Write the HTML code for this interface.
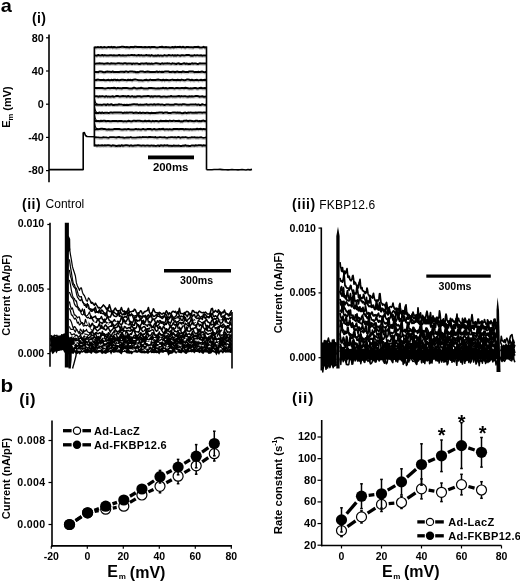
<!DOCTYPE html>
<html><head><meta charset="utf-8"><title>Figure</title><style>
html,body{margin:0;padding:0;background:#fff;overflow:hidden;}
svg{display:block;will-change:transform;}
text{font-family:"Liberation Sans",sans-serif;fill:#000;}
</style></head><body>
<svg width="520" height="582" viewBox="0 0 520 582">
<rect width="520" height="582" fill="#fff"/>
<text transform="translate(0.8,12.2) scale(1.12,1)" font-size="17.8" font-weight="bold">a</text>
<text x="32.00" y="23.00" font-size="14" font-weight="bold" text-anchor="start" letter-spacing="0.4">(i)</text>
<line x1="49.00" y1="34.50" x2="49.00" y2="182.30" stroke="#000" stroke-width="1.6" />
<line x1="46.00" y1="37.80" x2="49.00" y2="37.80" stroke="#000" stroke-width="1.2" />
<text x="43.80" y="41.60" font-size="10.8" font-weight="bold" text-anchor="end" >80</text>
<line x1="46.00" y1="71.00" x2="49.00" y2="71.00" stroke="#000" stroke-width="1.2" />
<text x="43.80" y="74.80" font-size="10.8" font-weight="bold" text-anchor="end" >40</text>
<line x1="46.00" y1="104.20" x2="49.00" y2="104.20" stroke="#000" stroke-width="1.2" />
<text x="43.80" y="108.00" font-size="10.8" font-weight="bold" text-anchor="end" >0</text>
<line x1="46.00" y1="137.40" x2="49.00" y2="137.40" stroke="#000" stroke-width="1.2" />
<text x="43.80" y="141.20" font-size="10.8" font-weight="bold" text-anchor="end" >-40</text>
<line x1="46.00" y1="170.60" x2="49.00" y2="170.60" stroke="#000" stroke-width="1.2" />
<text x="43.80" y="174.40" font-size="10.8" font-weight="bold" text-anchor="end" >-80</text>
<text transform="translate(10,107) rotate(-90)" font-size="11" font-weight="bold" text-anchor="middle">E<tspan font-size="7.5" dy="2.5">m</tspan><tspan dy="-2"> (mV)</tspan></text>
<path d="M49.0,169.6 L83.2,169.6 L83.2,133.0 L84.3,132.5 L85.5,135.5 L87.0,136.5 L94.3,136.7" fill="none" stroke="#000" stroke-width="1.6" stroke-linejoin="round" />
<line x1="94.40" y1="46.70" x2="94.40" y2="146.50" stroke="#000" stroke-width="1.7" />
<path d="M94.4,145.5 L95.7,145.3 L97.0,145.7 L98.3,145.3 L99.6,145.6 L100.9,145.5 L102.2,145.2 L103.5,145.6 L104.8,145.2 L106.1,145.5 L107.4,145.3 L108.7,145.3 L110.0,145.5 L111.3,145.9 L112.6,145.3 L113.9,145.4 L115.2,145.7 L116.5,146.0 L117.8,145.7 L119.1,145.5 L120.4,146.0 L121.7,145.2 L123.0,145.9 L124.3,145.4 L125.6,145.3 L126.9,145.3 L128.2,145.4 L129.5,145.9 L130.8,145.3 L132.1,145.7 L133.4,145.7 L134.7,145.5 L136.0,145.6 L137.3,145.3 L138.6,145.2 L139.9,145.4 L141.2,145.7 L142.5,145.5 L143.8,145.5 L145.1,145.7 L146.4,145.6 L147.7,145.4 L149.0,145.8 L150.3,145.8 L151.6,145.4 L152.9,145.7 L154.2,145.6 L155.5,145.9 L156.8,145.8 L158.1,145.4 L159.4,146.0 L160.7,145.3 L162.0,145.5 L163.3,145.8 L164.6,145.3 L165.9,145.6 L167.2,145.2 L168.5,145.7 L169.8,145.8 L171.1,145.7 L172.4,145.9 L173.7,145.5 L175.0,145.8 L176.3,145.7 L177.6,145.7 L178.9,145.6 L180.2,145.9 L181.5,146.0 L182.8,145.6 L184.1,145.7 L185.4,145.2 L186.7,145.8 L188.0,145.7 L189.3,146.0 L190.6,145.9 L191.9,145.4 L193.2,145.5 L194.5,145.7 L195.8,145.2 L197.1,145.6 L198.4,145.3 L199.7,145.3 L201.0,145.2 L202.3,145.8 L203.6,145.3 L204.9,145.4 L206.5,145.6" fill="none" stroke="#000" stroke-width="2.0" stroke-linejoin="round" />
<path d="M95.7,147.0 L97.0,147.4 L98.3,147.0 L99.6,147.3 L100.9,147.2 L102.2,146.9 L103.5,147.3 L104.8,146.9 L106.1,147.2 L107.4,147.0 L108.7,147.0 L110.0,147.2 L111.3,147.6 L112.6,147.0 L113.9,147.1 L115.2,147.4 L116.5,147.7 L117.8,147.4 L119.1,147.2 L120.4,147.7 L121.7,146.9 L123.0,147.6 L124.3,147.1 L125.6,147.0 L126.9,147.0 L128.2,147.1 L129.5,147.6 L130.8,147.0 L132.1,147.4 L133.4,147.4 L134.7,147.2 L136.0,147.3 L137.3,147.0 L138.6,146.9 L139.9,147.1 L141.2,147.4 L142.5,147.2 L143.8,147.2 L145.1,147.4 L146.4,147.3 L147.7,147.1 L149.0,147.5 L150.3,147.5 L151.6,147.1 L152.9,147.4 L154.2,147.3 L155.5,147.6 L156.8,147.5 L158.1,147.1 L159.4,147.7 L160.7,147.0 L162.0,147.2 L163.3,147.5 L164.6,147.0 L165.9,147.3 L167.2,146.9 L168.5,147.4 L169.8,147.5 L171.1,147.4 L172.4,147.6 L173.7,147.2 L175.0,147.5 L176.3,147.4 L177.6,147.4 L178.9,147.3 L180.2,147.6 L181.5,147.7 L182.8,147.3 L184.1,147.4 L185.4,146.9 L186.7,147.5 L188.0,147.4 L189.3,147.7 L190.6,147.6 L191.9,147.1 L193.2,147.2 L194.5,147.4 L195.8,146.9 L197.1,147.3 L198.4,147.0 L199.7,147.0 L201.0,146.9 L202.3,147.5 L203.6,147.0 L204.9,147.1 L206.5,147.3" fill="none" stroke="#000" stroke-width="0.9" stroke-linejoin="round" stroke-opacity="0.3"/>
<path d="M94.4,137.7 L95.7,137.1 L97.0,137.4 L98.3,137.4 L99.6,137.7 L100.9,137.7 L102.2,137.7 L103.5,137.2 L104.8,137.3 L106.1,137.3 L107.4,137.7 L108.7,137.8 L110.0,137.1 L111.3,137.1 L112.6,137.2 L113.9,137.2 L115.2,137.4 L116.5,137.5 L117.8,137.2 L119.1,137.0 L120.4,137.3 L121.7,137.3 L123.0,137.5 L124.3,137.8 L125.6,137.6 L126.9,137.4 L128.2,137.5 L129.5,137.5 L130.8,137.0 L132.1,137.7 L133.4,137.6 L134.7,137.7 L136.0,137.6 L137.3,137.3 L138.6,137.3 L139.9,137.1 L141.2,137.5 L142.5,137.0 L143.8,137.1 L145.1,137.2 L146.4,137.1 L147.7,137.3 L149.0,137.0 L150.3,137.0 L151.6,137.1 L152.9,137.1 L154.2,137.3 L155.5,137.0 L156.8,137.7 L158.1,137.5 L159.4,137.1 L160.7,137.2 L162.0,137.3 L163.3,137.3 L164.6,137.1 L165.9,137.7 L167.2,137.8 L168.5,137.4 L169.8,137.4 L171.1,137.1 L172.4,137.1 L173.7,137.3 L175.0,137.2 L176.3,137.7 L177.6,137.1 L178.9,137.0 L180.2,137.8 L181.5,137.4 L182.8,137.1 L184.1,137.4 L185.4,137.0 L186.7,137.4 L188.0,137.8 L189.3,137.7 L190.6,137.6 L191.9,137.2 L193.2,137.3 L194.5,137.1 L195.8,137.6 L197.1,137.4 L198.4,137.6 L199.7,137.3 L201.0,137.2 L202.3,137.6 L203.6,137.8 L204.9,137.7 L206.5,137.4" fill="none" stroke="#000" stroke-width="1.8" stroke-linejoin="round" />
<path d="M95.7,138.8 L97.0,139.1 L98.3,139.1 L99.6,139.4 L100.9,139.4 L102.2,139.4 L103.5,138.9 L104.8,139.0 L106.1,139.0 L107.4,139.4 L108.7,139.5 L110.0,138.8 L111.3,138.8 L112.6,138.9 L113.9,138.9 L115.2,139.1 L116.5,139.2 L117.8,138.9 L119.1,138.7 L120.4,139.0 L121.7,139.0 L123.0,139.2 L124.3,139.5 L125.6,139.3 L126.9,139.1 L128.2,139.2 L129.5,139.2 L130.8,138.7 L132.1,139.4 L133.4,139.3 L134.7,139.4 L136.0,139.3 L137.3,139.0 L138.6,139.0 L139.9,138.8 L141.2,139.2 L142.5,138.7 L143.8,138.8 L145.1,138.9 L146.4,138.8 L147.7,139.0 L149.0,138.7 L150.3,138.7 L151.6,138.8 L152.9,138.8 L154.2,139.0 L155.5,138.7 L156.8,139.4 L158.1,139.2 L159.4,138.8 L160.7,138.9 L162.0,139.0 L163.3,139.0 L164.6,138.8 L165.9,139.4 L167.2,139.5 L168.5,139.1 L169.8,139.1 L171.1,138.8 L172.4,138.8 L173.7,139.0 L175.0,138.9 L176.3,139.4 L177.6,138.8 L178.9,138.7 L180.2,139.5 L181.5,139.1 L182.8,138.8 L184.1,139.1 L185.4,138.7 L186.7,139.1 L188.0,139.5 L189.3,139.4 L190.6,139.3 L191.9,138.9 L193.2,139.0 L194.5,138.8 L195.8,139.3 L197.1,139.1 L198.4,139.3 L199.7,139.0 L201.0,138.9 L202.3,139.3 L203.6,139.5 L204.9,139.4 L206.5,139.1" fill="none" stroke="#000" stroke-width="0.9" stroke-linejoin="round" stroke-opacity="0.3"/>
<path d="M94.4,129.5 L95.7,129.4 L97.0,129.0 L98.3,129.2 L99.6,129.1 L100.9,128.8 L102.2,128.8 L103.5,129.0 L104.8,129.0 L106.1,129.4 L107.4,129.6 L108.7,129.2 L110.0,129.5 L111.3,129.6 L112.6,129.6 L113.9,129.1 L115.2,129.0 L116.5,129.0 L117.8,129.0 L119.1,129.0 L120.4,129.3 L121.7,129.5 L123.0,129.5 L124.3,129.2 L125.6,129.3 L126.9,129.4 L128.2,128.9 L129.5,129.3 L130.8,129.5 L132.1,129.4 L133.4,129.4 L134.7,129.2 L136.0,128.9 L137.3,129.4 L138.6,129.1 L139.9,129.4 L141.2,129.6 L142.5,129.1 L143.8,129.1 L145.1,129.6 L146.4,129.4 L147.7,128.9 L149.0,128.9 L150.3,128.9 L151.6,129.5 L152.9,129.4 L154.2,128.9 L155.5,129.5 L156.8,129.6 L158.1,129.3 L159.4,129.1 L160.7,129.2 L162.0,128.9 L163.3,128.8 L164.6,129.6 L165.9,129.3 L167.2,129.2 L168.5,129.5 L169.8,129.1 L171.1,129.5 L172.4,129.5 L173.7,129.0 L175.0,129.0 L176.3,129.0 L177.6,129.0 L178.9,129.3 L180.2,129.0 L181.5,129.1 L182.8,128.9 L184.1,129.5 L185.4,129.1 L186.7,129.2 L188.0,129.3 L189.3,129.5 L190.6,129.1 L191.9,129.5 L193.2,129.2 L194.5,129.2 L195.8,129.2 L197.1,128.8 L198.4,129.2 L199.7,128.9 L201.0,128.8 L202.3,129.4 L203.6,128.9 L204.9,129.2 L206.5,129.2" fill="none" stroke="#000" stroke-width="2.0" stroke-linejoin="round" />
<path d="M95.7,131.1 L97.0,130.7 L98.3,130.9 L99.6,130.8 L100.9,130.5 L102.2,130.5 L103.5,130.7 L104.8,130.7 L106.1,131.1 L107.4,131.3 L108.7,130.9 L110.0,131.2 L111.3,131.3 L112.6,131.3 L113.9,130.8 L115.2,130.7 L116.5,130.7 L117.8,130.7 L119.1,130.7 L120.4,131.0 L121.7,131.2 L123.0,131.2 L124.3,130.9 L125.6,131.0 L126.9,131.1 L128.2,130.6 L129.5,131.0 L130.8,131.2 L132.1,131.1 L133.4,131.1 L134.7,130.9 L136.0,130.6 L137.3,131.1 L138.6,130.8 L139.9,131.1 L141.2,131.3 L142.5,130.8 L143.8,130.8 L145.1,131.3 L146.4,131.1 L147.7,130.6 L149.0,130.6 L150.3,130.6 L151.6,131.2 L152.9,131.1 L154.2,130.6 L155.5,131.2 L156.8,131.3 L158.1,131.0 L159.4,130.8 L160.7,130.9 L162.0,130.6 L163.3,130.5 L164.6,131.3 L165.9,131.0 L167.2,130.9 L168.5,131.2 L169.8,130.8 L171.1,131.2 L172.4,131.2 L173.7,130.7 L175.0,130.7 L176.3,130.7 L177.6,130.7 L178.9,131.0 L180.2,130.7 L181.5,130.8 L182.8,130.6 L184.1,131.2 L185.4,130.8 L186.7,130.9 L188.0,131.0 L189.3,131.2 L190.6,130.8 L191.9,131.2 L193.2,130.9 L194.5,130.9 L195.8,130.9 L197.1,130.5 L198.4,130.9 L199.7,130.6 L201.0,130.5 L202.3,131.1 L203.6,130.6 L204.9,130.9 L206.5,130.9" fill="none" stroke="#000" stroke-width="0.9" stroke-linejoin="round" stroke-opacity="0.3"/>
<path d="M94.6,123.7 Q95.4,128.6 97.5,129.2" fill="none" stroke="#000" stroke-width="1.1" stroke-linejoin="round" />
<path d="M94.4,121.0 L95.7,120.9 L97.0,121.0 L98.3,121.0 L99.6,121.2 L100.9,120.7 L102.2,121.0 L103.5,120.8 L104.8,120.8 L106.1,121.2 L107.4,121.0 L108.7,121.0 L110.0,121.2 L111.3,121.3 L112.6,121.0 L113.9,121.1 L115.2,121.0 L116.5,121.0 L117.8,121.2 L119.1,121.0 L120.4,121.0 L121.7,121.0 L123.0,121.4 L124.3,121.2 L125.6,121.3 L126.9,121.4 L128.2,120.8 L129.5,121.0 L130.8,121.4 L132.1,121.3 L133.4,120.7 L134.7,120.7 L136.0,121.0 L137.3,120.7 L138.6,120.8 L139.9,120.7 L141.2,121.1 L142.5,121.2 L143.8,121.3 L145.1,120.7 L146.4,121.2 L147.7,121.1 L149.0,120.7 L150.3,121.3 L151.6,121.4 L152.9,120.8 L154.2,121.4 L155.5,120.9 L156.8,121.0 L158.1,121.4 L159.4,121.3 L160.7,120.7 L162.0,120.9 L163.3,121.0 L164.6,120.9 L165.9,120.8 L167.2,120.9 L168.5,121.2 L169.8,120.6 L171.1,121.0 L172.4,121.0 L173.7,120.6 L175.0,120.9 L176.3,121.1 L177.6,121.0 L178.9,120.7 L180.2,121.4 L181.5,121.2 L182.8,121.4 L184.1,120.7 L185.4,120.8 L186.7,120.6 L188.0,121.2 L189.3,120.8 L190.6,120.7 L191.9,120.9 L193.2,121.3 L194.5,121.3 L195.8,120.8 L197.1,120.7 L198.4,121.3 L199.7,121.1 L201.0,121.2 L202.3,120.7 L203.6,120.6 L204.9,121.2 L206.5,121.0" fill="none" stroke="#000" stroke-width="2.0" stroke-linejoin="round" />
<path d="M95.7,122.6 L97.0,122.7 L98.3,122.7 L99.6,122.9 L100.9,122.4 L102.2,122.7 L103.5,122.5 L104.8,122.5 L106.1,122.9 L107.4,122.7 L108.7,122.7 L110.0,122.9 L111.3,123.0 L112.6,122.7 L113.9,122.8 L115.2,122.7 L116.5,122.7 L117.8,122.9 L119.1,122.7 L120.4,122.7 L121.7,122.7 L123.0,123.1 L124.3,122.9 L125.6,123.0 L126.9,123.1 L128.2,122.5 L129.5,122.7 L130.8,123.1 L132.1,123.0 L133.4,122.4 L134.7,122.4 L136.0,122.7 L137.3,122.4 L138.6,122.5 L139.9,122.4 L141.2,122.8 L142.5,122.9 L143.8,123.0 L145.1,122.4 L146.4,122.9 L147.7,122.8 L149.0,122.4 L150.3,123.0 L151.6,123.1 L152.9,122.5 L154.2,123.1 L155.5,122.6 L156.8,122.7 L158.1,123.1 L159.4,123.0 L160.7,122.4 L162.0,122.6 L163.3,122.7 L164.6,122.6 L165.9,122.5 L167.2,122.6 L168.5,122.9 L169.8,122.3 L171.1,122.7 L172.4,122.7 L173.7,122.3 L175.0,122.6 L176.3,122.8 L177.6,122.7 L178.9,122.4 L180.2,123.1 L181.5,122.9 L182.8,123.1 L184.1,122.4 L185.4,122.5 L186.7,122.3 L188.0,122.9 L189.3,122.5 L190.6,122.4 L191.9,122.6 L193.2,123.0 L194.5,123.0 L195.8,122.5 L197.1,122.4 L198.4,123.0 L199.7,122.8 L201.0,122.9 L202.3,122.4 L203.6,122.3 L204.9,122.9 L206.5,122.7" fill="none" stroke="#000" stroke-width="0.9" stroke-linejoin="round" stroke-opacity="0.3"/>
<path d="M94.6,115.5 Q95.4,120.4 97.5,121.0" fill="none" stroke="#000" stroke-width="1.1" stroke-linejoin="round" />
<path d="M94.4,112.5 L95.7,113.2 L97.0,112.9 L98.3,113.0 L99.6,112.5 L100.9,113.1 L102.2,112.5 L103.5,113.1 L104.8,112.8 L106.1,112.7 L107.4,112.8 L108.7,113.1 L110.0,112.6 L111.3,112.5 L112.6,112.8 L113.9,112.6 L115.2,112.5 L116.5,112.5 L117.8,112.4 L119.1,112.6 L120.4,112.6 L121.7,112.6 L123.0,113.0 L124.3,112.6 L125.6,112.8 L126.9,112.5 L128.2,112.7 L129.5,112.4 L130.8,112.6 L132.1,112.4 L133.4,113.0 L134.7,112.8 L136.0,112.6 L137.3,112.8 L138.6,113.1 L139.9,112.5 L141.2,113.1 L142.5,112.7 L143.8,112.8 L145.1,113.1 L146.4,112.7 L147.7,112.8 L149.0,113.0 L150.3,113.2 L151.6,112.7 L152.9,113.1 L154.2,113.0 L155.5,112.9 L156.8,112.7 L158.1,112.7 L159.4,112.4 L160.7,112.5 L162.0,112.5 L163.3,113.0 L164.6,112.6 L165.9,112.5 L167.2,112.5 L168.5,113.1 L169.8,113.1 L171.1,112.9 L172.4,112.6 L173.7,112.6 L175.0,112.6 L176.3,112.8 L177.6,112.5 L178.9,112.8 L180.2,112.6 L181.5,113.2 L182.8,113.2 L184.1,112.8 L185.4,112.6 L186.7,113.2 L188.0,112.6 L189.3,112.7 L190.6,112.4 L191.9,112.7 L193.2,112.8 L194.5,112.8 L195.8,112.6 L197.1,112.8 L198.4,112.4 L199.7,112.6 L201.0,112.5 L202.3,112.7 L203.6,112.4 L204.9,112.4 L206.5,112.8" fill="none" stroke="#000" stroke-width="2.0" stroke-linejoin="round" />
<path d="M95.7,114.9 L97.0,114.6 L98.3,114.7 L99.6,114.2 L100.9,114.8 L102.2,114.2 L103.5,114.8 L104.8,114.5 L106.1,114.4 L107.4,114.5 L108.7,114.8 L110.0,114.3 L111.3,114.2 L112.6,114.5 L113.9,114.3 L115.2,114.2 L116.5,114.2 L117.8,114.1 L119.1,114.3 L120.4,114.3 L121.7,114.3 L123.0,114.7 L124.3,114.3 L125.6,114.5 L126.9,114.2 L128.2,114.4 L129.5,114.1 L130.8,114.3 L132.1,114.1 L133.4,114.7 L134.7,114.5 L136.0,114.3 L137.3,114.5 L138.6,114.8 L139.9,114.2 L141.2,114.8 L142.5,114.4 L143.8,114.5 L145.1,114.8 L146.4,114.4 L147.7,114.5 L149.0,114.7 L150.3,114.9 L151.6,114.4 L152.9,114.8 L154.2,114.7 L155.5,114.6 L156.8,114.4 L158.1,114.4 L159.4,114.1 L160.7,114.2 L162.0,114.2 L163.3,114.7 L164.6,114.3 L165.9,114.2 L167.2,114.2 L168.5,114.8 L169.8,114.8 L171.1,114.6 L172.4,114.3 L173.7,114.3 L175.0,114.3 L176.3,114.5 L177.6,114.2 L178.9,114.5 L180.2,114.3 L181.5,114.9 L182.8,114.9 L184.1,114.5 L185.4,114.3 L186.7,114.9 L188.0,114.3 L189.3,114.4 L190.6,114.1 L191.9,114.4 L193.2,114.5 L194.5,114.5 L195.8,114.3 L197.1,114.5 L198.4,114.1 L199.7,114.3 L201.0,114.2 L202.3,114.4 L203.6,114.1 L204.9,114.1 L206.5,114.5" fill="none" stroke="#000" stroke-width="0.9" stroke-linejoin="round" stroke-opacity="0.3"/>
<path d="M94.6,107.3 Q95.4,112.2 97.5,112.8" fill="none" stroke="#000" stroke-width="1.1" stroke-linejoin="round" />
<path d="M94.4,104.4 L95.7,104.7 L97.0,104.6 L98.3,104.8 L99.6,104.7 L100.9,104.8 L102.2,104.9 L103.5,104.5 L104.8,104.5 L106.1,105.0 L107.4,104.3 L108.7,104.8 L110.0,104.7 L111.3,104.2 L112.6,104.9 L113.9,104.9 L115.2,104.7 L116.5,104.8 L117.8,104.8 L119.1,104.3 L120.4,104.6 L121.7,104.6 L123.0,104.9 L124.3,104.8 L125.6,104.9 L126.9,104.7 L128.2,104.9 L129.5,104.7 L130.8,104.8 L132.1,104.4 L133.4,104.2 L134.7,104.3 L136.0,104.5 L137.3,104.3 L138.6,104.9 L139.9,104.6 L141.2,104.7 L142.5,104.7 L143.8,104.7 L145.1,104.6 L146.4,104.2 L147.7,104.8 L149.0,104.8 L150.3,104.6 L151.6,104.6 L152.9,104.7 L154.2,104.3 L155.5,104.8 L156.8,104.4 L158.1,104.3 L159.4,104.4 L160.7,104.8 L162.0,104.4 L163.3,104.8 L164.6,105.0 L165.9,104.6 L167.2,104.5 L168.5,104.6 L169.8,104.7 L171.1,104.8 L172.4,104.7 L173.7,104.7 L175.0,104.3 L176.3,104.3 L177.6,104.4 L178.9,104.8 L180.2,104.4 L181.5,104.7 L182.8,104.2 L184.1,104.2 L185.4,104.4 L186.7,104.7 L188.0,104.8 L189.3,104.7 L190.6,104.4 L191.9,104.6 L193.2,104.6 L194.5,104.6 L195.8,104.3 L197.1,104.9 L198.4,104.4 L199.7,105.0 L201.0,104.9 L202.3,104.2 L203.6,104.6 L204.9,104.9 L206.5,104.6" fill="none" stroke="#000" stroke-width="2.0" stroke-linejoin="round" />
<path d="M95.7,106.4 L97.0,106.3 L98.3,106.5 L99.6,106.4 L100.9,106.5 L102.2,106.6 L103.5,106.2 L104.8,106.2 L106.1,106.7 L107.4,106.0 L108.7,106.5 L110.0,106.4 L111.3,105.9 L112.6,106.6 L113.9,106.6 L115.2,106.4 L116.5,106.5 L117.8,106.5 L119.1,106.0 L120.4,106.3 L121.7,106.3 L123.0,106.6 L124.3,106.5 L125.6,106.6 L126.9,106.4 L128.2,106.6 L129.5,106.4 L130.8,106.5 L132.1,106.1 L133.4,105.9 L134.7,106.0 L136.0,106.2 L137.3,106.0 L138.6,106.6 L139.9,106.3 L141.2,106.4 L142.5,106.4 L143.8,106.4 L145.1,106.3 L146.4,105.9 L147.7,106.5 L149.0,106.5 L150.3,106.3 L151.6,106.3 L152.9,106.4 L154.2,106.0 L155.5,106.5 L156.8,106.1 L158.1,106.0 L159.4,106.1 L160.7,106.5 L162.0,106.1 L163.3,106.5 L164.6,106.7 L165.9,106.3 L167.2,106.2 L168.5,106.3 L169.8,106.4 L171.1,106.5 L172.4,106.4 L173.7,106.4 L175.0,106.0 L176.3,106.0 L177.6,106.1 L178.9,106.5 L180.2,106.1 L181.5,106.4 L182.8,105.9 L184.1,105.9 L185.4,106.1 L186.7,106.4 L188.0,106.5 L189.3,106.4 L190.6,106.1 L191.9,106.3 L193.2,106.3 L194.5,106.3 L195.8,106.0 L197.1,106.6 L198.4,106.1 L199.7,106.7 L201.0,106.6 L202.3,105.9 L203.6,106.3 L204.9,106.6 L206.5,106.3" fill="none" stroke="#000" stroke-width="0.9" stroke-linejoin="round" stroke-opacity="0.3"/>
<path d="M94.6,99.1 Q95.4,104.0 97.5,104.6" fill="none" stroke="#000" stroke-width="1.1" stroke-linejoin="round" />
<path d="M94.4,96.4 L95.7,96.2 L97.0,96.2 L98.3,96.8 L99.6,96.2 L100.9,96.5 L102.2,96.1 L103.5,96.4 L104.8,96.8 L106.1,96.1 L107.4,96.7 L108.7,96.4 L110.0,96.7 L111.3,96.6 L112.6,96.2 L113.9,96.7 L115.2,96.4 L116.5,96.0 L117.8,96.0 L119.1,96.4 L120.4,96.4 L121.7,96.2 L123.0,96.1 L124.3,96.3 L125.6,96.3 L126.9,96.7 L128.2,96.0 L129.5,96.6 L130.8,96.7 L132.1,96.1 L133.4,96.7 L134.7,96.6 L136.0,96.7 L137.3,96.2 L138.6,96.3 L139.9,96.3 L141.2,96.8 L142.5,96.5 L143.8,96.3 L145.1,96.3 L146.4,96.2 L147.7,96.0 L149.0,96.1 L150.3,96.7 L151.6,96.2 L152.9,96.7 L154.2,96.2 L155.5,96.2 L156.8,96.4 L158.1,96.2 L159.4,96.3 L160.7,96.8 L162.0,96.7 L163.3,96.6 L164.6,96.5 L165.9,96.7 L167.2,96.8 L168.5,96.4 L169.8,96.6 L171.1,96.0 L172.4,96.6 L173.7,96.4 L175.0,96.6 L176.3,96.5 L177.6,96.2 L178.9,96.0 L180.2,96.7 L181.5,96.1 L182.8,96.4 L184.1,96.3 L185.4,96.2 L186.7,96.6 L188.0,96.8 L189.3,96.2 L190.6,96.5 L191.9,96.2 L193.2,96.4 L194.5,96.3 L195.8,96.1 L197.1,96.1 L198.4,96.2 L199.7,96.7 L201.0,96.4 L202.3,96.2 L203.6,96.7 L204.9,96.8 L206.5,96.4" fill="none" stroke="#000" stroke-width="2.0" stroke-linejoin="round" />
<path d="M95.7,97.9 L97.0,97.9 L98.3,98.5 L99.6,97.9 L100.9,98.2 L102.2,97.8 L103.5,98.1 L104.8,98.5 L106.1,97.8 L107.4,98.4 L108.7,98.1 L110.0,98.4 L111.3,98.3 L112.6,97.9 L113.9,98.4 L115.2,98.1 L116.5,97.7 L117.8,97.7 L119.1,98.1 L120.4,98.1 L121.7,97.9 L123.0,97.8 L124.3,98.0 L125.6,98.0 L126.9,98.4 L128.2,97.7 L129.5,98.3 L130.8,98.4 L132.1,97.8 L133.4,98.4 L134.7,98.3 L136.0,98.4 L137.3,97.9 L138.6,98.0 L139.9,98.0 L141.2,98.5 L142.5,98.2 L143.8,98.0 L145.1,98.0 L146.4,97.9 L147.7,97.7 L149.0,97.8 L150.3,98.4 L151.6,97.9 L152.9,98.4 L154.2,97.9 L155.5,97.9 L156.8,98.1 L158.1,97.9 L159.4,98.0 L160.7,98.5 L162.0,98.4 L163.3,98.3 L164.6,98.2 L165.9,98.4 L167.2,98.5 L168.5,98.1 L169.8,98.3 L171.1,97.7 L172.4,98.3 L173.7,98.1 L175.0,98.3 L176.3,98.2 L177.6,97.9 L178.9,97.7 L180.2,98.4 L181.5,97.8 L182.8,98.1 L184.1,98.0 L185.4,97.9 L186.7,98.3 L188.0,98.5 L189.3,97.9 L190.6,98.2 L191.9,97.9 L193.2,98.1 L194.5,98.0 L195.8,97.8 L197.1,97.8 L198.4,97.9 L199.7,98.4 L201.0,98.1 L202.3,97.9 L203.6,98.4 L204.9,98.5 L206.5,98.1" fill="none" stroke="#000" stroke-width="0.9" stroke-linejoin="round" stroke-opacity="0.3"/>
<path d="M94.4,87.9 L95.7,88.0 L97.0,87.9 L98.3,88.1 L99.6,87.9 L100.9,88.0 L102.2,88.0 L103.5,88.3 L104.8,88.5 L106.1,88.4 L107.4,88.1 L108.7,88.1 L110.0,88.2 L111.3,88.1 L112.6,88.1 L113.9,87.8 L115.2,88.0 L116.5,88.6 L117.8,87.9 L119.1,88.2 L120.4,88.3 L121.7,88.5 L123.0,88.0 L124.3,88.0 L125.6,88.0 L126.9,88.1 L128.2,88.2 L129.5,88.6 L130.8,88.5 L132.1,88.5 L133.4,87.8 L134.7,87.8 L136.0,88.4 L137.3,88.5 L138.6,88.2 L139.9,88.3 L141.2,87.8 L142.5,88.1 L143.8,88.5 L145.1,88.5 L146.4,88.5 L147.7,88.6 L149.0,88.0 L150.3,87.9 L151.6,87.9 L152.9,88.2 L154.2,88.3 L155.5,88.6 L156.8,88.4 L158.1,88.3 L159.4,88.4 L160.7,88.2 L162.0,88.2 L163.3,87.8 L164.6,88.4 L165.9,88.0 L167.2,88.5 L168.5,88.3 L169.8,88.0 L171.1,87.9 L172.4,88.0 L173.7,88.3 L175.0,88.4 L176.3,87.9 L177.6,87.9 L178.9,88.2 L180.2,88.3 L181.5,88.1 L182.8,88.0 L184.1,88.3 L185.4,87.8 L186.7,88.0 L188.0,88.2 L189.3,88.6 L190.6,88.3 L191.9,88.5 L193.2,88.2 L194.5,88.0 L195.8,88.0 L197.1,88.6 L198.4,88.4 L199.7,88.0 L201.0,87.8 L202.3,88.2 L203.6,88.3 L204.9,88.1 L206.5,88.2" fill="none" stroke="#000" stroke-width="2.0" stroke-linejoin="round" />
<path d="M95.7,89.7 L97.0,89.6 L98.3,89.8 L99.6,89.6 L100.9,89.7 L102.2,89.7 L103.5,90.0 L104.8,90.2 L106.1,90.1 L107.4,89.8 L108.7,89.8 L110.0,89.9 L111.3,89.8 L112.6,89.8 L113.9,89.5 L115.2,89.7 L116.5,90.3 L117.8,89.6 L119.1,89.9 L120.4,90.0 L121.7,90.2 L123.0,89.7 L124.3,89.7 L125.6,89.7 L126.9,89.8 L128.2,89.9 L129.5,90.3 L130.8,90.2 L132.1,90.2 L133.4,89.5 L134.7,89.5 L136.0,90.1 L137.3,90.2 L138.6,89.9 L139.9,90.0 L141.2,89.5 L142.5,89.8 L143.8,90.2 L145.1,90.2 L146.4,90.2 L147.7,90.3 L149.0,89.7 L150.3,89.6 L151.6,89.6 L152.9,89.9 L154.2,90.0 L155.5,90.3 L156.8,90.1 L158.1,90.0 L159.4,90.1 L160.7,89.9 L162.0,89.9 L163.3,89.5 L164.6,90.1 L165.9,89.7 L167.2,90.2 L168.5,90.0 L169.8,89.7 L171.1,89.6 L172.4,89.7 L173.7,90.0 L175.0,90.1 L176.3,89.6 L177.6,89.6 L178.9,89.9 L180.2,90.0 L181.5,89.8 L182.8,89.7 L184.1,90.0 L185.4,89.5 L186.7,89.7 L188.0,89.9 L189.3,90.3 L190.6,90.0 L191.9,90.2 L193.2,89.9 L194.5,89.7 L195.8,89.7 L197.1,90.3 L198.4,90.1 L199.7,89.7 L201.0,89.5 L202.3,89.9 L203.6,90.0 L204.9,89.8 L206.5,89.9" fill="none" stroke="#000" stroke-width="0.9" stroke-linejoin="round" stroke-opacity="0.3"/>
<path d="M94.4,80.1 L95.7,80.3 L97.0,79.8 L98.3,79.6 L99.6,79.9 L100.9,79.9 L102.2,80.1 L103.5,79.8 L104.8,80.2 L106.1,80.2 L107.4,80.0 L108.7,79.8 L110.0,80.4 L111.3,79.8 L112.6,80.3 L113.9,79.8 L115.2,79.8 L116.5,80.2 L117.8,79.8 L119.1,80.4 L120.4,80.0 L121.7,79.7 L123.0,79.8 L124.3,79.9 L125.6,80.1 L126.9,80.4 L128.2,79.7 L129.5,79.9 L130.8,79.8 L132.1,80.4 L133.4,79.7 L134.7,79.6 L136.0,79.6 L137.3,79.9 L138.6,80.3 L139.9,80.3 L141.2,80.2 L142.5,80.4 L143.8,80.3 L145.1,79.9 L146.4,79.7 L147.7,80.3 L149.0,80.2 L150.3,79.6 L151.6,80.1 L152.9,79.9 L154.2,79.9 L155.5,79.9 L156.8,79.7 L158.1,79.6 L159.4,79.8 L160.7,79.9 L162.0,80.4 L163.3,79.7 L164.6,80.4 L165.9,79.8 L167.2,79.9 L168.5,80.3 L169.8,80.3 L171.1,79.9 L172.4,79.6 L173.7,80.0 L175.0,79.9 L176.3,80.3 L177.6,79.8 L178.9,79.9 L180.2,80.3 L181.5,79.6 L182.8,79.9 L184.1,80.2 L185.4,80.2 L186.7,79.6 L188.0,79.6 L189.3,79.7 L190.6,80.3 L191.9,79.8 L193.2,80.2 L194.5,80.3 L195.8,79.9 L197.1,79.8 L198.4,80.4 L199.7,80.1 L201.0,79.8 L202.3,80.2 L203.6,79.9 L204.9,79.8 L206.5,80.0" fill="none" stroke="#000" stroke-width="2.0" stroke-linejoin="round" />
<path d="M95.7,82.0 L97.0,81.5 L98.3,81.3 L99.6,81.6 L100.9,81.6 L102.2,81.8 L103.5,81.5 L104.8,81.9 L106.1,81.9 L107.4,81.7 L108.7,81.5 L110.0,82.1 L111.3,81.5 L112.6,82.0 L113.9,81.5 L115.2,81.5 L116.5,81.9 L117.8,81.5 L119.1,82.1 L120.4,81.7 L121.7,81.4 L123.0,81.5 L124.3,81.6 L125.6,81.8 L126.9,82.1 L128.2,81.4 L129.5,81.6 L130.8,81.5 L132.1,82.1 L133.4,81.4 L134.7,81.3 L136.0,81.3 L137.3,81.6 L138.6,82.0 L139.9,82.0 L141.2,81.9 L142.5,82.1 L143.8,82.0 L145.1,81.6 L146.4,81.4 L147.7,82.0 L149.0,81.9 L150.3,81.3 L151.6,81.8 L152.9,81.6 L154.2,81.6 L155.5,81.6 L156.8,81.4 L158.1,81.3 L159.4,81.5 L160.7,81.6 L162.0,82.1 L163.3,81.4 L164.6,82.1 L165.9,81.5 L167.2,81.6 L168.5,82.0 L169.8,82.0 L171.1,81.6 L172.4,81.3 L173.7,81.7 L175.0,81.6 L176.3,82.0 L177.6,81.5 L178.9,81.6 L180.2,82.0 L181.5,81.3 L182.8,81.6 L184.1,81.9 L185.4,81.9 L186.7,81.3 L188.0,81.3 L189.3,81.4 L190.6,82.0 L191.9,81.5 L193.2,81.9 L194.5,82.0 L195.8,81.6 L197.1,81.5 L198.4,82.1 L199.7,81.8 L201.0,81.5 L202.3,81.9 L203.6,81.6 L204.9,81.5 L206.5,81.7" fill="none" stroke="#000" stroke-width="0.9" stroke-linejoin="round" stroke-opacity="0.3"/>
<path d="M94.4,72.0 L95.7,72.1 L97.0,71.9 L98.3,72.2 L99.6,71.4 L100.9,71.6 L102.2,71.8 L103.5,72.2 L104.8,72.2 L106.1,71.7 L107.4,71.6 L108.7,71.7 L110.0,71.8 L111.3,72.1 L112.6,71.5 L113.9,72.0 L115.2,72.0 L116.5,72.1 L117.8,72.0 L119.1,71.9 L120.4,71.7 L121.7,71.7 L123.0,71.7 L124.3,72.0 L125.6,71.5 L126.9,71.6 L128.2,72.0 L129.5,71.6 L130.8,71.5 L132.1,71.4 L133.4,71.8 L134.7,71.7 L136.0,72.2 L137.3,72.1 L138.6,72.2 L139.9,71.6 L141.2,71.5 L142.5,71.5 L143.8,71.8 L145.1,72.0 L146.4,71.8 L147.7,71.6 L149.0,71.7 L150.3,71.9 L151.6,71.9 L152.9,72.0 L154.2,72.1 L155.5,71.9 L156.8,71.5 L158.1,72.1 L159.4,71.6 L160.7,71.9 L162.0,71.7 L163.3,72.0 L164.6,71.6 L165.9,71.6 L167.2,71.6 L168.5,71.5 L169.8,72.1 L171.1,71.9 L172.4,71.7 L173.7,71.7 L175.0,72.2 L176.3,71.8 L177.6,71.6 L178.9,72.0 L180.2,71.9 L181.5,72.2 L182.8,71.5 L184.1,71.8 L185.4,72.1 L186.7,72.1 L188.0,72.1 L189.3,71.4 L190.6,71.6 L191.9,71.5 L193.2,71.6 L194.5,72.2 L195.8,71.9 L197.1,72.1 L198.4,71.7 L199.7,72.1 L201.0,71.8 L202.3,71.6 L203.6,72.0 L204.9,72.2 L206.5,71.8" fill="none" stroke="#000" stroke-width="2.0" stroke-linejoin="round" />
<path d="M95.7,73.8 L97.0,73.6 L98.3,73.9 L99.6,73.1 L100.9,73.3 L102.2,73.5 L103.5,73.9 L104.8,73.9 L106.1,73.4 L107.4,73.3 L108.7,73.4 L110.0,73.5 L111.3,73.8 L112.6,73.2 L113.9,73.7 L115.2,73.7 L116.5,73.8 L117.8,73.7 L119.1,73.6 L120.4,73.4 L121.7,73.4 L123.0,73.4 L124.3,73.7 L125.6,73.2 L126.9,73.3 L128.2,73.7 L129.5,73.3 L130.8,73.2 L132.1,73.1 L133.4,73.5 L134.7,73.4 L136.0,73.9 L137.3,73.8 L138.6,73.9 L139.9,73.3 L141.2,73.2 L142.5,73.2 L143.8,73.5 L145.1,73.7 L146.4,73.5 L147.7,73.3 L149.0,73.4 L150.3,73.6 L151.6,73.6 L152.9,73.7 L154.2,73.8 L155.5,73.6 L156.8,73.2 L158.1,73.8 L159.4,73.3 L160.7,73.6 L162.0,73.4 L163.3,73.7 L164.6,73.3 L165.9,73.3 L167.2,73.3 L168.5,73.2 L169.8,73.8 L171.1,73.6 L172.4,73.4 L173.7,73.4 L175.0,73.9 L176.3,73.5 L177.6,73.3 L178.9,73.7 L180.2,73.6 L181.5,73.9 L182.8,73.2 L184.1,73.5 L185.4,73.8 L186.7,73.8 L188.0,73.8 L189.3,73.1 L190.6,73.3 L191.9,73.2 L193.2,73.3 L194.5,73.9 L195.8,73.6 L197.1,73.8 L198.4,73.4 L199.7,73.8 L201.0,73.5 L202.3,73.3 L203.6,73.7 L204.9,73.9 L206.5,73.5" fill="none" stroke="#000" stroke-width="0.9" stroke-linejoin="round" stroke-opacity="0.3"/>
<path d="M94.4,63.7 L95.7,63.7 L97.0,63.4 L98.3,63.5 L99.6,63.3 L100.9,63.4 L102.2,63.4 L103.5,63.7 L104.8,63.7 L106.1,63.4 L107.4,63.2 L108.7,63.5 L110.0,63.7 L111.3,63.3 L112.6,63.4 L113.9,63.4 L115.2,63.8 L116.5,63.6 L117.8,63.3 L119.1,63.3 L120.4,63.5 L121.7,63.6 L123.0,63.7 L124.3,63.3 L125.6,63.3 L126.9,63.8 L128.2,63.5 L129.5,63.4 L130.8,63.4 L132.1,64.0 L133.4,63.4 L134.7,63.7 L136.0,63.5 L137.3,63.5 L138.6,63.9 L139.9,64.0 L141.2,63.5 L142.5,63.4 L143.8,63.8 L145.1,63.4 L146.4,63.2 L147.7,63.9 L149.0,63.5 L150.3,63.9 L151.6,63.5 L152.9,63.9 L154.2,63.6 L155.5,63.3 L156.8,63.2 L158.1,63.6 L159.4,63.7 L160.7,63.9 L162.0,63.3 L163.3,63.7 L164.6,63.5 L165.9,63.6 L167.2,63.3 L168.5,63.4 L169.8,63.6 L171.1,63.9 L172.4,63.3 L173.7,63.6 L175.0,63.8 L176.3,64.0 L177.6,63.4 L178.9,63.3 L180.2,64.0 L181.5,64.0 L182.8,63.6 L184.1,63.2 L185.4,63.9 L186.7,63.5 L188.0,63.9 L189.3,63.7 L190.6,63.9 L191.9,63.3 L193.2,63.8 L194.5,63.4 L195.8,63.5 L197.1,63.9 L198.4,63.9 L199.7,63.3 L201.0,63.4 L202.3,63.5 L203.6,63.6 L204.9,63.5 L206.5,63.6" fill="none" stroke="#000" stroke-width="2.0" stroke-linejoin="round" />
<path d="M95.7,65.4 L97.0,65.1 L98.3,65.2 L99.6,65.0 L100.9,65.1 L102.2,65.1 L103.5,65.4 L104.8,65.4 L106.1,65.1 L107.4,64.9 L108.7,65.2 L110.0,65.4 L111.3,65.0 L112.6,65.1 L113.9,65.1 L115.2,65.5 L116.5,65.3 L117.8,65.0 L119.1,65.0 L120.4,65.2 L121.7,65.3 L123.0,65.4 L124.3,65.0 L125.6,65.0 L126.9,65.5 L128.2,65.2 L129.5,65.1 L130.8,65.1 L132.1,65.7 L133.4,65.1 L134.7,65.4 L136.0,65.2 L137.3,65.2 L138.6,65.6 L139.9,65.7 L141.2,65.2 L142.5,65.1 L143.8,65.5 L145.1,65.1 L146.4,64.9 L147.7,65.6 L149.0,65.2 L150.3,65.6 L151.6,65.2 L152.9,65.6 L154.2,65.3 L155.5,65.0 L156.8,64.9 L158.1,65.3 L159.4,65.4 L160.7,65.6 L162.0,65.0 L163.3,65.4 L164.6,65.2 L165.9,65.3 L167.2,65.0 L168.5,65.1 L169.8,65.3 L171.1,65.6 L172.4,65.0 L173.7,65.3 L175.0,65.5 L176.3,65.7 L177.6,65.1 L178.9,65.0 L180.2,65.7 L181.5,65.7 L182.8,65.3 L184.1,64.9 L185.4,65.6 L186.7,65.2 L188.0,65.6 L189.3,65.4 L190.6,65.6 L191.9,65.0 L193.2,65.5 L194.5,65.1 L195.8,65.2 L197.1,65.6 L198.4,65.6 L199.7,65.0 L201.0,65.1 L202.3,65.2 L203.6,65.3 L204.9,65.2 L206.5,65.3" fill="none" stroke="#000" stroke-width="0.9" stroke-linejoin="round" stroke-opacity="0.3"/>
<path d="M94.4,55.2 L95.7,55.6 L97.0,55.7 L98.3,55.0 L99.6,55.4 L100.9,55.6 L102.2,55.0 L103.5,55.7 L104.8,55.1 L106.1,55.5 L107.4,55.4 L108.7,55.5 L110.0,55.2 L111.3,55.3 L112.6,55.5 L113.9,55.3 L115.2,55.5 L116.5,55.4 L117.8,55.4 L119.1,55.0 L120.4,55.5 L121.7,55.4 L123.0,55.2 L124.3,55.6 L125.6,55.6 L126.9,55.4 L128.2,55.1 L129.5,55.4 L130.8,55.1 L132.1,55.1 L133.4,55.3 L134.7,55.1 L136.0,55.4 L137.3,55.4 L138.6,55.0 L139.9,55.5 L141.2,55.1 L142.5,55.6 L143.8,55.6 L145.1,55.4 L146.4,55.0 L147.7,55.4 L149.0,55.3 L150.3,55.8 L151.6,55.1 L152.9,55.7 L154.2,55.8 L155.5,55.6 L156.8,55.7 L158.1,55.2 L159.4,55.8 L160.7,55.4 L162.0,55.8 L163.3,55.7 L164.6,55.1 L165.9,55.6 L167.2,55.7 L168.5,55.1 L169.8,55.3 L171.1,55.6 L172.4,55.1 L173.7,55.7 L175.0,55.2 L176.3,55.7 L177.6,55.1 L178.9,55.4 L180.2,55.7 L181.5,55.2 L182.8,55.2 L184.1,55.4 L185.4,55.3 L186.7,55.0 L188.0,55.1 L189.3,55.1 L190.6,55.7 L191.9,55.5 L193.2,55.7 L194.5,55.1 L195.8,55.6 L197.1,55.1 L198.4,55.4 L199.7,55.5 L201.0,55.3 L202.3,55.7 L203.6,55.4 L204.9,55.5 L206.5,55.4" fill="none" stroke="#000" stroke-width="2.0" stroke-linejoin="round" />
<path d="M95.7,57.3 L97.0,57.4 L98.3,56.7 L99.6,57.1 L100.9,57.3 L102.2,56.7 L103.5,57.4 L104.8,56.8 L106.1,57.2 L107.4,57.1 L108.7,57.2 L110.0,56.9 L111.3,57.0 L112.6,57.2 L113.9,57.0 L115.2,57.2 L116.5,57.1 L117.8,57.1 L119.1,56.7 L120.4,57.2 L121.7,57.1 L123.0,56.9 L124.3,57.3 L125.6,57.3 L126.9,57.1 L128.2,56.8 L129.5,57.1 L130.8,56.8 L132.1,56.8 L133.4,57.0 L134.7,56.8 L136.0,57.1 L137.3,57.1 L138.6,56.7 L139.9,57.2 L141.2,56.8 L142.5,57.3 L143.8,57.3 L145.1,57.1 L146.4,56.7 L147.7,57.1 L149.0,57.0 L150.3,57.5 L151.6,56.8 L152.9,57.4 L154.2,57.5 L155.5,57.3 L156.8,57.4 L158.1,56.9 L159.4,57.5 L160.7,57.1 L162.0,57.5 L163.3,57.4 L164.6,56.8 L165.9,57.3 L167.2,57.4 L168.5,56.8 L169.8,57.0 L171.1,57.3 L172.4,56.8 L173.7,57.4 L175.0,56.9 L176.3,57.4 L177.6,56.8 L178.9,57.1 L180.2,57.4 L181.5,56.9 L182.8,56.9 L184.1,57.1 L185.4,57.0 L186.7,56.7 L188.0,56.8 L189.3,56.8 L190.6,57.4 L191.9,57.2 L193.2,57.4 L194.5,56.8 L195.8,57.3 L197.1,56.8 L198.4,57.1 L199.7,57.2 L201.0,57.0 L202.3,57.4 L203.6,57.1 L204.9,57.2 L206.5,57.1" fill="none" stroke="#000" stroke-width="0.9" stroke-linejoin="round" stroke-opacity="0.3"/>
<path d="M94.4,46.9 L95.7,47.6 L97.0,47.3 L98.3,47.1 L99.6,47.4 L100.9,47.0 L102.2,47.6 L103.5,47.3 L104.8,47.1 L106.1,47.4 L107.4,47.2 L108.7,46.9 L110.0,47.4 L111.3,46.8 L112.6,47.5 L113.9,47.0 L115.2,47.3 L116.5,47.6 L117.8,47.3 L119.1,47.3 L120.4,47.1 L121.7,46.8 L123.0,46.8 L124.3,46.9 L125.6,47.3 L126.9,47.1 L128.2,47.2 L129.5,47.5 L130.8,46.9 L132.1,47.0 L133.4,47.3 L134.7,46.8 L136.0,46.8 L137.3,47.1 L138.6,46.9 L139.9,47.1 L141.2,47.0 L142.5,47.3 L143.8,47.3 L145.1,47.0 L146.4,47.3 L147.7,47.2 L149.0,46.9 L150.3,47.5 L151.6,47.0 L152.9,46.9 L154.2,46.9 L155.5,47.3 L156.8,47.5 L158.1,47.4 L159.4,47.1 L160.7,47.0 L162.0,46.8 L163.3,47.3 L164.6,47.2 L165.9,47.1 L167.2,47.3 L168.5,47.2 L169.8,47.5 L171.1,47.4 L172.4,47.0 L173.7,47.5 L175.0,46.8 L176.3,47.2 L177.6,47.1 L178.9,47.0 L180.2,46.8 L181.5,47.4 L182.8,46.8 L184.1,47.2 L185.4,47.6 L186.7,46.9 L188.0,47.0 L189.3,47.3 L190.6,47.2 L191.9,47.3 L193.2,47.5 L194.5,46.9 L195.8,47.0 L197.1,47.0 L198.4,46.8 L199.7,47.5 L201.0,47.4 L202.3,47.4 L203.6,46.8 L204.9,47.5 L206.5,47.2" fill="none" stroke="#000" stroke-width="2.0" stroke-linejoin="round" />
<path d="M95.7,49.3 L97.0,49.0 L98.3,48.8 L99.6,49.1 L100.9,48.7 L102.2,49.3 L103.5,49.0 L104.8,48.8 L106.1,49.1 L107.4,48.9 L108.7,48.6 L110.0,49.1 L111.3,48.5 L112.6,49.2 L113.9,48.7 L115.2,49.0 L116.5,49.3 L117.8,49.0 L119.1,49.0 L120.4,48.8 L121.7,48.5 L123.0,48.5 L124.3,48.6 L125.6,49.0 L126.9,48.8 L128.2,48.9 L129.5,49.2 L130.8,48.6 L132.1,48.7 L133.4,49.0 L134.7,48.5 L136.0,48.5 L137.3,48.8 L138.6,48.6 L139.9,48.8 L141.2,48.7 L142.5,49.0 L143.8,49.0 L145.1,48.7 L146.4,49.0 L147.7,48.9 L149.0,48.6 L150.3,49.2 L151.6,48.7 L152.9,48.6 L154.2,48.6 L155.5,49.0 L156.8,49.2 L158.1,49.1 L159.4,48.8 L160.7,48.7 L162.0,48.5 L163.3,49.0 L164.6,48.9 L165.9,48.8 L167.2,49.0 L168.5,48.9 L169.8,49.2 L171.1,49.1 L172.4,48.7 L173.7,49.2 L175.0,48.5 L176.3,48.9 L177.6,48.8 L178.9,48.7 L180.2,48.5 L181.5,49.1 L182.8,48.5 L184.1,48.9 L185.4,49.3 L186.7,48.6 L188.0,48.7 L189.3,49.0 L190.6,48.9 L191.9,49.0 L193.2,49.2 L194.5,48.6 L195.8,48.7 L197.1,48.7 L198.4,48.5 L199.7,49.2 L201.0,49.1 L202.3,49.1 L203.6,48.5 L204.9,49.2 L206.5,48.9" fill="none" stroke="#000" stroke-width="0.9" stroke-linejoin="round" stroke-opacity="0.3"/>
<line x1="206.50" y1="46.40" x2="206.50" y2="169.70" stroke="#000" stroke-width="1.6" />
<path d="M206.5,169.7 L208.0,169.7 L210.0,169.8 L212.0,169.7 L214.0,169.5 L216.0,169.5 L218.0,169.5 L220.0,169.4 L222.0,169.6 L224.0,169.8 L226.0,169.8 L228.0,169.9 L230.0,169.8 L232.0,169.6 L234.0,169.7 L236.0,169.7 L238.0,169.9 L240.0,169.7 L242.0,169.6 L244.0,169.8 L246.0,170.0 L248.0,169.5 L250.0,169.9 L252.0,169.4" fill="none" stroke="#000" stroke-width="1.6" stroke-linejoin="round" />
<rect x="148" y="155.5" width="46" height="3.8" fill="#000"/>
<text x="170.70" y="171.20" font-size="11.4" font-weight="bold" text-anchor="middle" >200ms</text>
<text x="22.00" y="209.30" font-size="14" font-weight="bold" text-anchor="start" letter-spacing="0.5">(ii)</text>
<text x="45.60" y="208.30" font-size="12" font-weight="normal" text-anchor="start" >Control</text>
<line x1="50.00" y1="222.80" x2="50.00" y2="366.70" stroke="#000" stroke-width="1.6" />
<line x1="47.30" y1="224.50" x2="50.00" y2="224.50" stroke="#000" stroke-width="1.2" />
<text x="44.20" y="227.40" font-size="10.6" font-weight="bold" text-anchor="end" >0.010</text>
<line x1="47.30" y1="289.10" x2="50.00" y2="289.10" stroke="#000" stroke-width="1.2" />
<text x="44.20" y="292.00" font-size="10.6" font-weight="bold" text-anchor="end" >0.005</text>
<line x1="47.30" y1="353.60" x2="50.00" y2="353.60" stroke="#000" stroke-width="1.2" />
<text x="44.20" y="356.50" font-size="10.6" font-weight="bold" text-anchor="end" >0.000</text>
<text transform="translate(10,295) rotate(-90)" font-size="11" font-weight="bold" text-anchor="middle">Current (nA/pF)</text>
<rect x="164" y="269" width="67" height="3.5" fill="#000"/>
<text x="196.60" y="283.90" font-size="10.6" font-weight="bold" text-anchor="middle" >300ms</text>
<text x="292.00" y="209.30" font-size="14" font-weight="bold" text-anchor="start" letter-spacing="0.55">(iii)</text>
<text x="319.20" y="208.60" font-size="12" font-weight="normal" text-anchor="start" letter-spacing="0.2">FKBP12.6</text>
<line x1="321.30" y1="227.50" x2="321.30" y2="370.40" stroke="#000" stroke-width="1.6" />
<line x1="318.50" y1="228.10" x2="321.30" y2="228.10" stroke="#000" stroke-width="1.2" />
<text x="316.00" y="231.50" font-size="10.6" font-weight="bold" text-anchor="end" >0.010</text>
<line x1="318.50" y1="292.90" x2="321.30" y2="292.90" stroke="#000" stroke-width="1.2" />
<text x="316.00" y="296.30" font-size="10.6" font-weight="bold" text-anchor="end" >0.005</text>
<line x1="318.50" y1="357.70" x2="321.30" y2="357.70" stroke="#000" stroke-width="1.2" />
<text x="316.00" y="361.10" font-size="10.6" font-weight="bold" text-anchor="end" >0.000</text>
<text transform="translate(281.5,292.7) rotate(-90)" font-size="11" font-weight="bold" text-anchor="middle">Current (nA/pF)</text>
<rect x="426.3" y="274.5" width="64.5" height="3.2" fill="#000"/>
<text x="455.00" y="290.10" font-size="10.6" font-weight="bold" text-anchor="middle" >300ms</text>
<text transform="translate(0.4,392) scale(1.1,1)" font-size="18.8" font-weight="bold">b</text>
<text x="19.20" y="404.90" font-size="16.5" font-weight="bold" text-anchor="start" letter-spacing="0.4">(i)</text>
<line x1="52.00" y1="420.40" x2="52.00" y2="546.70" stroke="#000" stroke-width="1.6" />
<line x1="51.20" y1="545.90" x2="232.00" y2="545.90" stroke="#000" stroke-width="1.6" />
<line x1="48.50" y1="440.50" x2="52.00" y2="440.50" stroke="#000" stroke-width="1.2" />
<text x="45.50" y="443.70" font-size="10.6" font-weight="bold" text-anchor="end" letter-spacing="0.35">0.008</text>
<line x1="48.50" y1="482.50" x2="52.00" y2="482.50" stroke="#000" stroke-width="1.2" />
<text x="45.50" y="485.70" font-size="10.6" font-weight="bold" text-anchor="end" letter-spacing="0.35">0.004</text>
<line x1="48.50" y1="524.50" x2="52.00" y2="524.50" stroke="#000" stroke-width="1.2" />
<text x="45.50" y="527.70" font-size="10.6" font-weight="bold" text-anchor="end" letter-spacing="0.35">0.000</text>
<line x1="51.30" y1="545.90" x2="51.30" y2="548.80" stroke="#000" stroke-width="1.2" />
<text x="51.30" y="559.70" font-size="10.5" font-weight="bold" text-anchor="middle" >-20</text>
<line x1="87.30" y1="545.90" x2="87.30" y2="548.80" stroke="#000" stroke-width="1.2" />
<text x="87.30" y="559.70" font-size="10.5" font-weight="bold" text-anchor="middle" >0</text>
<line x1="123.30" y1="545.90" x2="123.30" y2="548.80" stroke="#000" stroke-width="1.2" />
<text x="123.30" y="559.70" font-size="10.5" font-weight="bold" text-anchor="middle" >20</text>
<line x1="159.30" y1="545.90" x2="159.30" y2="548.80" stroke="#000" stroke-width="1.2" />
<text x="159.30" y="559.70" font-size="10.5" font-weight="bold" text-anchor="middle" >40</text>
<line x1="195.30" y1="545.90" x2="195.30" y2="548.80" stroke="#000" stroke-width="1.2" />
<text x="195.30" y="559.70" font-size="10.5" font-weight="bold" text-anchor="middle" >60</text>
<line x1="231.30" y1="545.90" x2="231.30" y2="548.80" stroke="#000" stroke-width="1.2" />
<text x="231.30" y="559.70" font-size="10.5" font-weight="bold" text-anchor="middle" >80</text>
<text x="107.2" y="577.4" font-size="16" font-weight="bold">E<tspan font-size="8" dy="1.6" dx="0.8">m</tspan><tspan dy="-1.5" dx="-0.4"> (mV)</tspan></text>
<text transform="translate(9.6,478.5) rotate(-90)" font-size="11" font-weight="bold" text-anchor="middle">Current (nA/pF)</text>
<text x="292.00" y="403.40" font-size="15.5" font-weight="bold" text-anchor="start" letter-spacing="0.8">(ii)</text>
<line x1="321.70" y1="420.00" x2="321.70" y2="546.30" stroke="#000" stroke-width="1.6" />
<line x1="320.90" y1="545.50" x2="501.50" y2="545.50" stroke="#000" stroke-width="1.6" />
<line x1="317.50" y1="545.20" x2="321.70" y2="545.20" stroke="#000" stroke-width="1.2" />
<text x="316.30" y="548.60" font-size="11" font-weight="bold" text-anchor="end" >20</text>
<line x1="317.50" y1="523.56" x2="321.70" y2="523.56" stroke="#000" stroke-width="1.2" />
<text x="316.30" y="526.96" font-size="11" font-weight="bold" text-anchor="end" >40</text>
<line x1="317.50" y1="501.92" x2="321.70" y2="501.92" stroke="#000" stroke-width="1.2" />
<text x="316.30" y="505.32" font-size="11" font-weight="bold" text-anchor="end" >60</text>
<line x1="317.50" y1="480.28" x2="321.70" y2="480.28" stroke="#000" stroke-width="1.2" />
<text x="316.30" y="483.68" font-size="11" font-weight="bold" text-anchor="end" >80</text>
<line x1="317.50" y1="458.64" x2="321.70" y2="458.64" stroke="#000" stroke-width="1.2" />
<text x="316.30" y="462.04" font-size="11" font-weight="bold" text-anchor="end" >100</text>
<line x1="317.50" y1="437.00" x2="321.70" y2="437.00" stroke="#000" stroke-width="1.2" />
<text x="316.30" y="440.40" font-size="11" font-weight="bold" text-anchor="end" >120</text>
<line x1="341.50" y1="545.50" x2="341.50" y2="548.50" stroke="#000" stroke-width="1.2" />
<text x="341.50" y="559.70" font-size="10.5" font-weight="bold" text-anchor="middle" >0</text>
<line x1="381.50" y1="545.50" x2="381.50" y2="548.50" stroke="#000" stroke-width="1.2" />
<text x="381.50" y="559.70" font-size="10.5" font-weight="bold" text-anchor="middle" >20</text>
<line x1="421.50" y1="545.50" x2="421.50" y2="548.50" stroke="#000" stroke-width="1.2" />
<text x="421.50" y="559.70" font-size="10.5" font-weight="bold" text-anchor="middle" >40</text>
<line x1="461.50" y1="545.50" x2="461.50" y2="548.50" stroke="#000" stroke-width="1.2" />
<text x="461.50" y="559.70" font-size="10.5" font-weight="bold" text-anchor="middle" >60</text>
<line x1="501.50" y1="545.50" x2="501.50" y2="548.50" stroke="#000" stroke-width="1.2" />
<text x="501.50" y="559.70" font-size="10.5" font-weight="bold" text-anchor="middle" >80</text>
<text x="381.9" y="577" font-size="16" font-weight="bold">E<tspan font-size="8" dy="1.6" dx="0.8">m</tspan><tspan dy="-1.5" dx="-1.0"> (mV)</tspan></text>
<text transform="translate(281.8,485.2) rotate(-90)" font-size="11.4" font-weight="bold" text-anchor="middle">Rate constant (s<tspan font-size="6.5" dy="-4.5">-1</tspan><tspan dy="4.5">)</tspan></text>
<path d="M75.55,520.59 L81.55,516.71 M94.66,511.40 L98.64,510.60 M112.80,508.02 L116.70,507.38 M129.92,502.41 L135.78,498.79 M148.39,491.88 L153.51,489.42 M166.29,482.79 L171.81,479.71 M184.34,472.61 L189.96,469.39 M202.19,461.80 L208.31,457.70" fill="none" stroke="#000" stroke-width="3.3"/>
<line x1="87.60" y1="511.30" x2="87.60" y2="514.30" stroke="#000" stroke-width="1.5" />
<line x1="86.30" y1="511.30" x2="88.90" y2="511.30" stroke="#000" stroke-width="1.5" />
<line x1="86.30" y1="514.30" x2="88.90" y2="514.30" stroke="#000" stroke-width="1.5" />
<line x1="105.70" y1="507.20" x2="105.70" y2="511.20" stroke="#000" stroke-width="1.5" />
<line x1="104.40" y1="507.20" x2="107.00" y2="507.20" stroke="#000" stroke-width="1.5" />
<line x1="104.40" y1="511.20" x2="107.00" y2="511.20" stroke="#000" stroke-width="1.5" />
<line x1="123.80" y1="503.70" x2="123.80" y2="508.70" stroke="#000" stroke-width="1.5" />
<line x1="122.50" y1="503.70" x2="125.10" y2="503.70" stroke="#000" stroke-width="1.5" />
<line x1="122.50" y1="508.70" x2="125.10" y2="508.70" stroke="#000" stroke-width="1.5" />
<line x1="141.90" y1="492.00" x2="141.90" y2="498.00" stroke="#000" stroke-width="1.5" />
<line x1="140.60" y1="492.00" x2="143.20" y2="492.00" stroke="#000" stroke-width="1.5" />
<line x1="140.60" y1="498.00" x2="143.20" y2="498.00" stroke="#000" stroke-width="1.5" />
<line x1="160.00" y1="479.80" x2="160.00" y2="492.80" stroke="#000" stroke-width="1.5" />
<line x1="158.70" y1="479.80" x2="161.30" y2="479.80" stroke="#000" stroke-width="1.5" />
<line x1="158.70" y1="492.80" x2="161.30" y2="492.80" stroke="#000" stroke-width="1.5" />
<line x1="178.10" y1="468.70" x2="178.10" y2="483.70" stroke="#000" stroke-width="1.5" />
<line x1="176.80" y1="468.70" x2="179.40" y2="468.70" stroke="#000" stroke-width="1.5" />
<line x1="176.80" y1="483.70" x2="179.40" y2="483.70" stroke="#000" stroke-width="1.5" />
<line x1="196.20" y1="457.40" x2="196.20" y2="474.20" stroke="#000" stroke-width="1.5" />
<line x1="194.90" y1="457.40" x2="197.50" y2="457.40" stroke="#000" stroke-width="1.5" />
<line x1="194.90" y1="474.20" x2="197.50" y2="474.20" stroke="#000" stroke-width="1.5" />
<line x1="214.30" y1="446.40" x2="214.30" y2="461.00" stroke="#000" stroke-width="1.5" />
<line x1="213.00" y1="446.40" x2="215.60" y2="446.40" stroke="#000" stroke-width="1.5" />
<line x1="213.00" y1="461.00" x2="215.60" y2="461.00" stroke="#000" stroke-width="1.5" />
<circle cx="69.5" cy="524.5" r="5.0" fill="#fff" stroke="#000" stroke-width="1.2"/>
<circle cx="87.6" cy="512.8" r="5.0" fill="#fff" stroke="#000" stroke-width="1.2"/>
<circle cx="105.69999999999999" cy="509.2" r="5.0" fill="#fff" stroke="#000" stroke-width="1.2"/>
<circle cx="123.8" cy="506.2" r="5.0" fill="#fff" stroke="#000" stroke-width="1.2"/>
<circle cx="141.9" cy="495" r="5.0" fill="#fff" stroke="#000" stroke-width="1.2"/>
<circle cx="160.0" cy="486.3" r="5.0" fill="#fff" stroke="#000" stroke-width="1.2"/>
<circle cx="178.1" cy="476.2" r="5.0" fill="#fff" stroke="#000" stroke-width="1.2"/>
<circle cx="196.2" cy="465.8" r="5.0" fill="#fff" stroke="#000" stroke-width="1.2"/>
<circle cx="214.3" cy="453.7" r="5.0" fill="#fff" stroke="#000" stroke-width="1.2"/>
<path d="M75.55,520.59 L81.55,516.71 M94.36,510.33 L98.94,508.67 M112.51,503.87 L116.99,502.33 M129.95,496.26 L135.75,492.74 M147.86,484.95 L154.04,480.75 M166.36,473.33 L171.74,470.47 M184.27,463.39 L190.03,459.91 M202.09,452.06 L208.41,447.64" fill="none" stroke="#000" stroke-width="3.3"/>
<line x1="87.60" y1="511.30" x2="87.60" y2="514.30" stroke="#000" stroke-width="1.5" />
<line x1="86.30" y1="511.30" x2="88.90" y2="511.30" stroke="#000" stroke-width="1.5" />
<line x1="86.30" y1="514.30" x2="88.90" y2="514.30" stroke="#000" stroke-width="1.5" />
<line x1="105.70" y1="504.20" x2="105.70" y2="508.20" stroke="#000" stroke-width="1.5" />
<line x1="104.40" y1="504.20" x2="107.00" y2="504.20" stroke="#000" stroke-width="1.5" />
<line x1="104.40" y1="508.20" x2="107.00" y2="508.20" stroke="#000" stroke-width="1.5" />
<line x1="123.80" y1="497.50" x2="123.80" y2="502.50" stroke="#000" stroke-width="1.5" />
<line x1="122.50" y1="497.50" x2="125.10" y2="497.50" stroke="#000" stroke-width="1.5" />
<line x1="122.50" y1="502.50" x2="125.10" y2="502.50" stroke="#000" stroke-width="1.5" />
<line x1="141.90" y1="486.00" x2="141.90" y2="492.00" stroke="#000" stroke-width="1.5" />
<line x1="140.60" y1="486.00" x2="143.20" y2="486.00" stroke="#000" stroke-width="1.5" />
<line x1="140.60" y1="492.00" x2="143.20" y2="492.00" stroke="#000" stroke-width="1.5" />
<line x1="160.00" y1="470.40" x2="160.00" y2="483.00" stroke="#000" stroke-width="1.5" />
<line x1="158.70" y1="470.40" x2="161.30" y2="470.40" stroke="#000" stroke-width="1.5" />
<line x1="158.70" y1="483.00" x2="161.30" y2="483.00" stroke="#000" stroke-width="1.5" />
<line x1="178.10" y1="459.40" x2="178.10" y2="474.80" stroke="#000" stroke-width="1.5" />
<line x1="176.80" y1="459.40" x2="179.40" y2="459.40" stroke="#000" stroke-width="1.5" />
<line x1="176.80" y1="474.80" x2="179.40" y2="474.80" stroke="#000" stroke-width="1.5" />
<line x1="196.20" y1="444.60" x2="196.20" y2="467.80" stroke="#000" stroke-width="1.5" />
<line x1="194.90" y1="444.60" x2="197.50" y2="444.60" stroke="#000" stroke-width="1.5" />
<line x1="194.90" y1="467.80" x2="197.50" y2="467.80" stroke="#000" stroke-width="1.5" />
<line x1="214.30" y1="431.20" x2="214.30" y2="455.80" stroke="#000" stroke-width="1.5" />
<line x1="213.00" y1="431.20" x2="215.60" y2="431.20" stroke="#000" stroke-width="1.5" />
<line x1="213.00" y1="455.80" x2="215.60" y2="455.80" stroke="#000" stroke-width="1.5" />
<circle cx="69.5" cy="524.5" r="5.6" fill="#000"/>
<circle cx="87.6" cy="512.8" r="5.6" fill="#000"/>
<circle cx="105.69999999999999" cy="506.2" r="5.6" fill="#000"/>
<circle cx="123.8" cy="500" r="5.6" fill="#000"/>
<circle cx="141.9" cy="489" r="5.6" fill="#000"/>
<circle cx="160.0" cy="476.7" r="5.6" fill="#000"/>
<circle cx="178.1" cy="467.1" r="5.6" fill="#000"/>
<circle cx="196.2" cy="456.2" r="5.6" fill="#000"/>
<circle cx="214.3" cy="443.5" r="5.6" fill="#000"/>
<line x1="63.00" y1="430.70" x2="71.60" y2="430.70" stroke="#000" stroke-width="3.3" />
<line x1="82.40" y1="430.70" x2="91.00" y2="430.70" stroke="#000" stroke-width="3.3" />
<circle cx="77" cy="430.7" r="3.6" fill="#fff" stroke="#000" stroke-width="1.2"/>
<text x="94.00" y="434.60" font-size="11" font-weight="bold" text-anchor="start" letter-spacing="0.3">Ad-LacZ</text>
<line x1="63.00" y1="444.80" x2="71.60" y2="444.80" stroke="#000" stroke-width="3.3" />
<line x1="82.40" y1="444.80" x2="91.00" y2="444.80" stroke="#000" stroke-width="3.3" />
<circle cx="77" cy="444.8" r="4.2" fill="#000"/>
<text x="94.00" y="448.70" font-size="11" font-weight="bold" text-anchor="start" letter-spacing="0.3">Ad-FKBP12.6</text>
<path d="M347.44,526.53 L355.56,520.97 M367.61,513.08 L375.39,508.22 M388.67,503.72 L394.33,503.18 M407.45,498.45 L415.55,492.95 M428.60,490.11 L434.40,491.09 M448.22,489.71 L454.78,487.19 M468.45,486.48 L474.55,488.12" fill="none" stroke="#000" stroke-width="3.3"/>
<line x1="341.50" y1="524.60" x2="341.50" y2="536.60" stroke="#000" stroke-width="1.5" />
<line x1="340.20" y1="524.60" x2="342.80" y2="524.60" stroke="#000" stroke-width="1.5" />
<line x1="340.20" y1="536.60" x2="342.80" y2="536.60" stroke="#000" stroke-width="1.5" />
<line x1="361.50" y1="510.80" x2="361.50" y2="523.00" stroke="#000" stroke-width="1.5" />
<line x1="360.20" y1="510.80" x2="362.80" y2="510.80" stroke="#000" stroke-width="1.5" />
<line x1="360.20" y1="523.00" x2="362.80" y2="523.00" stroke="#000" stroke-width="1.5" />
<line x1="381.50" y1="497.30" x2="381.50" y2="511.50" stroke="#000" stroke-width="1.5" />
<line x1="380.20" y1="497.30" x2="382.80" y2="497.30" stroke="#000" stroke-width="1.5" />
<line x1="380.20" y1="511.50" x2="382.80" y2="511.50" stroke="#000" stroke-width="1.5" />
<line x1="401.50" y1="496.50" x2="401.50" y2="508.50" stroke="#000" stroke-width="1.5" />
<line x1="400.20" y1="496.50" x2="402.80" y2="496.50" stroke="#000" stroke-width="1.5" />
<line x1="400.20" y1="508.50" x2="402.80" y2="508.50" stroke="#000" stroke-width="1.5" />
<line x1="421.50" y1="478.90" x2="421.50" y2="498.90" stroke="#000" stroke-width="1.5" />
<line x1="420.20" y1="478.90" x2="422.80" y2="478.90" stroke="#000" stroke-width="1.5" />
<line x1="420.20" y1="498.90" x2="422.80" y2="498.90" stroke="#000" stroke-width="1.5" />
<line x1="441.50" y1="483.00" x2="441.50" y2="501.60" stroke="#000" stroke-width="1.5" />
<line x1="440.20" y1="483.00" x2="442.80" y2="483.00" stroke="#000" stroke-width="1.5" />
<line x1="440.20" y1="501.60" x2="442.80" y2="501.60" stroke="#000" stroke-width="1.5" />
<line x1="461.50" y1="474.30" x2="461.50" y2="494.90" stroke="#000" stroke-width="1.5" />
<line x1="460.20" y1="474.30" x2="462.80" y2="474.30" stroke="#000" stroke-width="1.5" />
<line x1="460.20" y1="494.90" x2="462.80" y2="494.90" stroke="#000" stroke-width="1.5" />
<line x1="481.50" y1="481.70" x2="481.50" y2="498.30" stroke="#000" stroke-width="1.5" />
<line x1="480.20" y1="481.70" x2="482.80" y2="481.70" stroke="#000" stroke-width="1.5" />
<line x1="480.20" y1="498.30" x2="482.80" y2="498.30" stroke="#000" stroke-width="1.5" />
<circle cx="341.5" cy="530.6" r="5.0" fill="#fff" stroke="#000" stroke-width="1.2"/>
<circle cx="361.5" cy="516.9" r="5.0" fill="#fff" stroke="#000" stroke-width="1.2"/>
<circle cx="381.5" cy="504.4" r="5.0" fill="#fff" stroke="#000" stroke-width="1.2"/>
<circle cx="401.5" cy="502.5" r="5.0" fill="#fff" stroke="#000" stroke-width="1.2"/>
<circle cx="421.5" cy="488.9" r="5.0" fill="#fff" stroke="#000" stroke-width="1.2"/>
<circle cx="441.5" cy="492.3" r="5.0" fill="#fff" stroke="#000" stroke-width="1.2"/>
<circle cx="461.5" cy="484.6" r="5.0" fill="#fff" stroke="#000" stroke-width="1.2"/>
<circle cx="481.5" cy="490" r="5.0" fill="#fff" stroke="#000" stroke-width="1.2"/>
<path d="M346.66,513.78 L356.34,502.32 M368.65,495.34 L374.35,494.66 M387.69,490.12 L395.31,485.58 M406.93,477.17 L416.07,469.23 M428.10,461.63 L434.90,458.67 M447.91,452.53 L455.09,448.87 M468.33,447.89 L474.67,450.01" fill="none" stroke="#000" stroke-width="3.3"/>
<line x1="341.50" y1="507.80" x2="341.50" y2="532.00" stroke="#000" stroke-width="1.5" />
<line x1="340.20" y1="507.80" x2="342.80" y2="507.80" stroke="#000" stroke-width="1.5" />
<line x1="340.20" y1="532.00" x2="342.80" y2="532.00" stroke="#000" stroke-width="1.5" />
<line x1="361.50" y1="483.80" x2="361.50" y2="508.60" stroke="#000" stroke-width="1.5" />
<line x1="360.20" y1="483.80" x2="362.80" y2="483.80" stroke="#000" stroke-width="1.5" />
<line x1="360.20" y1="508.60" x2="362.80" y2="508.60" stroke="#000" stroke-width="1.5" />
<line x1="381.50" y1="479.40" x2="381.50" y2="508.20" stroke="#000" stroke-width="1.5" />
<line x1="380.20" y1="479.40" x2="382.80" y2="479.40" stroke="#000" stroke-width="1.5" />
<line x1="380.20" y1="508.20" x2="382.80" y2="508.20" stroke="#000" stroke-width="1.5" />
<line x1="401.50" y1="468.80" x2="401.50" y2="495.00" stroke="#000" stroke-width="1.5" />
<line x1="400.20" y1="468.80" x2="402.80" y2="468.80" stroke="#000" stroke-width="1.5" />
<line x1="400.20" y1="495.00" x2="402.80" y2="495.00" stroke="#000" stroke-width="1.5" />
<line x1="421.50" y1="443.80" x2="421.50" y2="485.20" stroke="#000" stroke-width="1.5" />
<line x1="420.20" y1="443.80" x2="422.80" y2="443.80" stroke="#000" stroke-width="1.5" />
<line x1="420.20" y1="485.20" x2="422.80" y2="485.20" stroke="#000" stroke-width="1.5" />
<line x1="441.50" y1="440.00" x2="441.50" y2="471.60" stroke="#000" stroke-width="1.5" />
<line x1="440.20" y1="440.00" x2="442.80" y2="440.00" stroke="#000" stroke-width="1.5" />
<line x1="440.20" y1="471.60" x2="442.80" y2="471.60" stroke="#000" stroke-width="1.5" />
<line x1="461.50" y1="422.70" x2="461.50" y2="468.50" stroke="#000" stroke-width="1.5" />
<line x1="460.20" y1="422.70" x2="462.80" y2="422.70" stroke="#000" stroke-width="1.5" />
<line x1="460.20" y1="468.50" x2="462.80" y2="468.50" stroke="#000" stroke-width="1.5" />
<line x1="481.50" y1="437.50" x2="481.50" y2="467.10" stroke="#000" stroke-width="1.5" />
<line x1="480.20" y1="437.50" x2="482.80" y2="437.50" stroke="#000" stroke-width="1.5" />
<line x1="480.20" y1="467.10" x2="482.80" y2="467.10" stroke="#000" stroke-width="1.5" />
<circle cx="341.5" cy="519.9" r="5.6" fill="#000"/>
<circle cx="361.5" cy="496.2" r="5.6" fill="#000"/>
<circle cx="381.5" cy="493.8" r="5.6" fill="#000"/>
<circle cx="401.5" cy="481.9" r="5.6" fill="#000"/>
<circle cx="421.5" cy="464.5" r="5.6" fill="#000"/>
<circle cx="441.5" cy="455.8" r="5.6" fill="#000"/>
<circle cx="461.5" cy="445.6" r="5.6" fill="#000"/>
<circle cx="481.5" cy="452.3" r="5.6" fill="#000"/>
<text x="441.70" y="442.20" font-size="20" font-weight="bold" text-anchor="middle" >*</text>
<text x="461.70" y="428.50" font-size="20" font-weight="bold" text-anchor="middle" >*</text>
<text x="482.70" y="440.30" font-size="20" font-weight="bold" text-anchor="middle" >*</text>
<line x1="417.30" y1="521.90" x2="424.80" y2="521.90" stroke="#000" stroke-width="3.3" />
<line x1="435.20" y1="521.90" x2="443.80" y2="521.90" stroke="#000" stroke-width="3.3" />
<circle cx="430" cy="521.9" r="3.6" fill="#fff" stroke="#000" stroke-width="1.2"/>
<text x="448.30" y="525.80" font-size="11" font-weight="bold" text-anchor="start" letter-spacing="0.3">Ad-LacZ</text>
<line x1="417.30" y1="535.80" x2="424.80" y2="535.80" stroke="#000" stroke-width="3.3" />
<line x1="435.20" y1="535.80" x2="443.80" y2="535.80" stroke="#000" stroke-width="3.3" />
<circle cx="430" cy="535.8" r="4.2" fill="#000"/>
<text x="448.30" y="539.70" font-size="11" font-weight="bold" text-anchor="start" letter-spacing="0.3">Ad-FKBP12.6</text>
<path d="M50.5,335.5 L52.1,335.7 L53.7,335.4 L55.3,337.1 L56.9,336.3 L58.5,335.6 L60.1,335.4 L61.7,334.7 L63.3,333.8 L64.9,333.2 L66.5,335.3 L68.1,335.1 L69.7,337.5 L71.3,336.6 L72.9,336.6 L74.5,335.9 L76.1,337.1 L77.7,336.3 L79.3,337.8 L80.9,336.1 L82.5,337.6 L84.1,335.0 L85.7,336.8 L87.3,336.9 L88.9,336.9 L90.5,335.3 L92.1,337.2 L93.7,338.0 L95.3,337.2 L96.9,336.6 L98.5,336.1 L100.1,337.1 L101.7,336.3 L103.3,337.9 L104.9,336.0 L106.5,336.5 L108.1,337.2 L109.7,337.9 L111.3,336.5 L112.9,337.0 L114.5,337.3 L116.1,337.5 L117.7,337.1 L119.3,337.1 L120.9,335.2 L122.5,335.6 L124.1,336.1 L125.7,335.0 L127.3,336.6 L128.9,335.4 L130.5,336.6 L132.1,337.3 L133.7,337.4 L135.3,335.7 L136.9,335.2 L138.5,337.9 L140.1,335.8 L141.7,336.9 L143.3,335.1 L144.9,337.8 L146.5,336.1 L148.1,337.2 L149.7,336.8 L151.3,337.3 L152.9,337.9 L154.5,336.8 L156.1,336.7 L157.7,336.6 L159.3,336.1 L160.9,337.2 L162.5,336.7 L164.1,335.7 L165.7,336.3 L167.3,337.3 L168.9,337.7 L170.5,336.5 L172.1,337.6 L173.7,336.6 L175.3,336.4 L176.9,335.1 L178.5,335.3 L180.1,336.8 L181.7,336.3 L183.3,335.4 L184.9,335.1 L186.5,336.0 L188.1,336.2 L189.7,335.9 L191.3,338.0 L192.9,335.9 L194.5,337.9 L196.1,337.3 L197.7,336.5 L199.3,336.8 L200.9,336.3 L202.5,336.3 L204.1,336.7 L205.7,337.3 L207.3,337.5 L208.9,335.6 L210.5,335.8 L212.1,336.1 L213.7,337.6 L215.3,335.1 L216.9,338.0 L218.5,337.8 L220.1,337.5 L221.7,337.3 L223.3,337.5 L224.9,337.0 L226.5,335.1 L228.1,336.5 L229.7,337.7 L231.3,335.5 L232.0,352.8 L230.7,353.1 L229.4,352.4 L228.1,352.6 L226.8,352.4 L225.5,352.8 L224.2,352.0 L222.9,353.8 L221.6,352.3 L220.3,352.3 L219.0,355.0 L217.7,353.1 L216.4,355.5 L215.1,353.1 L213.8,352.4 L212.5,352.1 L211.2,353.6 L209.9,353.8 L208.6,353.9 L207.3,352.5 L206.0,352.5 L204.7,352.2 L203.4,353.9 L202.1,353.5 L200.8,352.3 L199.5,353.3 L198.2,352.3 L196.9,352.1 L195.6,352.0 L194.3,353.4 L193.0,352.1 L191.7,352.6 L190.4,352.1 L189.1,352.2 L187.8,352.5 L186.5,354.1 L185.2,353.8 L183.9,352.4 L182.6,352.2 L181.3,353.4 L180.0,353.1 L178.7,352.7 L177.4,352.3 L176.1,354.1 L174.8,352.4 L173.5,352.4 L172.2,353.8 L170.9,353.7 L169.6,354.2 L168.3,355.7 L167.0,352.3 L165.7,352.1 L164.4,352.1 L163.1,352.9 L161.8,352.6 L160.5,352.5 L159.2,354.5 L157.9,353.1 L156.6,353.2 L155.3,353.1 L154.0,353.2 L152.7,353.0 L151.4,353.3 L150.1,352.1 L148.8,353.6 L147.5,353.7 L146.2,352.9 L144.9,353.4 L143.6,353.2 L142.3,353.2 L141.0,353.3 L139.7,352.4 L138.4,352.2 L137.1,352.9 L135.8,352.4 L134.5,352.2 L133.2,352.4 L131.9,354.5 L130.6,353.6 L129.3,353.8 L128.0,353.5 L126.7,353.4 L125.4,352.3 L124.1,352.1 L122.8,352.3 L121.5,354.5 L120.2,353.5 L118.9,352.5 L117.6,352.5 L116.3,352.2 L115.0,352.4 L113.7,353.0 L112.4,352.0 L111.1,354.7 L109.8,352.0 L108.5,352.4 L107.2,353.0 L105.9,353.9 L104.6,353.4 L103.3,353.3 L102.0,354.2 L100.7,352.5 L99.4,352.2 L98.1,352.9 L96.8,353.4 L95.5,353.4 L94.2,352.8 L92.9,352.1 L91.6,353.9 L90.3,353.2 L89.0,352.4 L87.7,353.2 L86.4,353.3 L85.1,353.3 L83.8,352.0 L82.5,352.7 L81.2,352.6 L79.9,354.8 L78.6,353.2 L77.3,353.9 L76.0,354.2 L74.7,352.3 L73.4,354.1 L72.1,353.6 L70.8,352.7 L69.5,353.1 L68.2,354.8 L66.9,352.0 L65.6,352.9 L64.3,352.4 L63.0,349.9 L61.7,350.4 L60.4,350.5 L59.1,350.9 L57.8,350.9 L56.5,353.5 L55.2,351.3 L53.9,353.0 L52.6,354.3 L51.3,351.8 Z" fill="#000"/>
<path d="M50.5,335.4 L51.3,335.7 L52.1,337.9 L52.9,336.5 L53.7,337.2 L54.5,335.1 L55.3,335.7 L56.1,336.1 L56.9,335.2 L57.7,337.1 L58.5,337.2 L59.3,337.4 L60.1,339.0 L60.9,338.2 L61.7,334.7 L62.5,336.5 L63.3,336.8 L64.1,334.2" fill="none" stroke="#000" stroke-width="1.4" stroke-linejoin="round" />
<path d="M50.5,338.1 L51.3,341.9 L52.1,338.6 L52.9,340.4 L53.7,340.5 L54.5,342.5 L55.3,340.2 L56.1,344.3 L56.9,340.5 L57.7,344.1 L58.5,341.6 L59.3,341.2 L60.1,336.8 L60.9,339.1 L61.7,341.0 L62.5,339.2 L63.3,338.3 L64.1,338.1" fill="none" stroke="#000" stroke-width="1.4" stroke-linejoin="round" />
<path d="M50.5,345.9 L51.3,343.7 L52.1,342.5 L52.9,343.5 L53.7,344.3 L54.5,344.5 L55.3,342.7 L56.1,345.2 L56.9,344.3 L57.7,342.8 L58.5,344.8 L59.3,344.0 L60.1,343.9 L60.9,343.8 L61.7,344.2 L62.5,344.9 L63.3,346.3 L64.1,343.8" fill="none" stroke="#000" stroke-width="1.4" stroke-linejoin="round" />
<path d="M50.5,351.8 L51.3,348.7 L52.1,349.5 L52.9,352.4 L53.7,349.0 L54.5,347.5 L55.3,346.4 L56.1,347.7 L56.9,345.7 L57.7,349.3 L58.5,348.4 L59.3,346.9 L60.1,345.7 L60.9,347.3 L61.7,347.3 L62.5,347.5 L63.3,346.5 L64.1,349.0" fill="none" stroke="#000" stroke-width="1.4" stroke-linejoin="round" />
<path d="M72.5,337.5 L73.5,336.1 L74.5,337.8 L75.5,339.3 L76.5,338.7 L77.5,339.3 L78.5,338.0 L79.5,337.0 L80.5,336.6 L81.5,338.0 L82.5,338.6 L83.5,338.4 L84.5,338.2 L85.5,337.7 L86.5,336.3 L87.5,337.2 L88.5,339.0 L89.5,338.9 L90.5,338.3 L91.5,338.2 L92.5,336.6 L93.5,337.6 L94.5,338.8 L95.5,338.8 L96.5,340.0 L97.5,339.1 L98.5,337.3 L99.5,337.5 L100.5,339.1 L101.5,338.5 L102.5,338.6 L103.5,337.8 L104.5,336.9 L105.5,337.6 L106.5,339.1 L107.5,338.6 L108.5,338.7 L109.5,338.9 L110.5,337.5 L111.5,336.5 L112.5,339.0 L113.5,339.0 L114.5,338.1 L115.5,338.8 L116.5,339.7 L117.5,338.0 L118.5,337.4 L119.5,338.8 L120.5,337.8 L121.5,339.7 L122.5,338.4 L123.5,338.9 L124.5,336.8 L125.5,337.9 L126.5,339.1 L127.5,339.4 L128.5,339.5 L129.5,339.4 L130.5,337.3 L131.5,337.8 L132.5,338.4 L133.5,338.1 L134.5,338.8 L135.5,339.0 L136.5,338.5 L137.5,337.8 L138.5,338.4 L139.5,338.9 L140.5,338.5 L141.5,339.4 L142.5,337.8 L143.5,336.0 L144.5,337.5 L145.5,338.8 L146.5,339.0 L147.5,339.0 L148.5,338.0 L149.5,339.0 L150.5,337.3 L151.5,337.4 L152.5,338.9 L153.5,339.3 L154.5,340.0 L155.5,339.8 L156.5,338.5 L157.5,337.5 L158.5,338.1 L159.5,339.2 L160.5,338.8 L161.5,339.4 L162.5,339.0 L163.5,336.3 L164.5,338.3 L165.5,339.0 L166.5,338.9 L167.5,339.3 L168.5,339.1 L169.5,337.3 L170.5,337.7 L171.5,338.6 L172.5,338.6 L173.5,337.7 L174.5,339.1 L175.5,337.7 L176.5,337.4 L177.5,336.5 L178.5,338.9 L179.5,338.9 L180.5,338.9 L181.5,339.6 L182.5,339.2 L183.5,336.6 L184.5,338.5 L185.5,338.2 L186.5,338.8 L187.5,339.3 L188.5,338.5 L189.5,337.4 L190.5,338.0 L191.5,337.9 L192.5,338.9 L193.5,338.1 L194.5,339.8 L195.5,339.2 L196.5,336.7 L197.5,336.7 L198.5,338.7 L199.5,339.1 L200.5,338.4 L201.5,339.0 L202.5,338.0 L203.5,336.7 L204.5,338.3 L205.5,339.7 L206.5,338.0 L207.5,339.2 L208.5,338.4 L209.5,336.2 L210.5,338.2 L211.5,339.3 L212.5,338.7 L213.5,339.5 L214.5,338.8 L215.5,338.4 L216.5,337.1 L217.5,337.2 L218.5,338.7 L219.5,339.2 L220.5,339.2 L221.5,339.5 L222.5,337.5 L223.5,336.5 L224.5,337.7 L225.5,338.0 L226.5,339.9 L227.5,338.9 L228.5,338.9 L229.5,335.8 L230.5,338.0" fill="none" stroke="#fff" stroke-width="0.9" stroke-dasharray="4.0 3.6"/>
<path d="M74.2,340.6 L75.2,342.3 L76.2,341.9 L77.2,341.5 L78.2,342.8 L79.2,340.9 L80.2,339.1 L81.2,340.6 L82.2,341.8 L83.2,342.0 L84.2,341.5 L85.2,340.9 L86.2,340.5 L87.2,340.0 L88.2,342.7 L89.2,342.6 L90.2,342.0 L91.2,341.4 L92.2,342.5 L93.2,339.6 L94.2,341.0 L95.2,342.0 L96.2,341.7 L97.2,342.7 L98.2,341.9 L99.2,340.1 L100.2,341.2 L101.2,341.9 L102.2,342.4 L103.2,342.2 L104.2,340.6 L105.2,339.8 L106.2,341.5 L107.2,341.2 L108.2,342.4 L109.2,341.2 L110.2,342.5 L111.2,340.9 L112.2,340.6 L113.2,340.9 L114.2,341.3 L115.2,342.0 L116.2,341.9 L117.2,341.2 L118.2,340.8 L119.2,340.1 L120.2,342.3 L121.2,341.8 L122.2,342.2 L123.2,341.5 L124.2,340.5 L125.2,338.7 L126.2,341.0 L127.2,341.6 L128.2,341.5 L129.2,342.4 L130.2,340.7 L131.2,339.6 L132.2,340.2 L133.2,341.2 L134.2,342.6 L135.2,341.7 L136.2,341.2 L137.2,340.2 L138.2,340.1 L139.2,341.9 L140.2,341.0 L141.2,341.2 L142.2,341.4 L143.2,341.3 L144.2,340.3 L145.2,340.3 L146.2,340.9 L147.2,342.3 L148.2,341.3 L149.2,343.9 L150.2,341.9 L151.2,340.8 L152.2,339.5 L153.2,342.0 L154.2,341.4 L155.2,342.4 L156.2,340.6 L157.2,340.1 L158.2,339.4 L159.2,342.2 L160.2,341.9 L161.2,341.2 L162.2,341.0 L163.2,341.5 L164.2,341.0 L165.2,339.6 L166.2,339.8 L167.2,341.8 L168.2,341.8 L169.2,341.0 L170.2,341.3 L171.2,340.6 L172.2,340.6 L173.2,341.9 L174.2,341.5 L175.2,341.7 L176.2,341.2 L177.2,340.0 L178.2,340.0 L179.2,341.7 L180.2,341.5 L181.2,341.1 L182.2,342.5 L183.2,340.9 L184.2,341.2 L185.2,340.5 L186.2,341.7 L187.2,341.2 L188.2,341.7 L189.2,342.9 L190.2,341.1 L191.2,339.9 L192.2,341.6 L193.2,341.2 L194.2,341.0 L195.2,341.8 L196.2,342.0 L197.2,341.3 L198.2,339.4 L199.2,341.1 L200.2,341.1 L201.2,341.6 L202.2,341.1 L203.2,342.0 L204.2,339.2 L205.2,339.6 L206.2,341.5 L207.2,342.8 L208.2,341.8 L209.2,340.7 L210.2,339.0 L211.2,340.0 L212.2,340.9 L213.2,341.0 L214.2,341.4 L215.2,341.6 L216.2,340.9 L217.2,339.6 L218.2,342.6 L219.2,342.1 L220.2,341.5 L221.2,341.7 L222.2,341.3 L223.2,340.3 L224.2,341.0 L225.2,341.8 L226.2,340.8 L227.2,341.8 L228.2,340.4 L229.2,339.4 L230.2,341.4" fill="none" stroke="#fff" stroke-width="0.9" stroke-dasharray="6.1 2.2"/>
<path d="M74.3,344.7 L75.3,343.4 L76.3,344.0 L77.3,342.1 L78.3,344.4 L79.3,344.2 L80.3,344.8 L81.3,344.6 L82.3,344.7 L83.3,343.6 L84.3,342.8 L85.3,344.3 L86.3,343.6 L87.3,344.4 L88.3,343.4 L89.3,343.5 L90.3,342.5 L91.3,342.8 L92.3,344.6 L93.3,343.2 L94.3,345.1 L95.3,344.0 L96.3,342.6 L97.3,342.1 L98.3,344.4 L99.3,344.2 L100.3,343.8 L101.3,344.7 L102.3,344.2 L103.3,343.3 L104.3,343.0 L105.3,344.0 L106.3,344.7 L107.3,344.6 L108.3,344.4 L109.3,343.3 L110.3,341.5 L111.3,343.3 L112.3,344.6 L113.3,344.0 L114.3,344.3 L115.3,344.3 L116.3,342.7 L117.3,341.6 L118.3,344.2 L119.3,344.3 L120.3,343.3 L121.3,345.1 L122.3,343.4 L123.3,343.3 L124.3,343.4 L125.3,344.1 L126.3,344.4 L127.3,343.0 L128.3,343.2 L129.3,341.7 L130.3,343.6 L131.3,344.7 L132.3,344.7 L133.3,344.2 L134.3,343.7 L135.3,342.2 L136.3,342.3 L137.3,344.3 L138.3,343.4 L139.3,343.3 L140.3,344.2 L141.3,343.6 L142.3,342.2 L143.3,341.3 L144.3,343.8 L145.3,344.4 L146.3,343.7 L147.3,345.1 L148.3,344.0 L149.3,341.0 L150.3,343.1 L151.3,343.7 L152.3,344.1 L153.3,343.9 L154.3,343.9 L155.3,343.9 L156.3,341.8 L157.3,343.2 L158.3,344.1 L159.3,345.4 L160.3,344.2 L161.3,343.2 L162.3,341.9 L163.3,343.4 L164.3,344.4 L165.3,344.7 L166.3,344.4 L167.3,344.5 L168.3,343.6 L169.3,343.1 L170.3,343.4 L171.3,344.6 L172.3,344.3 L173.3,343.2 L174.3,344.5 L175.3,342.6 L176.3,340.9 L177.3,343.7 L178.3,344.1 L179.3,344.4 L180.3,343.6 L181.3,343.8 L182.3,341.9 L183.3,343.4 L184.3,343.7 L185.3,344.6 L186.3,343.6 L187.3,343.9 L188.3,341.8 L189.3,343.4 L190.3,344.0 L191.3,343.9 L192.3,343.8 L193.3,343.7 L194.3,342.3 L195.3,342.7 L196.3,344.2 L197.3,344.5 L198.3,345.1 L199.3,344.0 L200.3,344.2 L201.3,341.3 L202.3,344.3 L203.3,344.8 L204.3,344.1 L205.3,344.8 L206.3,344.5 L207.3,342.5 L208.3,342.5 L209.3,343.6 L210.3,343.9 L211.3,343.9 L212.3,343.7 L213.3,344.0 L214.3,342.3 L215.3,344.4 L216.3,345.5 L217.3,344.6 L218.3,344.2 L219.3,344.1 L220.3,342.3 L221.3,342.5 L222.3,344.3 L223.3,343.8 L224.3,343.3 L225.3,345.0 L226.3,343.7 L227.3,342.4 L228.3,342.9 L229.3,344.8 L230.3,344.1" fill="none" stroke="#fff" stroke-width="0.9" stroke-dasharray="5.6 3.3"/>
<path d="M72.2,346.5 L73.2,344.9 L74.2,347.0 L75.2,347.7 L76.2,347.1 L77.2,347.4 L78.2,347.5 L79.2,345.9 L80.2,344.9 L81.2,346.1 L82.2,346.9 L83.2,347.0 L84.2,346.6 L85.2,347.6 L86.2,345.3 L87.2,344.7 L88.2,346.4 L89.2,347.3 L90.2,347.0 L91.2,346.7 L92.2,346.7 L93.2,344.5 L94.2,347.2 L95.2,346.6 L96.2,347.0 L97.2,346.9 L98.2,346.2 L99.2,344.7 L100.2,345.1 L101.2,347.2 L102.2,347.0 L103.2,346.7 L104.2,346.9 L105.2,345.5 L106.2,345.3 L107.2,346.6 L108.2,347.4 L109.2,346.7 L110.2,347.7 L111.2,345.4 L112.2,344.4 L113.2,346.0 L114.2,346.9 L115.2,346.9 L116.2,347.7 L117.2,347.0 L118.2,346.4 L119.2,344.3 L120.2,346.2 L121.2,346.7 L122.2,347.3 L123.2,346.4 L124.2,346.7 L125.2,344.6 L126.2,346.7 L127.2,346.5 L128.2,347.4 L129.2,347.3 L130.2,346.8 L131.2,346.2 L132.2,344.2 L133.2,346.4 L134.2,347.9 L135.2,346.3 L136.2,346.9 L137.2,346.7 L138.2,345.7 L139.2,345.8 L140.2,347.9 L141.2,347.3 L142.2,346.6 L143.2,347.3 L144.2,345.1 L145.2,345.3 L146.2,347.0 L147.2,346.5 L148.2,347.0 L149.2,346.9 L150.2,346.6 L151.2,345.2 L152.2,345.8 L153.2,347.3 L154.2,346.5 L155.2,346.6 L156.2,346.2 L157.2,344.9 L158.2,346.0 L159.2,346.4 L160.2,347.0 L161.2,346.8 L162.2,347.1 L163.2,346.2 L164.2,345.3 L165.2,345.8 L166.2,346.8 L167.2,346.9 L168.2,347.6 L169.2,347.4 L170.2,347.1 L171.2,346.4 L172.2,345.2 L173.2,346.9 L174.2,347.0 L175.2,346.5 L176.2,346.9 L177.2,346.4 L178.2,346.0 L179.2,346.4 L180.2,346.3 L181.2,347.2 L182.2,347.0 L183.2,347.5 L184.2,346.3 L185.2,344.9 L186.2,347.0 L187.2,347.1 L188.2,347.0 L189.2,348.0 L190.2,347.0 L191.2,346.6 L192.2,344.4 L193.2,346.3 L194.2,346.6 L195.2,348.2 L196.2,347.1 L197.2,347.1 L198.2,345.7 L199.2,344.4 L200.2,346.7 L201.2,346.5 L202.2,348.1 L203.2,346.7 L204.2,345.7 L205.2,345.8 L206.2,346.2 L207.2,347.0 L208.2,347.4 L209.2,347.9 L210.2,345.2 L211.2,344.4 L212.2,345.6 L213.2,346.8 L214.2,347.4 L215.2,347.0 L216.2,346.5 L217.2,346.1 L218.2,346.5 L219.2,347.8 L220.2,346.9 L221.2,346.1 L222.2,347.6 L223.2,346.5 L224.2,344.2 L225.2,346.1 L226.2,346.5 L227.2,347.0 L228.2,347.5 L229.2,345.6 L230.2,345.3" fill="none" stroke="#fff" stroke-width="0.9" stroke-dasharray="4.4 3.1"/>
<path d="M74.5,347.3 L75.5,349.9 L76.5,349.9 L77.5,349.8 L78.5,350.1 L79.5,349.3 L80.5,347.0 L81.5,348.6 L82.5,350.4 L83.5,349.6 L84.5,349.4 L85.5,350.2 L86.5,348.6 L87.5,346.5 L88.5,348.6 L89.5,349.6 L90.5,349.5 L91.5,349.4 L92.5,349.7 L93.5,348.5 L94.5,348.4 L95.5,349.8 L96.5,349.4 L97.5,349.9 L98.5,349.6 L99.5,349.7 L100.5,347.8 L101.5,348.6 L102.5,349.3 L103.5,350.0 L104.5,349.7 L105.5,348.6 L106.5,348.1 L107.5,348.4 L108.5,349.2 L109.5,349.8 L110.5,349.5 L111.5,349.6 L112.5,348.1 L113.5,347.4 L114.5,349.8 L115.5,349.4 L116.5,350.1 L117.5,349.6 L118.5,349.0 L119.5,349.1 L120.5,348.9 L121.5,350.3 L122.5,349.3 L123.5,350.6 L124.5,349.4 L125.5,350.1 L126.5,347.6 L127.5,348.6 L128.5,349.1 L129.5,349.6 L130.5,350.1 L131.5,349.9 L132.5,348.7 L133.5,347.3 L134.5,349.1 L135.5,349.4 L136.5,349.3 L137.5,350.1 L138.5,347.7 L139.5,348.5 L140.5,348.2 L141.5,350.0 L142.5,350.5 L143.5,350.0 L144.5,349.1 L145.5,347.7 L146.5,349.6 L147.5,349.5 L148.5,349.2 L149.5,350.5 L150.5,349.6 L151.5,349.7 L152.5,348.3 L153.5,348.7 L154.5,349.5 L155.5,348.9 L156.5,349.6 L157.5,349.8 L158.5,349.6 L159.5,348.1 L160.5,348.6 L161.5,350.4 L162.5,350.7 L163.5,349.3 L164.5,349.6 L165.5,348.4 L166.5,347.1 L167.5,349.8 L168.5,350.5 L169.5,349.3 L170.5,349.1 L171.5,348.8 L172.5,347.2 L173.5,348.0 L174.5,349.8 L175.5,349.9 L176.5,348.8 L177.5,348.8 L178.5,348.9 L179.5,348.0 L180.5,349.1 L181.5,350.2 L182.5,349.0 L183.5,349.2 L184.5,350.1 L185.5,347.4 L186.5,349.4 L187.5,349.1 L188.5,349.1 L189.5,349.7 L190.5,349.4 L191.5,348.3 L192.5,348.1 L193.5,350.0 L194.5,349.5 L195.5,349.7 L196.5,349.9 L197.5,348.2 L198.5,347.2 L199.5,349.0 L200.5,349.5 L201.5,349.6 L202.5,350.3 L203.5,349.3 L204.5,348.8 L205.5,348.3 L206.5,348.8 L207.5,348.9 L208.5,349.9 L209.5,350.1 L210.5,347.9 L211.5,347.9 L212.5,349.1 L213.5,349.6 L214.5,350.5 L215.5,349.5 L216.5,348.9 L217.5,347.9 L218.5,348.3 L219.5,350.0 L220.5,349.6 L221.5,349.4 L222.5,350.3 L223.5,349.3 L224.5,347.1 L225.5,348.5 L226.5,349.1 L227.5,349.1 L228.5,349.4 L229.5,349.1 L230.5,347.9" fill="none" stroke="#fff" stroke-width="0.9" stroke-dasharray="6.7 2.9"/>
<path d="M69.4,247.5 L70.4,254.3 L71.4,259.9 L72.4,266.4 L73.4,269.8 L74.4,272.8 L75.4,276.0 L76.4,282.9 L77.4,286.0 L78.4,287.9 L79.4,290.4 L80.4,288.1 L81.4,287.9 L82.4,292.2 L83.4,294.5 L84.4,295.5 L85.4,297.9 L86.4,300.8 L87.4,301.3 L88.4,297.8 L89.4,298.9 L90.4,301.0 L91.4,303.3" fill="none" stroke="#000" stroke-width="1.2" stroke-linejoin="round" />
<path d="M90.4,301.0 L91.4,303.3 L92.4,302.5 L93.4,304.2 L94.4,305.2 L95.4,303.2 L96.4,304.9 L97.4,306.4 L98.4,308.0 L99.4,307.5 L100.4,308.6 L101.4,307.4 L102.4,306.2 L103.4,304.9 L104.4,306.0 L105.4,307.2 L106.4,309.2 L107.4,308.1 L108.4,308.2 L109.4,304.8 L110.4,307.9 L111.4,311.4 L112.4,311.0 L113.4,311.4 L114.4,309.2 L115.4,308.0 L116.4,310.1 L117.4,310.8 L118.4,311.2 L119.4,310.5 L120.4,310.3 L121.4,307.5 L122.4,310.5 L123.4,311.8 L124.4,310.9 L125.4,314.3 L126.4,312.8 L127.4,311.3 L128.4,308.3 L129.4,312.2 L130.4,311.7 L131.4,311.8 L132.4,311.1 L133.4,311.3 L134.4,309.2 L135.4,309.9 L136.4,312.6 L137.4,313.5 L138.4,313.2 L139.4,313.0 L140.4,310.8 L141.4,311.3 L142.4,314.0 L143.4,313.4 L144.4,311.6 L145.4,311.6 L146.4,310.9 L147.4,310.5 L148.4,307.5 L149.4,312.0 L150.4,314.3 L151.4,313.3 L152.4,311.9 L153.4,308.7 L154.4,310.8 L155.4,312.6 L156.4,312.7 L157.4,312.8 L158.4,313.5 L159.4,312.3 L160.4,312.9 L161.4,314.0 L162.4,314.1 L163.4,313.0 L164.4,313.7 L165.4,312.8 L166.4,310.8 L167.4,312.4 L168.4,314.9 L169.4,312.8 L170.4,314.0 L171.4,313.1 L172.4,311.5 L173.4,311.2 L174.4,312.2 L175.4,311.2 L176.4,313.4 L177.4,313.5 L178.4,312.7 L179.4,308.3 L180.4,313.5 L181.4,313.5 L182.4,313.7 L183.4,313.5 L184.4,314.3 L185.4,313.2 L186.4,311.4 L187.4,311.5 L188.4,312.2 L189.4,313.4 L190.4,313.6 L191.4,314.0 L192.4,310.5 L193.4,310.7 L194.4,312.2 L195.4,312.6 L196.4,312.4 L197.4,314.0 L198.4,312.3 L199.4,311.0 L200.4,311.8 L201.4,312.5 L202.4,312.7 L203.4,312.4 L204.4,313.1 L205.4,312.0 L206.4,313.0 L207.4,314.0 L208.4,314.1 L209.4,314.0 L210.4,312.3 L211.4,308.8 L212.4,308.4 L213.4,312.6 L214.4,311.8 L215.4,310.4 L216.4,311.5 L217.4,312.2 L218.4,309.7 L219.4,311.5 L220.4,312.2 L221.4,314.1 L222.4,312.0 L223.4,312.8 L224.4,310.0 L225.4,312.9 L226.4,313.2 L227.4,314.2 L228.4,314.3 L229.4,314.3 L230.4,312.3 L231.4,310.7 L232.0,310.7" fill="none" stroke="#000" stroke-width="1.55" stroke-linejoin="round" />
<path d="M69.4,259.3 L70.4,266.7 L71.4,272.4 L72.4,279.2 L73.4,283.9 L74.4,284.6 L75.4,288.0 L76.4,288.2 L77.4,291.6 L78.4,295.2 L79.4,296.7 L80.4,296.9 L81.4,296.5 L82.4,301.6 L83.4,303.1 L84.4,305.5 L85.4,305.4 L86.4,307.5 L87.4,305.0 L88.4,304.7 L89.4,308.3 L90.4,308.8 L91.4,309.5" fill="none" stroke="#000" stroke-width="1.2" stroke-linejoin="round" />
<path d="M90.4,308.8 L91.4,309.5 L92.4,309.6 L93.4,309.4 L94.4,309.3 L95.4,307.2 L96.4,311.2 L97.4,312.3 L98.4,311.7 L99.4,310.8 L100.4,313.2 L101.4,310.0 L102.4,310.4 L103.4,312.2 L104.4,312.8 L105.4,314.0 L106.4,314.5 L107.4,309.5 L108.4,310.2 L109.4,311.5 L110.4,311.4 L111.4,312.0 L112.4,312.9 L113.4,311.8 L114.4,312.5 L115.4,313.5 L116.4,313.9 L117.4,315.0 L118.4,313.7 L119.4,314.4 L120.4,311.6 L121.4,313.6 L122.4,314.9 L123.4,313.9 L124.4,314.8 L125.4,311.7 L126.4,311.4 L127.4,314.5 L128.4,312.5 L129.4,314.3 L130.4,315.4 L131.4,313.9 L132.4,314.8 L133.4,315.8 L134.4,316.1 L135.4,315.7 L136.4,316.2 L137.4,315.0 L138.4,312.8 L139.4,316.4 L140.4,315.9 L141.4,316.9 L142.4,316.1 L143.4,316.3 L144.4,315.9 L145.4,315.4 L146.4,317.7 L147.4,316.0 L148.4,314.8 L149.4,316.9 L150.4,315.3 L151.4,312.8 L152.4,314.6 L153.4,316.4 L154.4,316.3 L155.4,315.7 L156.4,314.6 L157.4,315.8 L158.4,313.4 L159.4,314.2 L160.4,317.1 L161.4,317.2 L162.4,316.4 L163.4,316.9 L164.4,315.7 L165.4,313.5 L166.4,315.1 L167.4,317.4 L168.4,317.0 L169.4,317.6 L170.4,316.4 L171.4,314.4 L172.4,316.4 L173.4,317.4 L174.4,317.2 L175.4,316.6 L176.4,315.4 L177.4,311.7 L178.4,312.9 L179.4,315.7 L180.4,316.9 L181.4,316.1 L182.4,316.7 L183.4,316.5 L184.4,312.5 L185.4,314.2 L186.4,315.4 L187.4,316.7 L188.4,314.1 L189.4,314.0 L190.4,316.0 L191.4,313.7 L192.4,316.6 L193.4,315.2 L194.4,314.5 L195.4,317.2 L196.4,317.2 L197.4,315.2 L198.4,314.8 L199.4,316.4 L200.4,317.8 L201.4,316.4 L202.4,316.3 L203.4,316.3 L204.4,314.6 L205.4,314.4 L206.4,316.0 L207.4,316.6 L208.4,316.8 L209.4,316.8 L210.4,316.3 L211.4,314.3 L212.4,313.0 L213.4,316.5 L214.4,316.6 L215.4,315.7 L216.4,316.5 L217.4,316.7 L218.4,314.6 L219.4,312.1 L220.4,314.1 L221.4,317.1 L222.4,316.5 L223.4,316.0 L224.4,316.4 L225.4,314.4 L226.4,313.7 L227.4,314.0 L228.4,315.9 L229.4,315.7 L230.4,315.1 L231.4,313.5 L232.0,313.5" fill="none" stroke="#000" stroke-width="1.55" stroke-linejoin="round" />
<path d="M69.4,269.9 L70.4,275.9 L71.4,279.1 L72.4,283.9 L73.4,286.0 L74.4,287.8 L75.4,288.4 L76.4,293.4 L77.4,297.2 L78.4,298.4 L79.4,300.0 L80.4,300.7 L81.4,299.0 L82.4,300.7 L83.4,303.1 L84.4,303.8 L85.4,304.3 L86.4,305.3 L87.4,303.4 L88.4,308.4 L89.4,309.2 L90.4,310.3 L91.4,311.2" fill="none" stroke="#000" stroke-width="1.2" stroke-linejoin="round" />
<path d="M90.4,310.3 L91.4,311.2 L92.4,311.1 L93.4,309.2 L94.4,310.0 L95.4,312.6 L96.4,312.0 L97.4,312.0 L98.4,312.7 L99.4,309.8 L100.4,312.3 L101.4,313.1 L102.4,313.5 L103.4,313.7 L104.4,314.5 L105.4,315.7 L106.4,312.6 L107.4,316.2 L108.4,317.0 L109.4,317.0 L110.4,317.1 L111.4,314.4 L112.4,312.1 L113.4,315.2 L114.4,316.1 L115.4,316.4 L116.4,316.5 L117.4,315.5 L118.4,310.9 L119.4,316.3 L120.4,315.9 L121.4,316.3 L122.4,317.0 L123.4,317.6 L124.4,317.0 L125.4,316.4 L126.4,317.5 L127.4,315.2 L128.4,315.1 L129.4,315.7 L130.4,315.5 L131.4,314.4 L132.4,315.4 L133.4,318.2 L134.4,318.7 L135.4,317.4 L136.4,317.2 L137.4,313.5 L138.4,316.0 L139.4,317.6 L140.4,318.1 L141.4,318.6 L142.4,317.6 L143.4,316.0 L144.4,316.8 L145.4,317.2 L146.4,319.3 L147.4,319.2 L148.4,318.2 L149.4,316.8 L150.4,316.8 L151.4,315.2 L152.4,319.7 L153.4,319.3 L154.4,319.0 L155.4,318.6 L156.4,317.4 L157.4,315.9 L158.4,316.3 L159.4,316.4 L160.4,317.3 L161.4,317.8 L162.4,318.5 L163.4,317.2 L164.4,315.8 L165.4,317.2 L166.4,319.8 L167.4,318.5 L168.4,319.3 L169.4,318.5 L170.4,317.0 L171.4,315.5 L172.4,319.0 L173.4,319.8 L174.4,318.6 L175.4,318.2 L176.4,319.0 L177.4,316.9 L178.4,316.4 L179.4,319.0 L180.4,318.4 L181.4,320.1 L182.4,320.7 L183.4,318.1 L184.4,316.4 L185.4,319.9 L186.4,321.1 L187.4,320.4 L188.4,319.0 L189.4,318.6 L190.4,316.5 L191.4,317.1 L192.4,321.4 L193.4,319.3 L194.4,319.7 L195.4,319.7 L196.4,319.0 L197.4,318.2 L198.4,317.9 L199.4,319.2 L200.4,318.4 L201.4,318.2 L202.4,319.4 L203.4,314.3 L204.4,317.5 L205.4,318.3 L206.4,316.8 L207.4,316.9 L208.4,317.6 L209.4,317.6 L210.4,313.2 L211.4,316.6 L212.4,319.5 L213.4,319.8 L214.4,318.5 L215.4,319.2 L216.4,318.7 L217.4,317.2 L218.4,318.8 L219.4,320.6 L220.4,319.7 L221.4,320.0 L222.4,319.9 L223.4,316.4 L224.4,317.5 L225.4,322.0 L226.4,319.2 L227.4,318.5 L228.4,319.3 L229.4,318.3 L230.4,318.0 L231.4,318.7 L232.0,318.7" fill="none" stroke="#000" stroke-width="1.55" stroke-linejoin="round" />
<path d="M69.4,279.9 L70.4,284.4 L71.4,290.4 L72.4,295.4 L73.4,297.9 L74.4,298.6 L75.4,301.0 L76.4,300.8 L77.4,305.9 L78.4,307.7 L79.4,308.9 L80.4,310.7 L81.4,311.7 L82.4,308.9 L83.4,311.6 L84.4,314.7 L85.4,315.4 L86.4,316.0 L87.4,315.4 L88.4,314.0 L89.4,311.9 L90.4,315.4 L91.4,317.9" fill="none" stroke="#000" stroke-width="1.2" stroke-linejoin="round" />
<path d="M90.4,315.4 L91.4,317.9 L92.4,317.9 L93.4,317.2 L94.4,316.8 L95.4,316.0 L96.4,318.6 L97.4,318.8 L98.4,319.9 L99.4,318.8 L100.4,318.5 L101.4,316.5 L102.4,319.3 L103.4,320.0 L104.4,322.2 L105.4,319.8 L106.4,318.9 L107.4,315.7 L108.4,318.5 L109.4,320.6 L110.4,321.2 L111.4,321.9 L112.4,322.2 L113.4,320.9 L114.4,319.6 L115.4,321.5 L116.4,323.6 L117.4,323.6 L118.4,323.3 L119.4,321.9 L120.4,320.9 L121.4,316.7 L122.4,319.0 L123.4,321.6 L124.4,320.6 L125.4,321.8 L126.4,321.1 L127.4,319.2 L128.4,316.7 L129.4,321.4 L130.4,321.4 L131.4,322.2 L132.4,323.1 L133.4,320.8 L134.4,317.3 L135.4,321.8 L136.4,319.3 L137.4,321.2 L138.4,320.5 L139.4,320.8 L140.4,318.2 L141.4,320.6 L142.4,323.2 L143.4,320.3 L144.4,322.6 L145.4,322.0 L146.4,319.0 L147.4,318.0 L148.4,322.1 L149.4,321.6 L150.4,323.0 L151.4,321.5 L152.4,319.7 L153.4,319.3 L154.4,319.8 L155.4,322.6 L156.4,323.3 L157.4,320.8 L158.4,322.2 L159.4,320.6 L160.4,320.8 L161.4,322.2 L162.4,322.1 L163.4,322.1 L164.4,322.9 L165.4,321.8 L166.4,317.5 L167.4,319.1 L168.4,322.1 L169.4,322.2 L170.4,323.2 L171.4,321.3 L172.4,318.4 L173.4,318.9 L174.4,322.0 L175.4,320.9 L176.4,323.2 L177.4,321.7 L178.4,321.5 L179.4,320.5 L180.4,322.3 L181.4,323.2 L182.4,322.7 L183.4,323.1 L184.4,320.2 L185.4,317.5 L186.4,320.7 L187.4,322.8 L188.4,323.6 L189.4,322.3 L190.4,321.6 L191.4,317.7 L192.4,321.4 L193.4,323.7 L194.4,323.5 L195.4,322.9 L196.4,324.4 L197.4,323.9 L198.4,320.2 L199.4,321.3 L200.4,321.9 L201.4,322.8 L202.4,322.2 L203.4,323.7 L204.4,321.9 L205.4,320.9 L206.4,319.1 L207.4,321.4 L208.4,322.3 L209.4,322.8 L210.4,323.4 L211.4,321.4 L212.4,317.6 L213.4,322.4 L214.4,324.4 L215.4,321.8 L216.4,322.9 L217.4,323.3 L218.4,319.8 L219.4,321.4 L220.4,323.2 L221.4,323.1 L222.4,322.3 L223.4,319.9 L224.4,318.7 L225.4,317.3 L226.4,321.2 L227.4,323.1 L228.4,323.3 L229.4,322.6 L230.4,320.5 L231.4,317.9 L232.0,317.9" fill="none" stroke="#000" stroke-width="1.55" stroke-linejoin="round" />
<path d="M69.4,292.0 L70.4,294.6 L71.4,296.9 L72.4,298.0 L73.4,299.8 L74.4,303.9 L75.4,305.6 L76.4,306.9 L77.4,306.6 L78.4,309.6 L79.4,310.7 L80.4,311.2 L81.4,314.1 L82.4,314.9 L83.4,314.2 L84.4,309.4 L85.4,315.4 L86.4,317.0 L87.4,317.9 L88.4,317.2 L89.4,318.5 L90.4,318.6 L91.4,316.6" fill="none" stroke="#000" stroke-width="1.2" stroke-linejoin="round" />
<path d="M90.4,318.6 L91.4,316.6 L92.4,319.2 L93.4,320.9 L94.4,321.5 L95.4,321.8 L96.4,322.3 L97.4,319.9 L98.4,319.1 L99.4,321.8 L100.4,322.6 L101.4,322.8 L102.4,323.6 L103.4,321.6 L104.4,319.1 L105.4,321.1 L106.4,323.0 L107.4,322.8 L108.4,323.8 L109.4,322.8 L110.4,322.5 L111.4,321.6 L112.4,324.7 L113.4,324.4 L114.4,325.9 L115.4,325.4 L116.4,324.5 L117.4,321.3 L118.4,321.5 L119.4,322.8 L120.4,324.4 L121.4,324.3 L122.4,323.8 L123.4,318.8 L124.4,320.6 L125.4,323.5 L126.4,323.6 L127.4,323.9 L128.4,324.7 L129.4,324.7 L130.4,321.6 L131.4,325.8 L132.4,324.4 L133.4,325.2 L134.4,325.2 L135.4,321.1 L136.4,323.3 L137.4,324.8 L138.4,324.7 L139.4,326.8 L140.4,325.7 L141.4,323.8 L142.4,321.1 L143.4,324.2 L144.4,323.6 L145.4,324.8 L146.4,324.9 L147.4,326.3 L148.4,324.2 L149.4,324.1 L150.4,326.3 L151.4,327.1 L152.4,326.5 L153.4,326.4 L154.4,324.0 L155.4,323.5 L156.4,325.4 L157.4,326.1 L158.4,325.0 L159.4,323.6 L160.4,321.8 L161.4,323.2 L162.4,322.3 L163.4,324.1 L164.4,325.2 L165.4,323.7 L166.4,324.4 L167.4,321.1 L168.4,323.1 L169.4,325.2 L170.4,325.8 L171.4,326.1 L172.4,324.6 L173.4,322.7 L174.4,325.0 L175.4,324.8 L176.4,325.3 L177.4,324.1 L178.4,324.8 L179.4,321.4 L180.4,323.0 L181.4,324.0 L182.4,324.9 L183.4,324.8 L184.4,326.1 L185.4,323.0 L186.4,324.2 L187.4,325.3 L188.4,325.4 L189.4,325.8 L190.4,325.6 L191.4,324.1 L192.4,322.0 L193.4,324.6 L194.4,325.0 L195.4,325.2 L196.4,325.8 L197.4,323.6 L198.4,322.9 L199.4,326.1 L200.4,324.7 L201.4,325.4 L202.4,325.9 L203.4,322.4 L204.4,321.6 L205.4,324.2 L206.4,327.3 L207.4,325.5 L208.4,327.2 L209.4,326.7 L210.4,322.8 L211.4,325.0 L212.4,324.4 L213.4,324.6 L214.4,324.9 L215.4,325.8 L216.4,320.5 L217.4,324.2 L218.4,324.8 L219.4,326.4 L220.4,326.1 L221.4,326.8 L222.4,325.0 L223.4,324.0 L224.4,325.7 L225.4,326.5 L226.4,327.1 L227.4,327.9 L228.4,326.9 L229.4,325.0 L230.4,322.5 L231.4,325.4 L232.0,325.4" fill="none" stroke="#000" stroke-width="1.55" stroke-linejoin="round" />
<path d="M69.4,301.5 L70.4,306.0 L71.4,309.1 L72.4,307.9 L73.4,311.3 L74.4,315.0 L75.4,315.2 L76.4,316.4 L77.4,317.9 L78.4,317.0 L79.4,316.9 L80.4,321.4 L81.4,322.7 L82.4,322.6 L83.4,323.9 L84.4,324.2 L85.4,319.3 L86.4,322.5 L87.4,324.4 L88.4,326.2 L89.4,326.7 L90.4,326.6 L91.4,324.8" fill="none" stroke="#000" stroke-width="1.2" stroke-linejoin="round" />
<path d="M90.4,326.6 L91.4,324.8 L92.4,323.3 L93.4,325.8 L94.4,325.7 L95.4,327.3 L96.4,327.1 L97.4,327.3 L98.4,325.6 L99.4,323.5 L100.4,327.2 L101.4,328.1 L102.4,328.0 L103.4,327.8 L104.4,326.5 L105.4,324.9 L106.4,325.9 L107.4,327.2 L108.4,327.0 L109.4,326.6 L110.4,326.1 L111.4,326.2 L112.4,323.3 L113.4,327.1 L114.4,328.0 L115.4,327.5 L116.4,327.5 L117.4,326.9 L118.4,324.5 L119.4,327.0 L120.4,328.4 L121.4,330.3 L122.4,329.8 L123.4,329.7 L124.4,326.6 L125.4,326.9 L126.4,328.4 L127.4,328.2 L128.4,327.7 L129.4,327.5 L130.4,328.8 L131.4,325.4 L132.4,326.5 L133.4,328.3 L134.4,328.1 L135.4,328.4 L136.4,327.6 L137.4,324.3 L138.4,325.5 L139.4,328.0 L140.4,327.7 L141.4,328.7 L142.4,327.7 L143.4,326.7 L144.4,326.5 L145.4,327.8 L146.4,330.4 L147.4,329.5 L148.4,328.5 L149.4,328.9 L150.4,324.4 L151.4,325.9 L152.4,329.0 L153.4,327.4 L154.4,328.5 L155.4,325.8 L156.4,325.5 L157.4,326.8 L158.4,328.5 L159.4,328.2 L160.4,327.3 L161.4,329.4 L162.4,329.2 L163.4,326.3 L164.4,327.5 L165.4,329.7 L166.4,329.5 L167.4,329.4 L168.4,330.0 L169.4,328.2 L170.4,325.0 L171.4,328.0 L172.4,328.1 L173.4,329.0 L174.4,329.0 L175.4,328.2 L176.4,325.2 L177.4,324.6 L178.4,329.9 L179.4,330.1 L180.4,330.3 L181.4,328.6 L182.4,326.8 L183.4,323.5 L184.4,326.4 L185.4,330.1 L186.4,329.7 L187.4,328.5 L188.4,326.2 L189.4,323.5 L190.4,328.4 L191.4,329.6 L192.4,328.4 L193.4,328.9 L194.4,327.9 L195.4,328.0 L196.4,325.5 L197.4,330.2 L198.4,329.5 L199.4,330.2 L200.4,331.1 L201.4,327.7 L202.4,324.2 L203.4,327.5 L204.4,328.7 L205.4,329.0 L206.4,329.9 L207.4,329.3 L208.4,326.2 L209.4,327.2 L210.4,328.7 L211.4,328.3 L212.4,327.9 L213.4,326.3 L214.4,325.1 L215.4,328.8 L216.4,327.6 L217.4,328.1 L218.4,327.9 L219.4,327.3 L220.4,324.9 L221.4,325.8 L222.4,327.8 L223.4,327.1 L224.4,325.8 L225.4,326.4 L226.4,327.8 L227.4,325.7 L228.4,326.0 L229.4,328.9 L230.4,328.5 L231.4,328.7 L232.0,328.7" fill="none" stroke="#000" stroke-width="1.55" stroke-linejoin="round" />
<path d="M69.4,308.2 L70.4,310.6 L71.4,314.9 L72.4,315.4 L73.4,317.3 L74.4,319.0 L75.4,318.2 L76.4,319.9 L77.4,323.2 L78.4,322.2 L79.4,325.0 L80.4,324.2 L81.4,322.5 L82.4,323.5 L83.4,326.1 L84.4,325.8 L85.4,324.9 L86.4,326.2 L87.4,324.9 L88.4,322.3 L89.4,324.1 L90.4,328.2 L91.4,329.0" fill="none" stroke="#000" stroke-width="1.2" stroke-linejoin="round" />
<path d="M90.4,328.2 L91.4,329.0 L92.4,330.0 L93.4,330.0 L94.4,326.3 L95.4,328.6 L96.4,329.8 L97.4,330.9 L98.4,330.4 L99.4,329.1 L100.4,328.7 L101.4,325.2 L102.4,327.3 L103.4,329.0 L104.4,328.7 L105.4,330.1 L106.4,329.8 L107.4,327.8 L108.4,327.8 L109.4,330.0 L110.4,332.1 L111.4,330.2 L112.4,329.6 L113.4,328.3 L114.4,327.0 L115.4,329.8 L116.4,331.1 L117.4,332.0 L118.4,331.1 L119.4,331.5 L120.4,328.5 L121.4,325.7 L122.4,329.4 L123.4,331.5 L124.4,330.7 L125.4,331.1 L126.4,330.6 L127.4,330.4 L128.4,330.4 L129.4,331.1 L130.4,331.2 L131.4,329.6 L132.4,330.6 L133.4,329.5 L134.4,328.4 L135.4,331.8 L136.4,331.6 L137.4,331.8 L138.4,332.2 L139.4,331.1 L140.4,326.4 L141.4,329.3 L142.4,331.1 L143.4,331.8 L144.4,330.8 L145.4,329.6 L146.4,329.3 L147.4,328.7 L148.4,331.3 L149.4,331.2 L150.4,330.7 L151.4,330.5 L152.4,329.4 L153.4,327.6 L154.4,327.5 L155.4,330.1 L156.4,331.3 L157.4,330.7 L158.4,329.2 L159.4,326.4 L160.4,327.3 L161.4,330.0 L162.4,331.4 L163.4,332.9 L164.4,333.8 L165.4,331.6 L166.4,328.8 L167.4,331.1 L168.4,331.0 L169.4,332.0 L170.4,330.9 L171.4,331.4 L172.4,328.5 L173.4,327.8 L174.4,331.3 L175.4,331.1 L176.4,331.9 L177.4,331.5 L178.4,329.3 L179.4,327.3 L180.4,328.6 L181.4,333.1 L182.4,333.0 L183.4,332.3 L184.4,332.1 L185.4,331.4 L186.4,327.1 L187.4,330.9 L188.4,331.1 L189.4,331.6 L190.4,330.6 L191.4,329.7 L192.4,328.8 L193.4,330.2 L194.4,332.7 L195.4,333.5 L196.4,333.2 L197.4,333.4 L198.4,330.1 L199.4,329.4 L200.4,330.5 L201.4,333.0 L202.4,331.8 L203.4,333.0 L204.4,331.0 L205.4,328.3 L206.4,328.6 L207.4,330.7 L208.4,331.1 L209.4,330.6 L210.4,331.0 L211.4,329.7 L212.4,329.3 L213.4,332.6 L214.4,332.8 L215.4,334.0 L216.4,332.6 L217.4,329.0 L218.4,326.1 L219.4,330.3 L220.4,331.6 L221.4,330.1 L222.4,331.4 L223.4,332.3 L224.4,330.6 L225.4,326.7 L226.4,330.0 L227.4,332.4 L228.4,331.5 L229.4,332.4 L230.4,331.4 L231.4,331.1 L232.0,331.1" fill="none" stroke="#000" stroke-width="1.55" stroke-linejoin="round" />
<path d="M69.4,318.9 L70.4,320.1 L71.4,322.2 L72.4,325.5 L73.4,328.5 L74.4,326.6 L75.4,327.3 L76.4,329.4 L77.4,330.3 L78.4,330.9 L79.4,332.4 L80.4,329.0 L81.4,330.5 L82.4,332.1 L83.4,332.6 L84.4,330.9 L85.4,331.2 L86.4,329.3 L87.4,331.7 L88.4,332.2 L89.4,332.7 L90.4,332.6 L91.4,332.7" fill="none" stroke="#000" stroke-width="1.2" stroke-linejoin="round" />
<path d="M90.4,332.6 L91.4,332.7 L92.4,330.3 L93.4,334.1 L94.4,333.9 L95.4,333.7 L96.4,332.4 L97.4,333.6 L98.4,333.8 L99.4,332.7 L100.4,332.9 L101.4,336.4 L102.4,335.0 L103.4,334.5 L104.4,336.7 L105.4,335.0 L106.4,334.3 L107.4,334.2 L108.4,335.1 L109.4,337.3 L110.4,337.0 L111.4,335.3 L112.4,333.6 L113.4,332.5 L114.4,330.6 L115.4,333.1 L116.4,334.3 L117.4,332.8 L118.4,333.9 L119.4,332.4 L120.4,330.5 L121.4,333.3 L122.4,334.2 L123.4,334.6 L124.4,335.1 L125.4,333.9 L126.4,330.9 L127.4,332.8 L128.4,334.4 L129.4,335.7 L130.4,333.7 L131.4,334.4 L132.4,331.4 L133.4,329.9 L134.4,331.5 L135.4,333.9 L136.4,335.2 L137.4,336.8 L138.4,334.8 L139.4,333.7 L140.4,332.9 L141.4,333.8 L142.4,335.8 L143.4,334.0 L144.4,334.2 L145.4,333.0 L146.4,330.3 L147.4,333.2 L148.4,335.0 L149.4,335.2 L150.4,335.6 L151.4,334.6 L152.4,332.2 L153.4,330.3 L154.4,334.4 L155.4,335.5 L156.4,335.0 L157.4,335.7 L158.4,333.4 L159.4,333.0 L160.4,334.8 L161.4,334.8 L162.4,334.8 L163.4,334.2 L164.4,332.3 L165.4,330.4 L166.4,332.1 L167.4,334.6 L168.4,333.8 L169.4,336.0 L170.4,334.5 L171.4,330.8 L172.4,334.9 L173.4,333.2 L174.4,334.6 L175.4,335.2 L176.4,335.5 L177.4,333.9 L178.4,331.8 L179.4,333.4 L180.4,333.5 L181.4,333.6 L182.4,333.9 L183.4,334.9 L184.4,331.5 L185.4,330.0 L186.4,334.2 L187.4,334.4 L188.4,334.1 L189.4,333.8 L190.4,334.9 L191.4,334.2 L192.4,333.1 L193.4,335.0 L194.4,335.7 L195.4,335.3 L196.4,335.8 L197.4,334.9 L198.4,331.7 L199.4,329.6 L200.4,333.8 L201.4,335.5 L202.4,335.4 L203.4,334.2 L204.4,335.7 L205.4,332.1 L206.4,332.8 L207.4,334.2 L208.4,334.3 L209.4,333.5 L210.4,333.4 L211.4,333.5 L212.4,331.9 L213.4,333.7 L214.4,335.9 L215.4,334.0 L216.4,333.5 L217.4,332.5 L218.4,330.8 L219.4,331.7 L220.4,334.4 L221.4,335.6 L222.4,335.0 L223.4,334.7 L224.4,330.8 L225.4,333.0 L226.4,334.1 L227.4,335.4 L228.4,334.2 L229.4,334.7 L230.4,332.2 L231.4,328.2 L232.0,328.2" fill="none" stroke="#000" stroke-width="1.55" stroke-linejoin="round" />
<path d="M69.4,326.4 L70.4,328.9 L71.4,329.4 L72.4,329.5 L73.4,329.0 L74.4,330.5 L75.4,332.1 L76.4,329.0 L77.4,330.4 L78.4,332.9 L79.4,333.4 L80.4,332.6 L81.4,333.8 L82.4,333.9 L83.4,329.3 L84.4,333.8 L85.4,334.3 L86.4,333.9 L87.4,334.8 L88.4,335.5 L89.4,334.5 L90.4,332.1 L91.4,335.5" fill="none" stroke="#000" stroke-width="1.2" stroke-linejoin="round" />
<path d="M90.4,332.1 L91.4,335.5 L92.4,335.3 L93.4,335.9 L94.4,334.9 L95.4,332.9 L96.4,335.8 L97.4,339.6 L98.4,338.1 L99.4,337.7 L100.4,338.1 L101.4,334.6 L102.4,331.4 L103.4,334.5 L104.4,333.7 L105.4,336.3 L106.4,336.3 L107.4,336.3 L108.4,332.7 L109.4,333.3 L110.4,335.4 L111.4,335.9 L112.4,336.7 L113.4,335.9 L114.4,334.3 L115.4,332.4 L116.4,334.9 L117.4,337.4 L118.4,337.6 L119.4,337.0 L120.4,338.1 L121.4,336.3 L122.4,332.5 L123.4,335.9 L124.4,337.7 L125.4,337.9 L126.4,337.1 L127.4,334.5 L128.4,335.6 L129.4,337.2 L130.4,337.0 L131.4,337.1 L132.4,338.7 L133.4,336.5 L134.4,335.2 L135.4,335.5 L136.4,337.9 L137.4,337.7 L138.4,337.5 L139.4,337.3 L140.4,335.2 L141.4,333.3 L142.4,335.8 L143.4,336.4 L144.4,337.6 L145.4,336.7 L146.4,334.9 L147.4,331.8 L148.4,335.9 L149.4,338.8 L150.4,338.1 L151.4,336.7 L152.4,336.9 L153.4,333.1 L154.4,333.5 L155.4,335.5 L156.4,336.6 L157.4,338.0 L158.4,336.0 L159.4,331.9 L160.4,333.6 L161.4,335.5 L162.4,336.1 L163.4,335.6 L164.4,337.3 L165.4,333.1 L166.4,333.8 L167.4,335.2 L168.4,337.9 L169.4,336.1 L170.4,336.6 L171.4,335.3 L172.4,333.6 L173.4,332.7 L174.4,334.8 L175.4,335.9 L176.4,334.3 L177.4,336.6 L178.4,335.4 L179.4,333.4 L180.4,337.2 L181.4,335.8 L182.4,335.4 L183.4,336.6 L184.4,336.4 L185.4,334.4 L186.4,333.7 L187.4,336.2 L188.4,337.2 L189.4,338.7 L190.4,337.2 L191.4,335.1 L192.4,331.6 L193.4,337.1 L194.4,336.4 L195.4,336.4 L196.4,335.9 L197.4,336.8 L198.4,334.7 L199.4,333.8 L200.4,336.0 L201.4,336.0 L202.4,337.3 L203.4,340.1 L204.4,338.5 L205.4,336.1 L206.4,338.6 L207.4,339.5 L208.4,339.7 L209.4,339.2 L210.4,339.0 L211.4,337.4 L212.4,333.3 L213.4,335.3 L214.4,336.3 L215.4,337.9 L216.4,337.7 L217.4,335.8 L218.4,332.9 L219.4,334.3 L220.4,337.3 L221.4,337.3 L222.4,338.6 L223.4,336.9 L224.4,335.5 L225.4,332.8 L226.4,336.7 L227.4,337.3 L228.4,337.9 L229.4,336.6 L230.4,334.4 L231.4,335.2 L232.0,335.2" fill="none" stroke="#000" stroke-width="1.55" stroke-linejoin="round" />
<path d="M69.4,332.4 L70.4,332.6 L71.4,334.8 L72.4,334.7 L73.4,334.1 L74.4,333.9 L75.4,335.8 L76.4,335.0 L77.4,335.8 L78.4,336.9 L79.4,336.9 L80.4,334.2 L81.4,337.5 L82.4,338.9 L83.4,338.5 L84.4,340.4 L85.4,340.8 L86.4,337.4 L87.4,336.4 L88.4,337.8 L89.4,340.2 L90.4,340.0 L91.4,339.4" fill="none" stroke="#000" stroke-width="1.2" stroke-linejoin="round" />
<path d="M90.4,340.0 L91.4,339.4 L92.4,338.3 L93.4,337.8 L94.4,336.6 L95.4,337.6 L96.4,341.2 L97.4,340.0 L98.4,339.9 L99.4,338.8 L100.4,335.7 L101.4,336.2 L102.4,337.8 L103.4,339.5 L104.4,339.5 L105.4,340.6 L106.4,337.4 L107.4,335.6 L108.4,339.1 L109.4,338.6 L110.4,339.4 L111.4,338.7 L112.4,339.5 L113.4,336.0 L114.4,336.6 L115.4,338.7 L116.4,338.9 L117.4,340.4 L118.4,339.7 L119.4,338.4 L120.4,334.5 L121.4,337.5 L122.4,338.4 L123.4,339.9 L124.4,339.8 L125.4,339.3 L126.4,337.6 L127.4,336.1 L128.4,339.8 L129.4,340.4 L130.4,339.8 L131.4,340.2 L132.4,339.9 L133.4,336.9 L134.4,338.3 L135.4,340.0 L136.4,338.8 L137.4,338.4 L138.4,339.9 L139.4,337.4 L140.4,338.0 L141.4,338.4 L142.4,339.6 L143.4,340.1 L144.4,339.4 L145.4,338.2 L146.4,336.7 L147.4,338.1 L148.4,340.4 L149.4,339.9 L150.4,339.6 L151.4,341.0 L152.4,337.0 L153.4,337.3 L154.4,339.6 L155.4,340.3 L156.4,340.3 L157.4,340.6 L158.4,339.0 L159.4,337.0 L160.4,337.6 L161.4,339.3 L162.4,339.9 L163.4,340.6 L164.4,338.7 L165.4,337.8 L166.4,335.9 L167.4,340.0 L168.4,341.1 L169.4,339.8 L170.4,338.9 L171.4,338.1 L172.4,336.4 L173.4,338.9 L174.4,340.4 L175.4,341.1 L176.4,341.8 L177.4,341.1 L178.4,337.9 L179.4,337.5 L180.4,341.2 L181.4,340.2 L182.4,342.6 L183.4,341.4 L184.4,339.1 L185.4,334.1 L186.4,337.4 L187.4,339.1 L188.4,340.4 L189.4,339.0 L190.4,340.0 L191.4,338.2 L192.4,336.9 L193.4,337.9 L194.4,340.0 L195.4,339.2 L196.4,338.9 L197.4,337.1 L198.4,334.4 L199.4,338.4 L200.4,338.7 L201.4,340.1 L202.4,340.9 L203.4,339.7 L204.4,333.8 L205.4,336.5 L206.4,338.7 L207.4,338.8 L208.4,338.8 L209.4,338.4 L210.4,336.7 L211.4,334.8 L212.4,337.2 L213.4,339.9 L214.4,340.6 L215.4,340.6 L216.4,339.5 L217.4,338.2 L218.4,338.3 L219.4,340.4 L220.4,339.0 L221.4,338.7 L222.4,338.8 L223.4,336.4 L224.4,335.3 L225.4,338.2 L226.4,340.8 L227.4,340.2 L228.4,340.6 L229.4,337.8 L230.4,335.7 L231.4,337.6 L232.0,337.6" fill="none" stroke="#000" stroke-width="1.55" stroke-linejoin="round" />
<path d="M69.4,341.9 L70.4,339.7 L71.4,340.4 L72.4,340.7 L73.4,340.2 L74.4,340.9 L75.4,341.7 L76.4,342.3 L77.4,341.9 L78.4,337.9 L79.4,340.5 L80.4,341.0 L81.4,343.4 L82.4,342.0 L83.4,341.9 L84.4,338.7 L85.4,341.9 L86.4,341.5 L87.4,342.5 L88.4,341.3 L89.4,342.7 L90.4,339.4 L91.4,338.7" fill="none" stroke="#000" stroke-width="1.2" stroke-linejoin="round" />
<path d="M90.4,339.4 L91.4,338.7 L92.4,341.6 L93.4,341.3 L94.4,342.9 L95.4,342.7 L96.4,342.4 L97.4,340.0 L98.4,336.5 L99.4,340.5 L100.4,341.9 L101.4,342.1 L102.4,342.5 L103.4,342.3 L104.4,340.0 L105.4,338.9 L106.4,342.3 L107.4,342.9 L108.4,342.1 L109.4,343.7 L110.4,342.2 L111.4,338.7 L112.4,341.6 L113.4,341.1 L114.4,341.9 L115.4,340.6 L116.4,340.6 L117.4,337.7 L118.4,339.1 L119.4,342.4 L120.4,342.1 L121.4,343.3 L122.4,343.7 L123.4,342.7 L124.4,340.7 L125.4,338.9 L126.4,341.4 L127.4,341.6 L128.4,342.4 L129.4,341.9 L130.4,342.3 L131.4,338.3 L132.4,339.9 L133.4,341.6 L134.4,343.0 L135.4,343.0 L136.4,340.8 L137.4,336.5 L138.4,338.5 L139.4,341.0 L140.4,343.7 L141.4,343.0 L142.4,341.8 L143.4,341.4 L144.4,340.4 L145.4,339.4 L146.4,342.6 L147.4,341.9 L148.4,340.5 L149.4,341.1 L150.4,339.9 L151.4,339.0 L152.4,340.2 L153.4,342.2 L154.4,342.2 L155.4,342.0 L156.4,341.2 L157.4,338.8 L158.4,342.0 L159.4,343.2 L160.4,343.3 L161.4,343.3 L162.4,342.1 L163.4,339.6 L164.4,340.5 L165.4,342.1 L166.4,340.5 L167.4,341.3 L168.4,340.7 L169.4,338.1 L170.4,340.8 L171.4,342.4 L172.4,344.2 L173.4,343.4 L174.4,343.5 L175.4,340.7 L176.4,339.1 L177.4,341.8 L178.4,341.3 L179.4,341.3 L180.4,341.0 L181.4,338.8 L182.4,339.5 L183.4,341.7 L184.4,342.0 L185.4,342.1 L186.4,342.2 L187.4,339.1 L188.4,339.1 L189.4,342.6 L190.4,342.1 L191.4,342.9 L192.4,341.3 L193.4,341.7 L194.4,340.3 L195.4,340.6 L196.4,342.7 L197.4,343.2 L198.4,342.8 L199.4,342.7 L200.4,342.3 L201.4,340.0 L202.4,341.2 L203.4,343.3 L204.4,342.8 L205.4,342.5 L206.4,340.3 L207.4,338.0 L208.4,339.9 L209.4,342.0 L210.4,342.5 L211.4,341.7 L212.4,341.5 L213.4,341.5 L214.4,339.3 L215.4,337.3 L216.4,339.3 L217.4,341.0 L218.4,341.0 L219.4,341.8 L220.4,341.2 L221.4,341.8 L222.4,337.6 L223.4,340.5 L224.4,342.2 L225.4,342.9 L226.4,341.0 L227.4,341.7 L228.4,340.4 L229.4,338.5 L230.4,341.0 L231.4,341.1 L232.0,341.1" fill="none" stroke="#000" stroke-width="1.55" stroke-linejoin="round" />
<path d="M69.4,350.9 L70.4,348.1 L71.4,346.4 L72.4,346.6 L73.4,347.6 L74.4,348.7 L75.4,346.3 L76.4,345.4 L77.4,341.7 L78.4,345.3 L79.4,344.9 L80.4,346.3 L81.4,346.5 L82.4,346.9 L83.4,341.7 L84.4,342.0 L85.4,344.5 L86.4,346.2 L87.4,344.3 L88.4,346.5 L89.4,343.3 L90.4,340.2 L91.4,342.8" fill="none" stroke="#000" stroke-width="1.2" stroke-linejoin="round" />
<path d="M90.4,340.2 L91.4,342.8 L92.4,344.2 L93.4,344.8 L94.4,343.8 L95.4,344.2 L96.4,341.1 L97.4,340.4 L98.4,343.4 L99.4,342.7 L100.4,342.6 L101.4,344.3 L102.4,340.5 L103.4,340.7 L104.4,343.8 L105.4,344.8 L106.4,344.8 L107.4,343.3 L108.4,344.2 L109.4,343.6 L110.4,339.9 L111.4,343.3 L112.4,345.9 L113.4,344.6 L114.4,345.6 L115.4,346.2 L116.4,342.9 L117.4,343.8 L118.4,345.7 L119.4,345.2 L120.4,345.9 L121.4,344.6 L122.4,344.2 L123.4,343.2 L124.4,341.1 L125.4,342.6 L126.4,342.4 L127.4,343.5 L128.4,345.5 L129.4,345.1 L130.4,341.0 L131.4,341.9 L132.4,343.7 L133.4,342.9 L134.4,343.0 L135.4,345.0 L136.4,340.5 L137.4,340.7 L138.4,344.3 L139.4,345.7 L140.4,345.9 L141.4,345.4 L142.4,345.6 L143.4,339.8 L144.4,343.6 L145.4,344.2 L146.4,343.8 L147.4,345.4 L148.4,343.8 L149.4,343.1 L150.4,344.8 L151.4,345.9 L152.4,345.3 L153.4,345.5 L154.4,343.0 L155.4,340.3 L156.4,343.7 L157.4,345.1 L158.4,344.9 L159.4,344.9 L160.4,344.5 L161.4,342.9 L162.4,342.7 L163.4,343.9 L164.4,344.7 L165.4,344.9 L166.4,345.7 L167.4,344.6 L168.4,340.2 L169.4,344.8 L170.4,344.6 L171.4,344.6 L172.4,344.0 L173.4,344.8 L174.4,340.8 L175.4,342.1 L176.4,344.2 L177.4,343.3 L178.4,342.7 L179.4,342.4 L180.4,343.8 L181.4,341.4 L182.4,343.0 L183.4,344.2 L184.4,344.9 L185.4,345.1 L186.4,346.0 L187.4,345.4 L188.4,344.2 L189.4,344.5 L190.4,344.8 L191.4,347.3 L192.4,345.1 L193.4,346.3 L194.4,341.5 L195.4,343.6 L196.4,345.7 L197.4,343.6 L198.4,344.2 L199.4,344.2 L200.4,342.5 L201.4,341.6 L202.4,343.8 L203.4,345.2 L204.4,345.6 L205.4,345.0 L206.4,344.1 L207.4,342.0 L208.4,346.5 L209.4,347.1 L210.4,346.5 L211.4,344.6 L212.4,342.9 L213.4,341.0 L214.4,344.3 L215.4,346.0 L216.4,344.2 L217.4,342.8 L218.4,344.6 L219.4,343.4 L220.4,340.9 L221.4,344.4 L222.4,345.2 L223.4,344.1 L224.4,344.5 L225.4,344.5 L226.4,342.7 L227.4,342.6 L228.4,344.6 L229.4,345.6 L230.4,346.1 L231.4,344.0 L232.0,344.0" fill="none" stroke="#000" stroke-width="1.55" stroke-linejoin="round" />
<path d="M69.4,359.1 L70.4,353.6 L71.4,352.5 L72.4,348.3 L73.4,348.6 L74.4,347.0 L75.4,348.5 L76.4,347.3 L77.4,346.8 L78.4,343.5 L79.4,345.4 L80.4,345.6 L81.4,346.3 L82.4,346.0 L83.4,345.8 L84.4,342.0 L85.4,346.8 L86.4,346.7 L87.4,346.1 L88.4,348.0 L89.4,347.6 L90.4,342.9 L91.4,343.3" fill="none" stroke="#000" stroke-width="1.2" stroke-linejoin="round" />
<path d="M90.4,342.9 L91.4,343.3 L92.4,347.2 L93.4,346.6 L94.4,347.2 L95.4,347.6 L96.4,346.5 L97.4,340.7 L98.4,344.0 L99.4,345.8 L100.4,344.9 L101.4,345.6 L102.4,346.1 L103.4,344.2 L104.4,344.7 L105.4,347.0 L106.4,347.5 L107.4,347.9 L108.4,346.6 L109.4,346.8 L110.4,342.8 L111.4,344.8 L112.4,347.5 L113.4,347.6 L114.4,348.0 L115.4,347.3 L116.4,346.7 L117.4,345.5 L118.4,343.2 L119.4,346.0 L120.4,347.6 L121.4,347.0 L122.4,347.0 L123.4,343.5 L124.4,344.0 L125.4,346.2 L126.4,347.0 L127.4,346.3 L128.4,348.0 L129.4,346.9 L130.4,343.1 L131.4,344.7 L132.4,346.3 L133.4,347.4 L134.4,347.2 L135.4,348.8 L136.4,345.6 L137.4,345.2 L138.4,347.5 L139.4,347.1 L140.4,346.6 L141.4,345.1 L142.4,343.7 L143.4,346.3 L144.4,348.9 L145.4,347.0 L146.4,348.0 L147.4,346.9 L148.4,344.3 L149.4,343.8 L150.4,345.3 L151.4,345.7 L152.4,348.1 L153.4,346.5 L154.4,347.6 L155.4,343.9 L156.4,345.2 L157.4,348.1 L158.4,347.9 L159.4,346.7 L160.4,346.6 L161.4,346.1 L162.4,345.4 L163.4,347.2 L164.4,348.3 L165.4,347.3 L166.4,345.1 L167.4,343.9 L168.4,342.5 L169.4,345.2 L170.4,345.2 L171.4,346.0 L172.4,347.1 L173.4,348.2 L174.4,346.5 L175.4,344.9 L176.4,346.5 L177.4,348.0 L178.4,347.2 L179.4,346.9 L180.4,346.0 L181.4,342.6 L182.4,346.4 L183.4,346.3 L184.4,345.5 L185.4,347.5 L186.4,346.9 L187.4,346.2 L188.4,345.1 L189.4,347.2 L190.4,345.2 L191.4,345.6 L192.4,345.6 L193.4,343.7 L194.4,341.1 L195.4,345.0 L196.4,344.9 L197.4,346.8 L198.4,346.5 L199.4,346.0 L200.4,343.8 L201.4,345.6 L202.4,347.4 L203.4,345.9 L204.4,346.0 L205.4,347.4 L206.4,347.7 L207.4,342.2 L208.4,345.8 L209.4,348.6 L210.4,350.3 L211.4,348.2 L212.4,347.5 L213.4,346.8 L214.4,343.2 L215.4,343.5 L216.4,346.1 L217.4,347.8 L218.4,347.0 L219.4,347.6 L220.4,347.5 L221.4,342.3 L222.4,343.7 L223.4,345.4 L224.4,346.8 L225.4,347.9 L226.4,347.5 L227.4,345.6 L228.4,344.4 L229.4,344.3 L230.4,346.8 L231.4,349.1 L232.0,349.1" fill="none" stroke="#000" stroke-width="1.55" stroke-linejoin="round" />
<path d="M69.4,348.4 L70.4,348.5 L71.4,349.7 L72.4,349.2 L73.4,348.3 L74.4,349.4 L75.4,347.4 L76.4,349.3 L77.4,348.8 L78.4,348.3 L79.4,344.7 L80.4,347.6 L81.4,348.3 L82.4,349.4 L83.4,348.5 L84.4,349.2 L85.4,347.7 L86.4,347.0 L87.4,347.9 L88.4,349.6 L89.4,350.8 L90.4,349.0 L91.4,349.0" fill="none" stroke="#000" stroke-width="1.2" stroke-linejoin="round" />
<path d="M90.4,349.0 L91.4,349.0 L92.4,343.9 L93.4,350.4 L94.4,348.4 L95.4,349.8 L96.4,350.0 L97.4,349.7 L98.4,347.5 L99.4,347.9 L100.4,351.3 L101.4,350.7 L102.4,348.7 L103.4,348.0 L104.4,345.8 L105.4,347.6 L106.4,347.9 L107.4,348.6 L108.4,349.4 L109.4,348.8 L110.4,348.3 L111.4,347.4 L112.4,350.1 L113.4,350.4 L114.4,350.2 L115.4,348.9 L116.4,350.1 L117.4,347.4 L118.4,343.8 L119.4,347.8 L120.4,350.0 L121.4,348.0 L122.4,349.9 L123.4,346.2 L124.4,346.3 L125.4,348.6 L126.4,348.7 L127.4,348.8 L128.4,349.5 L129.4,347.8 L130.4,346.2 L131.4,347.7 L132.4,347.9 L133.4,348.2 L134.4,349.3 L135.4,348.7 L136.4,346.7 L137.4,346.7 L138.4,348.7 L139.4,350.9 L140.4,350.6 L141.4,349.5 L142.4,349.9 L143.4,347.4 L144.4,348.5 L145.4,350.3 L146.4,350.5 L147.4,350.8 L148.4,348.7 L149.4,347.9 L150.4,348.1 L151.4,349.4 L152.4,349.4 L153.4,349.8 L154.4,349.8 L155.4,347.4 L156.4,343.6 L157.4,347.3 L158.4,349.4 L159.4,348.9 L160.4,349.8 L161.4,349.3 L162.4,349.3 L163.4,347.2 L164.4,346.4 L165.4,348.7 L166.4,350.4 L167.4,350.0 L168.4,349.3 L169.4,348.2 L170.4,345.5 L171.4,348.1 L172.4,350.2 L173.4,349.9 L174.4,349.7 L175.4,347.3 L176.4,347.2 L177.4,350.6 L178.4,349.6 L179.4,351.6 L180.4,351.1 L181.4,350.8 L182.4,347.8 L183.4,346.4 L184.4,348.7 L185.4,351.0 L186.4,350.1 L187.4,350.6 L188.4,348.8 L189.4,344.8 L190.4,347.5 L191.4,349.9 L192.4,349.8 L193.4,350.2 L194.4,347.7 L195.4,347.2 L196.4,347.8 L197.4,349.9 L198.4,349.5 L199.4,348.7 L200.4,348.9 L201.4,345.1 L202.4,349.8 L203.4,351.7 L204.4,349.3 L205.4,348.6 L206.4,350.2 L207.4,347.5 L208.4,348.6 L209.4,350.9 L210.4,350.5 L211.4,350.3 L212.4,348.5 L213.4,346.5 L214.4,348.8 L215.4,350.2 L216.4,349.8 L217.4,350.4 L218.4,349.4 L219.4,346.3 L220.4,346.3 L221.4,349.3 L222.4,349.9 L223.4,349.2 L224.4,350.6 L225.4,349.0 L226.4,346.4 L227.4,350.2 L228.4,350.4 L229.4,349.4 L230.4,349.2 L231.4,349.4 L232.0,349.4" fill="none" stroke="#000" stroke-width="1.55" stroke-linejoin="round" />
<path d="M160.1,338.2 l0.7,0.2 M151.1,346.1 l0.6,0.7 M99.3,344.8 l1.1,0.5 M160.5,332.4 l0.7,0.5 M227.2,342.4 l1.3,0.6 M142.3,343.6 l1.2,-0.6 M220.0,319.9 l1.6,0.4 M146.6,342.4 l1.4,-0.2 M78.2,329.8 l0.7,0.8 M215.0,340.7 l0.7,-0.0 M86.5,345.8 l1.5,0.7 M148.1,343.1 l1.4,-0.8 M73.3,320.9 l0.7,-0.2 M147.2,347.2 l0.7,-0.4 M76.0,349.6 l0.8,0.0 M131.9,350.4 l1.3,0.2 M149.3,326.8 l0.7,0.2 M101.9,337.5 l0.7,-0.8 M94.3,321.0 l1.1,0.3 M195.1,323.5 l1.0,-0.1 M149.2,340.9 l1.4,-0.5 M208.6,346.8 l1.5,-0.3 M216.4,343.6 l1.6,0.4 M230.0,333.8 l1.4,0.0 M151.7,331.2 l1.0,0.4 M160.8,341.3 l0.9,-0.7 M195.5,319.6 l1.2,0.1 M185.9,337.4 l1.2,0.5 M114.8,323.3 l0.7,0.0 M170.6,349.5 l0.7,0.3 M84.5,333.0 l1.4,-0.7 M227.0,346.1 l0.7,-0.8 M77.0,343.8 l0.6,0.5 M199.6,345.0 l1.5,0.2 M202.3,335.9 l0.7,0.1 M228.5,330.8 l0.8,-0.0 M157.6,343.4 l0.9,-0.0 M102.0,337.1 l1.5,-0.2 M182.0,325.0 l1.6,-0.3 M177.6,329.2 l0.8,0.0 M107.7,323.2 l1.4,0.0 M220.9,333.8 l0.9,-0.5 M154.4,338.4 l1.3,0.6 M198.7,340.7 l1.4,0.1 M146.7,348.2 l1.5,-0.2 M209.0,332.2 l0.6,0.2 M221.6,332.5 l1.3,-0.8 M84.1,328.9 l1.3,0.2 M142.4,348.0 l0.8,-0.0 M215.3,326.4 l0.8,-0.1 M75.9,337.4 l1.1,-0.1 M103.7,339.1 l0.6,0.7 M148.3,338.2 l1.0,-0.8 M76.7,341.9 l1.1,-0.4 M157.0,346.7 l1.1,0.0 M164.3,346.8 l0.6,0.3 M163.1,341.6 l0.8,0.5 M197.4,327.2 l0.7,0.1 M85.7,324.2 l1.3,-0.0 M116.9,344.2 l1.6,0.4 M124.1,333.7 l0.8,0.5 M79.0,349.9 l1.2,0.4 M166.9,346.0 l1.0,-0.7 M104.5,342.6 l1.6,-0.4 M148.9,343.8 l0.9,-0.4 M165.9,334.4 l1.1,-0.1 M101.6,344.9 l0.6,-0.8 M129.7,344.6 l0.9,-0.1 M86.4,327.2 l1.5,-0.6 M130.0,349.7 l0.8,0.4 M219.9,348.2 l1.4,0.7 M90.1,340.9 l1.6,0.0 M137.2,341.9 l0.8,-0.8 M176.0,350.6 l1.1,0.3 M184.2,340.1 l1.4,-0.8 M198.9,322.3 l1.4,0.5 M217.2,325.2 l1.5,0.1 M179.7,321.5 l0.6,0.0 M115.5,322.3 l1.1,0.4 M200.1,341.4 l1.2,0.0 M87.1,323.1 l1.4,-0.2 M216.6,336.9 l0.8,0.7 M82.0,318.0 l1.4,-0.4 M118.6,348.1 l0.8,0.6 M135.9,329.9 l1.3,0.8 M91.0,328.2 l1.4,0.8 M201.6,321.1 l0.8,-0.1 M104.0,347.1 l1.5,-0.0 M147.2,340.8 l0.9,-0.2 M195.3,340.0 l1.5,0.1 M202.6,345.6 l0.8,0.2 M133.8,349.2 l0.6,0.7 M222.1,331.3 l0.9,-0.7 M75.2,342.1 l0.8,0.0 M144.7,349.7 l1.1,0.8 M135.3,345.8 l1.1,-0.8 M217.4,340.7 l1.2,-0.1 M73.3,346.8 l0.7,-0.6 M115.1,333.4 l0.9,-0.6 M159.0,329.7 l0.7,-0.1 M138.8,344.7 l0.8,0.5 M159.1,345.4 l1.4,0.0 M186.0,322.5 l0.8,0.1 M98.2,349.3 l1.0,0.2 M152.2,340.8 l0.8,0.4 M133.5,339.2 l1.5,0.3 M220.7,328.5 l1.3,0.3 M143.8,332.5 l0.7,-0.7 M86.4,332.9 l0.8,0.3 M152.6,328.5 l0.6,0.1 M99.1,349.3 l1.2,0.0 M127.2,323.8 l0.9,-0.1 M179.9,345.5 l1.2,-0.4 M193.5,319.1 l1.0,-0.5 M176.3,319.5 l0.6,-0.5 M210.4,319.4 l0.8,-0.2" stroke="#fff" stroke-width="1.1" stroke-linecap="round" fill="none"/>
<path d="M64.8,222.8 L68.9,222.8 L68.9,236 L70.2,239 L70.4,250 L68.9,252 L68.9,367.5 L64.8,367.5 Z" fill="#000"/>
<path d="M68.5,350 L71.8,351 L71.6,360 L70.8,368.5 L68.5,368.5 Z" fill="#000"/>
<path d="M72.6,368.5 C73.5,364 76.5,358 76.8,349" fill="none" stroke="#000" stroke-width="1.4" stroke-linejoin="round" />
<line x1="232.00" y1="312.00" x2="232.00" y2="368.50" stroke="#000" stroke-width="1.6" />
<path d="M340,349 L497,350 L497,359 L340,359 Z" fill="#000"/>
<path d="M340.0,358.5 L340.8,357.1 L341.6,358.6 L342.4,357.0 L343.2,361.7 L344.0,356.1 L344.8,359.7 L345.6,361.5 L346.4,362.2 L347.2,355.4 L348.0,356.9 L348.8,356.1 L349.6,357.0 L350.4,357.2 L351.2,356.6 L352.0,356.2 L352.8,363.9 L353.6,357.3 L354.4,357.7 L355.2,356.4 L356.0,358.3 L356.8,357.6 L357.6,358.4 L358.4,356.3 L359.2,357.4 L360.0,356.8 L360.8,363.7 L361.6,358.9 L362.4,360.1 L363.2,356.9 L364.0,361.9 L364.8,356.6 L365.6,354.7 L366.4,359.8 L367.2,357.7 L368.0,355.6 L368.8,357.2 L369.6,362.0 L370.4,357.1 L371.2,356.1 L372.0,359.2 L372.8,360.1 L373.6,356.9 L374.4,359.1 L375.2,360.1 L376.0,356.9 L376.8,356.4 L377.6,357.2 L378.4,357.6 L379.2,361.0 L380.0,357.3 L380.8,356.7 L381.6,357.3 L382.4,356.2 L383.2,357.2 L384.0,356.1 L384.8,357.3 L385.6,356.6 L386.4,357.3 L387.2,357.6 L388.0,354.7 L388.8,357.4 L389.6,358.0 L390.4,357.4 L391.2,356.9 L392.0,361.5 L392.8,362.7 L393.6,356.4 L394.4,359.2 L395.2,357.1 L396.0,357.3 L396.8,356.8 L397.6,362.1 L398.4,358.9 L399.2,358.3 L400.0,355.6 L400.8,358.7 L401.6,359.4 L402.4,356.7 L403.2,358.0 L404.0,356.8 L404.8,359.6 L405.6,356.3 L406.4,357.4 L407.2,358.5 L408.0,358.9 L408.8,362.1 L409.6,357.1 L410.4,357.0 L411.2,358.0 L412.0,356.5 L412.8,358.7 L413.6,359.2 L414.4,355.0 L415.2,362.4 L416.0,355.1 L416.8,357.1 L417.6,358.1 L418.4,356.9 L419.2,355.3 L420.0,358.7 L420.8,357.0 L421.6,362.8 L422.4,356.8 L423.2,356.3 L424.0,359.5 L424.8,359.6 L425.6,356.1 L426.4,357.2 L427.2,355.9 L428.0,358.1 L428.8,356.7 L429.6,363.7 L430.4,361.9 L431.2,358.4 L432.0,358.3 L432.8,355.9 L433.6,358.6 L434.4,355.5 L435.2,359.6 L436.0,358.3 L436.8,357.9 L437.6,357.1 L438.4,355.5 L439.2,360.8 L440.0,357.0 L440.8,354.0 L441.6,362.1 L442.4,357.5 L443.2,357.3 L444.0,358.3 L444.8,358.5 L445.6,360.1 L446.4,358.7 L447.2,364.8 L448.0,363.3 L448.8,356.0 L449.6,357.3 L450.4,357.5 L451.2,357.5 L452.0,362.3 L452.8,357.0 L453.6,359.8 L454.4,356.2 L455.2,355.9 L456.0,356.2 L456.8,358.5 L457.6,357.7 L458.4,356.2 L459.2,357.0 L460.0,359.2 L460.8,356.8 L461.6,360.4 L462.4,360.9 L463.2,355.9 L464.0,358.4 L464.8,359.2 L465.6,361.3 L466.4,356.8 L467.2,356.9 L468.0,358.3 L468.8,362.4 L469.6,357.1 L470.4,359.0 L471.2,358.7 L472.0,357.5 L472.8,355.8 L473.6,362.1 L474.4,356.7 L475.2,358.3 L476.0,356.4 L476.8,358.1 L477.6,358.1 L478.4,357.0 L479.2,358.2 L480.0,357.8 L480.8,355.3 L481.6,355.4 L482.4,363.2 L483.2,356.9 L484.0,357.2 L484.8,359.0 L485.6,357.1 L486.4,356.8 L487.2,358.7 L488.0,356.5 L488.8,359.8 L489.6,358.0 L490.4,355.2 L491.2,357.7 L492.0,358.2 L492.8,359.6 L493.6,358.1 L494.4,358.6 L495.2,356.4 L496.0,356.6 L496.8,357.6" fill="none" stroke="#000" stroke-width="1.5" stroke-linejoin="round" />
<path d="M340.0,358.8 L340.8,364.4 L341.6,355.9 L342.4,358.3 L343.2,357.5 L344.0,356.9 L344.8,358.0 L345.6,357.5 L346.4,356.8 L347.2,359.5 L348.0,358.0 L348.8,358.4 L349.6,360.1 L350.4,358.3 L351.2,358.9 L352.0,364.3 L352.8,359.7 L353.6,359.3 L354.4,358.9 L355.2,360.9 L356.0,358.6 L356.8,357.3 L357.6,357.5 L358.4,357.5 L359.2,361.0 L360.0,357.3 L360.8,358.6 L361.6,356.8 L362.4,357.7 L363.2,358.2 L364.0,357.0 L364.8,362.4 L365.6,358.4 L366.4,359.1 L367.2,358.4 L368.0,356.5 L368.8,357.7 L369.6,360.2 L370.4,357.3 L371.2,359.4 L372.0,357.8 L372.8,357.9 L373.6,358.3 L374.4,358.6 L375.2,358.3 L376.0,362.0 L376.8,358.9 L377.6,357.3 L378.4,359.7 L379.2,358.2 L380.0,358.9 L380.8,357.8 L381.6,357.2 L382.4,358.1 L383.2,357.5 L384.0,362.7 L384.8,363.3 L385.6,359.9 L386.4,358.6 L387.2,357.3 L388.0,358.9 L388.8,355.6 L389.6,358.8 L390.4,358.1 L391.2,358.6 L392.0,356.6 L392.8,358.8 L393.6,358.0 L394.4,358.3 L395.2,359.2 L396.0,358.3 L396.8,358.3 L397.6,356.6 L398.4,359.4 L399.2,356.9 L400.0,358.2 L400.8,357.7 L401.6,358.0 L402.4,356.7 L403.2,364.4 L404.0,360.6 L404.8,363.0 L405.6,357.0 L406.4,357.3 L407.2,358.6 L408.0,358.2 L408.8,357.0 L409.6,360.5 L410.4,356.6 L411.2,357.2 L412.0,357.1 L412.8,357.4 L413.6,359.2 L414.4,359.7 L415.2,357.2 L416.0,360.0 L416.8,364.5 L417.6,359.6 L418.4,357.5 L419.2,356.2 L420.0,358.2 L420.8,359.0 L421.6,358.3 L422.4,358.9 L423.2,362.3 L424.0,358.4 L424.8,356.3 L425.6,359.1 L426.4,359.4 L427.2,356.3 L428.0,359.5 L428.8,357.9 L429.6,357.1 L430.4,360.6 L431.2,357.0 L432.0,356.4 L432.8,358.5 L433.6,356.9 L434.4,358.5 L435.2,358.4 L436.0,358.8 L436.8,360.2 L437.6,361.0 L438.4,358.5 L439.2,356.8 L440.0,357.5 L440.8,357.4 L441.6,357.0 L442.4,357.4 L443.2,357.2 L444.0,362.3 L444.8,359.7 L445.6,360.6 L446.4,359.6 L447.2,359.4 L448.0,358.0 L448.8,358.4 L449.6,358.5 L450.4,359.1 L451.2,358.5 L452.0,357.3 L452.8,360.7 L453.6,360.7 L454.4,361.8 L455.2,358.4 L456.0,358.1 L456.8,356.7 L457.6,359.2 L458.4,361.0 L459.2,357.9 L460.0,355.5 L460.8,360.2 L461.6,358.4 L462.4,359.9 L463.2,356.1 L464.0,360.5 L464.8,363.3 L465.6,356.6 L466.4,357.3 L467.2,360.3 L468.0,357.4 L468.8,358.8 L469.6,360.3 L470.4,358.7 L471.2,358.0 L472.0,358.8 L472.8,358.7 L473.6,357.2 L474.4,356.9 L475.2,356.9 L476.0,364.1 L476.8,362.3 L477.6,359.0 L478.4,359.4 L479.2,355.7 L480.0,356.3 L480.8,361.2 L481.6,361.4 L482.4,359.2 L483.2,358.9 L484.0,359.9 L484.8,357.1 L485.6,361.2 L486.4,362.0 L487.2,360.1 L488.0,362.5 L488.8,359.3 L489.6,361.5 L490.4,358.5 L491.2,359.7 L492.0,358.2 L492.8,361.9 L493.6,360.1 L494.4,360.2 L495.2,358.2 L496.0,364.9 L496.8,360.4" fill="none" stroke="#000" stroke-width="1.5" stroke-linejoin="round" />
<path d="M340.0,358.2 L340.8,359.7 L341.6,358.2 L342.4,358.4 L343.2,360.2 L344.0,359.0 L344.8,359.0 L345.6,360.5 L346.4,364.5 L347.2,364.2 L348.0,364.9 L348.8,364.5 L349.6,358.8 L350.4,358.7 L351.2,358.5 L352.0,358.2 L352.8,358.6 L353.6,359.3 L354.4,359.2 L355.2,358.9 L356.0,358.9 L356.8,358.4 L357.6,361.0 L358.4,358.4 L359.2,360.7 L360.0,358.5 L360.8,361.5 L361.6,358.1 L362.4,356.8 L363.2,358.8 L364.0,358.2 L364.8,358.3 L365.6,357.4 L366.4,359.7 L367.2,359.5 L368.0,361.4 L368.8,360.1 L369.6,359.6 L370.4,363.9 L371.2,363.5 L372.0,362.6 L372.8,358.8 L373.6,360.8 L374.4,359.5 L375.2,362.1 L376.0,359.9 L376.8,359.0 L377.6,358.2 L378.4,359.7 L379.2,359.4 L380.0,357.6 L380.8,359.8 L381.6,359.3 L382.4,357.6 L383.2,361.0 L384.0,359.6 L384.8,358.7 L385.6,361.3 L386.4,363.8 L387.2,362.5 L388.0,357.4 L388.8,358.6 L389.6,359.1 L390.4,358.9 L391.2,360.2 L392.0,357.1 L392.8,357.1 L393.6,358.5 L394.4,358.4 L395.2,358.3 L396.0,361.5 L396.8,359.6 L397.6,357.5 L398.4,358.1 L399.2,358.1 L400.0,359.7 L400.8,358.3 L401.6,360.8 L402.4,358.8 L403.2,361.6 L404.0,357.0 L404.8,360.6 L405.6,359.7 L406.4,365.4 L407.2,364.5 L408.0,358.3 L408.8,360.4 L409.6,357.4 L410.4,356.8 L411.2,358.6 L412.0,359.8 L412.8,361.4 L413.6,361.2 L414.4,361.0 L415.2,357.2 L416.0,363.8 L416.8,358.7 L417.6,357.6 L418.4,361.0 L419.2,359.7 L420.0,358.3 L420.8,359.2 L421.6,358.5 L422.4,359.3 L423.2,359.9 L424.0,359.7 L424.8,363.6 L425.6,358.4 L426.4,359.9 L427.2,361.0 L428.0,358.1 L428.8,360.3 L429.6,359.1 L430.4,362.7 L431.2,358.7 L432.0,363.1 L432.8,356.5 L433.6,359.0 L434.4,357.0 L435.2,358.6 L436.0,360.7 L436.8,359.2 L437.6,359.8 L438.4,358.9 L439.2,363.0 L440.0,357.4 L440.8,358.9 L441.6,361.3 L442.4,358.1 L443.2,360.5 L444.0,359.2 L444.8,360.1 L445.6,361.6 L446.4,357.8 L447.2,359.4 L448.0,358.3 L448.8,359.2 L449.6,357.4 L450.4,360.3 L451.2,359.5 L452.0,359.2 L452.8,358.1 L453.6,361.0 L454.4,357.1 L455.2,356.7 L456.0,360.6 L456.8,365.3 L457.6,357.4 L458.4,358.2 L459.2,359.2 L460.0,360.3 L460.8,362.3 L461.6,359.5 L462.4,364.1 L463.2,358.6 L464.0,358.2 L464.8,357.2 L465.6,358.8 L466.4,360.1 L467.2,358.8 L468.0,359.3 L468.8,361.3 L469.6,359.1 L470.4,363.0 L471.2,361.5 L472.0,358.5 L472.8,356.8 L473.6,358.4 L474.4,358.4 L475.2,360.8 L476.0,358.6 L476.8,361.8 L477.6,359.7 L478.4,359.7 L479.2,365.7 L480.0,359.8 L480.8,356.6 L481.6,358.5 L482.4,358.5 L483.2,359.1 L484.0,361.0 L484.8,359.0 L485.6,363.6 L486.4,360.5 L487.2,358.6 L488.0,360.0 L488.8,358.6 L489.6,360.1 L490.4,359.9 L491.2,358.8 L492.0,357.7 L492.8,358.7 L493.6,359.7 L494.4,360.6 L495.2,358.5 L496.0,356.8 L496.8,358.5" fill="none" stroke="#000" stroke-width="1.5" stroke-linejoin="round" />
<path d="M322,343 L336.5,342 L336.5,364 L322,364 Z" fill="#000"/>
<path d="M322.0,342.4 L322.8,344.6 L323.6,344.1 L324.4,340.4 L325.2,343.4 L326.0,340.6 L326.8,346.9 L327.6,341.3 L328.4,338.0 L329.2,341.5 L330.0,342.7 L330.8,344.5 L331.6,347.4 L332.4,339.9 L333.2,343.9 L334.0,339.6 L334.8,344.6 L335.6,343.5 L336.4,343.0" fill="none" stroke="#000" stroke-width="1.5" stroke-linejoin="round" />
<path d="M322.0,344.3 L322.8,346.6 L323.6,348.4 L324.4,343.1 L325.2,347.2 L326.0,344.5 L326.8,348.0 L327.6,346.2 L328.4,347.4 L329.2,343.4 L330.0,348.6 L330.8,351.5 L331.6,346.2 L332.4,345.8 L333.2,346.7 L334.0,343.3 L334.8,346.3 L335.6,346.5 L336.4,343.4" fill="none" stroke="#000" stroke-width="1.5" stroke-linejoin="round" />
<path d="M322.0,350.6 L322.8,349.3 L323.6,348.8 L324.4,348.5 L325.2,348.1 L326.0,349.5 L326.8,347.4 L327.6,352.1 L328.4,350.9 L329.2,349.1 L330.0,350.5 L330.8,347.1 L331.6,346.9 L332.4,350.7 L333.2,350.4 L334.0,346.8 L334.8,346.1 L335.6,350.6 L336.4,350.6" fill="none" stroke="#000" stroke-width="1.5" stroke-linejoin="round" />
<path d="M322.0,353.8 L322.8,355.8 L323.6,354.8 L324.4,349.2 L325.2,357.4 L326.0,353.6 L326.8,347.3 L327.6,354.7 L328.4,356.9 L329.2,350.9 L330.0,353.6 L330.8,349.1 L331.6,351.1 L332.4,355.8 L333.2,356.9 L334.0,353.1 L334.8,357.4 L335.6,350.5 L336.4,354.6" fill="none" stroke="#000" stroke-width="1.5" stroke-linejoin="round" />
<path d="M322.0,359.3 L322.8,358.6 L323.6,358.4 L324.4,357.4 L325.2,355.8 L326.0,356.3 L326.8,356.6 L327.6,358.0 L328.4,359.8 L329.2,355.2 L330.0,354.7 L330.8,357.7 L331.6,358.7 L332.4,360.0 L333.2,357.4 L334.0,356.0 L334.8,359.0 L335.6,359.4 L336.4,358.9" fill="none" stroke="#000" stroke-width="1.5" stroke-linejoin="round" />
<path d="M322.0,366.5 L322.8,362.6 L323.6,360.3 L324.4,356.9 L325.2,362.6 L326.0,358.4 L326.8,360.5 L327.6,360.1 L328.4,358.6 L329.2,362.6 L330.0,361.2 L330.8,362.5 L331.6,360.8 L332.4,361.3 L333.2,358.3 L334.0,360.6 L334.8,360.7 L335.6,362.3 L336.4,361.7" fill="none" stroke="#000" stroke-width="1.5" stroke-linejoin="round" />
<path d="M322.0,362.6 L322.8,365.7 L323.6,363.1 L324.4,365.7 L325.2,365.1 L326.0,365.0 L326.8,367.7 L327.6,368.0 L328.4,364.2 L329.2,365.6 L330.0,367.6 L330.8,364.3 L331.6,363.5 L332.4,365.3 L333.2,367.7 L334.0,363.6 L334.8,365.9 L335.6,363.9 L336.4,365.7" fill="none" stroke="#000" stroke-width="1.5" stroke-linejoin="round" />
<path d="M322.0,366.4 L322.8,371.9 L323.6,365.6 L324.4,363.8 L325.2,364.1 L326.0,369.3 L326.8,363.8 L327.6,366.2 L328.4,364.6 L329.2,364.6 L330.0,362.8 L330.8,362.8 L331.6,364.2 L332.4,364.7 L333.2,363.4 L334.0,362.2 L334.8,365.5 L335.6,364.8 L336.4,363.7" fill="none" stroke="#000" stroke-width="1.5" stroke-linejoin="round" />
<path d="M500.5,346 L514.5,344 L514.5,359 L500.5,360 Z" fill="#000"/>
<path d="M500.5,343.7 L501.3,336.4 L502.1,340.4 L502.9,341.1 L503.7,342.1 L504.5,339.7 L505.3,342.7 L506.1,339.9 L506.9,338.2 L507.7,340.2 L508.5,344.1 L509.3,342.2 L510.1,340.4 L510.9,343.2 L511.7,342.8 L512.5,341.6 L513.3,340.1 L514.1,342.7 L514.9,342.8" fill="none" stroke="#000" stroke-width="1.6" stroke-linejoin="round" />
<path d="M500.5,344.3 L501.3,343.9 L502.1,346.7 L502.9,350.8 L503.7,345.3 L504.5,348.5 L505.3,346.1 L506.1,344.3 L506.9,349.0 L507.7,345.6 L508.5,346.2 L509.3,346.8 L510.1,346.6 L510.9,344.8 L511.7,343.0 L512.5,347.5 L513.3,340.7 L514.1,347.7 L514.9,344.7" fill="none" stroke="#000" stroke-width="1.6" stroke-linejoin="round" />
<path d="M500.5,349.5 L501.3,350.9 L502.1,348.4 L502.9,354.5 L503.7,350.5 L504.5,349.6 L505.3,354.6 L506.1,347.9 L506.9,354.3 L507.7,351.9 L508.5,350.3 L509.3,351.7 L510.1,349.5 L510.9,354.1 L511.7,352.6 L512.5,352.3 L513.3,350.3 L514.1,349.4 L514.9,353.2" fill="none" stroke="#000" stroke-width="1.6" stroke-linejoin="round" />
<path d="M500.5,356.6 L501.3,357.5 L502.1,356.2 L502.9,357.4 L503.7,355.9 L504.5,355.2 L505.3,356.4 L506.1,351.9 L506.9,356.1 L507.7,355.6 L508.5,350.7 L509.3,353.7 L510.1,352.1 L510.9,357.4 L511.7,359.1 L512.5,349.2 L513.3,354.1 L514.1,353.7 L514.9,355.6" fill="none" stroke="#000" stroke-width="1.6" stroke-linejoin="round" />
<path d="M500.5,357.0 L501.3,360.7 L502.1,361.4 L502.9,356.2 L503.7,360.5 L504.5,361.3 L505.3,359.9 L506.1,356.3 L506.9,355.0 L507.7,355.5 L508.5,358.1 L509.3,359.4 L510.1,359.7 L510.9,360.5 L511.7,360.8 L512.5,357.7 L513.3,358.7 L514.1,359.9 L514.9,362.2" fill="none" stroke="#000" stroke-width="1.6" stroke-linejoin="round" />
<path d="M508.5,345 L510.5,336 L512,334.5 L513.5,344" fill="none" stroke="#000" stroke-width="1.6" stroke-linejoin="round" />
<path d="M340.0,262.1 L340.5,266.6 L341.0,267.9 L341.5,270.9 L342.0,271.4 L342.5,267.5 L343.0,271.6 L343.5,271.8 L344.0,274.2 L344.5,271.1 L345.0,273.7 L345.5,273.4 L346.0,271.4 L346.5,270.5 L347.0,268.6 L347.5,273.3 L348.0,277.3 L348.5,277.5 L349.0,276.0 L349.5,277.3 L350.0,279.9 L350.5,279.9 L351.0,280.8 L351.5,279.7 L352.0,279.2 L352.5,276.1 L353.0,275.5 L353.5,278.6 L354.0,284.2 L354.5,281.9 L355.0,283.1 L355.5,282.7 L356.0,284.3 L356.5,285.5 L357.0,286.3 L357.5,288.2 L358.0,285.8 L358.5,287.8 L359.0,282.6 L359.5,281.8 L360.0,279.4 L360.5,284.7 L361.0,288.6 L361.5,288.8 L362.0,287.6 L362.5,290.6 L363.0,290.7 L363.5,291.0 L364.0,291.7 L364.5,291.6 L365.0,293.6 L365.5,291.9 L366.0,293.0 L366.5,291.0 L367.0,288.0 L367.5,289.8 L368.0,293.4 L368.5,294.9 L369.0,295.1 L369.5,296.7 L370.0,296.3 L370.5,295.7 L371.0,296.8 L371.5,297.4 L372.0,297.3 L372.5,298.0 L373.0,294.9 L373.5,293.3 L374.0,296.3 L374.5,298.9 L375.0,300.1 L375.5,300.6 L376.0,300.7 L376.5,302.3 L377.0,299.8 L377.5,301.0 L378.0,300.4 L378.5,300.8 L379.0,298.2 L379.5,293.8 L380.0,293.7 L380.5,298.6 L381.0,302.7 L381.5,303.0 L382.0,303.5 L382.5,305.1 L383.0,304.3 L383.5,304.5 L384.0,304.3 L384.5,305.4 L385.0,305.6 L385.5,306.9 L386.0,303.4 L386.5,302.5 L387.0,305.0 L387.5,308.3 L388.0,308.9 L388.5,308.1 L389.0,309.0 L389.5,307.0 L390.0,306.8 L390.5,306.6 L391.0,306.9 L391.5,307.3 L392.0,306.5 L392.5,305.3 L393.0,303.1 L393.5,306.0 L394.0,307.4 L394.5,309.0 L395.0,309.2 L395.5,308.3 L396.0,308.6 L396.5,309.6 L397.0,308.2 L397.5,309.0 L398.0,310.3 L398.5,309.8 L399.0,308.0 L399.5,304.7 L400.0,303.5 L400.5,310.3 L401.0,311.8 L401.5,313.9 L402.0,312.2 L402.5,312.4 L403.0,310.5 L403.5,312.0 L404.0,311.0 L404.5,313.6 L405.0,307.6 L405.5,306.0 L406.0,304.8 L406.5,310.1 L407.0,314.1 L407.5,313.0 L408.0,314.6 L408.5,315.7 L409.0,314.6 L409.5,316.3 L410.0,315.8 L410.5,316.5 L411.0,316.4 L411.5,317.5 L412.0,314.2 L412.5,315.3 L413.0,316.9 L413.5,317.8 L414.0,318.9 L414.5,318.0 L415.0,316.8 L415.5,317.3 L416.0,317.8 L416.5,317.8 L417.0,317.3 L417.5,315.2 L418.0,307.9 L418.5,312.9 L419.0,316.8 L419.5,316.2 L420.0,316.2 L420.5,316.5 L421.0,317.8 L421.5,318.8 L422.0,317.7 L422.5,318.7 L423.0,319.6 L423.5,317.1 L424.0,317.2 L424.5,318.2 L425.0,319.8 L425.5,321.0 L426.0,320.4 L426.5,320.0 L427.0,321.0 L427.5,322.9 L428.0,322.1 L428.5,323.6 L429.0,321.4 L429.5,321.2 L430.0,316.1 L430.5,312.7 L431.0,317.5 L431.5,320.7 L432.0,321.1 L432.5,322.1 L433.0,321.2 L433.5,321.3 L434.0,318.0 L434.5,320.1 L435.0,321.5 L435.5,321.5 L436.0,320.4 L436.5,318.2 L437.0,318.1 L437.5,322.5 L438.0,321.9 L438.5,320.1 L439.0,321.0 L439.5,322.3 L440.0,321.9 L440.5,322.8 L441.0,323.9 L441.5,323.6 L442.0,322.4 L442.5,322.7 L443.0,321.7 L443.5,321.4 L444.0,323.6 L444.5,323.9 L445.0,324.5 L445.5,324.7 L446.0,324.6 L446.5,327.9 L447.0,325.0 L447.5,324.8 L448.0,326.3 L448.5,325.6 L449.0,324.2 L449.5,324.0 L450.0,320.6 L450.5,318.3 L451.0,322.1 L451.5,325.8 L452.0,327.4 L452.5,328.1 L453.0,327.0 L453.5,327.1 L454.0,328.2 L454.5,326.6 L455.0,325.9 L455.5,328.3 L456.0,324.7 L456.5,318.3 L457.0,314.1 L457.5,322.0 L458.0,327.1 L458.5,324.7 L459.0,325.9 L459.5,326.9 L460.0,324.7 L460.5,326.8 L461.0,326.9 L461.5,326.4 L462.0,326.1 L462.5,324.4 L463.0,320.3 L463.5,319.9 L464.0,325.3 L464.5,328.2 L465.0,326.6 L465.5,327.5 L466.0,326.3 L466.5,327.4 L467.0,328.0 L467.5,327.7 L468.0,328.7 L468.5,329.8 L469.0,325.4 L469.5,322.5 L470.0,321.0 L470.5,324.5 L471.0,328.1 L471.5,328.0 L472.0,327.4 L472.5,328.2 L473.0,326.1 L473.5,328.4 L474.0,327.8 L474.5,326.9 L475.0,327.2 L475.5,325.6 L476.0,324.2 L476.5,324.0 L477.0,327.3 L477.5,327.5 L478.0,326.9 L478.5,326.8 L479.0,329.5 L479.5,328.3 L480.0,328.6 L480.5,329.0 L481.0,330.2 L481.5,329.1 L482.0,326.3 L482.5,325.1 L483.0,325.9 L483.5,327.3 L484.0,326.8 L484.5,328.8 L485.0,326.3 L485.5,327.4 L486.0,328.9 L486.5,330.2 L487.0,330.5 L487.5,330.5 L488.0,330.1 L488.5,328.1 L489.0,327.3 L489.5,327.7 L490.0,329.6 L490.5,329.6 L491.0,330.6 L491.5,330.3 L492.0,329.7 L492.5,328.9 L493.0,331.0 L493.5,329.6 L494.0,330.4 L494.5,329.7 L495.0,328.3 L495.5,324.6 L496.0,324.5 L496.5,328.7 L497.0,329.7" fill="none" stroke="#000" stroke-width="1.7" stroke-linejoin="round" />
<path d="M340.0,292.7 L340.5,291.4 L341.0,287.5 L341.5,286.6 L342.0,288.4 L342.5,291.7 L343.0,292.3 L343.5,296.7 L344.0,295.8 L344.5,297.1 L345.0,295.6 L345.5,298.1 L346.0,297.3 L346.5,298.3 L347.0,292.6 L347.5,290.5 L348.0,295.1 L348.5,296.6 L349.0,298.6 L349.5,298.3 L350.0,298.2 L350.5,298.6 L351.0,297.9 L351.5,297.8 L352.0,299.2 L352.5,298.7 L353.0,297.6 L353.5,290.1 L354.0,292.7 L354.5,298.1 L355.0,301.7 L355.5,300.7 L356.0,300.8 L356.5,300.7 L357.0,301.0 L357.5,299.9 L358.0,301.4 L358.5,303.8 L359.0,301.1 L359.5,297.2 L360.0,294.9 L360.5,297.9 L361.0,300.8 L361.5,301.4 L362.0,300.8 L362.5,302.8 L363.0,302.4 L363.5,301.6 L364.0,302.5 L364.5,304.4 L365.0,304.5 L365.5,303.5 L366.0,301.2 L366.5,297.3 L367.0,302.7 L367.5,304.7 L368.0,304.6 L368.5,305.8 L369.0,306.7 L369.5,306.0 L370.0,306.2 L370.5,306.2 L371.0,306.9 L371.5,305.5 L372.0,307.5 L372.5,306.0 L373.0,305.9 L373.5,305.2 L374.0,307.8 L374.5,309.3 L375.0,309.7 L375.5,307.3 L376.0,306.4 L376.5,308.9 L377.0,308.5 L377.5,308.1 L378.0,309.5 L378.5,308.1 L379.0,304.9 L379.5,302.5 L380.0,304.0 L380.5,310.6 L381.0,311.6 L381.5,309.9 L382.0,308.1 L382.5,308.9 L383.0,309.9 L383.5,309.4 L384.0,310.8 L384.5,310.1 L385.0,311.0 L385.5,308.3 L386.0,306.2 L386.5,307.7 L387.0,308.5 L387.5,313.5 L388.0,315.0 L388.5,312.8 L389.0,311.5 L389.5,311.5 L390.0,312.0 L390.5,313.4 L391.0,313.3 L391.5,313.6 L392.0,312.9 L392.5,312.0 L393.0,311.4 L393.5,310.8 L394.0,311.1 L394.5,312.3 L395.0,313.2 L395.5,312.5 L396.0,312.8 L396.5,312.3 L397.0,313.9 L397.5,314.2 L398.0,313.8 L398.5,316.6 L399.0,316.1 L399.5,311.0 L400.0,307.2 L400.5,309.0 L401.0,313.5 L401.5,313.9 L402.0,314.1 L402.5,314.0 L403.0,313.4 L403.5,311.4 L404.0,313.7 L404.5,314.0 L405.0,314.3 L405.5,311.3 L406.0,312.8 L406.5,313.5 L407.0,313.9 L407.5,315.7 L408.0,317.7 L408.5,318.3 L409.0,317.4 L409.5,317.2 L410.0,317.1 L410.5,316.2 L411.0,317.0 L411.5,317.3 L412.0,315.7 L412.5,315.6 L413.0,312.1 L413.5,313.9 L414.0,315.0 L414.5,315.3 L415.0,315.9 L415.5,315.2 L416.0,317.9 L416.5,317.2 L417.0,317.2 L417.5,317.5 L418.0,317.9 L418.5,318.5 L419.0,319.3 L419.5,314.0 L420.0,314.1 L420.5,312.9 L421.0,316.2 L421.5,317.8 L422.0,319.8 L422.5,318.2 L423.0,317.5 L423.5,318.6 L424.0,317.5 L424.5,320.5 L425.0,320.3 L425.5,319.2 L426.0,315.5 L426.5,312.8 L427.0,311.2 L427.5,314.0 L428.0,319.3 L428.5,318.9 L429.0,319.9 L429.5,318.6 L430.0,319.7 L430.5,321.0 L431.0,318.5 L431.5,319.4 L432.0,321.5 L432.5,318.7 L433.0,315.9 L433.5,317.6 L434.0,319.4 L434.5,320.2 L435.0,321.1 L435.5,322.4 L436.0,320.3 L436.5,321.2 L437.0,321.3 L437.5,318.9 L438.0,317.9 L438.5,318.6 L439.0,316.6 L439.5,310.9 L440.0,313.7 L440.5,318.7 L441.0,322.1 L441.5,320.6 L442.0,321.4 L442.5,320.6 L443.0,319.6 L443.5,320.7 L444.0,321.1 L444.5,321.4 L445.0,323.2 L445.5,316.9 L446.0,314.1 L446.5,315.7 L447.0,320.2 L447.5,320.9 L448.0,322.4 L448.5,321.1 L449.0,321.0 L449.5,321.6 L450.0,321.1 L450.5,321.6 L451.0,321.1 L451.5,320.8 L452.0,319.2 L452.5,319.4 L453.0,321.5 L453.5,322.0 L454.0,320.9 L454.5,321.9 L455.0,322.8 L455.5,322.2 L456.0,321.6 L456.5,321.5 L457.0,321.9 L457.5,321.5 L458.0,320.1 L458.5,318.3 L459.0,319.8 L459.5,321.1 L460.0,321.9 L460.5,322.5 L461.0,323.8 L461.5,323.0 L462.0,324.4 L462.5,324.4 L463.0,323.7 L463.5,322.8 L464.0,322.0 L464.5,322.2 L465.0,318.0 L465.5,319.5 L466.0,322.3 L466.5,321.2 L467.0,322.7 L467.5,322.4 L468.0,321.8 L468.5,320.3 L469.0,322.8 L469.5,322.8 L470.0,325.0 L470.5,324.6 L471.0,321.2 L471.5,317.9 L472.0,314.5 L472.5,318.2 L473.0,323.7 L473.5,323.9 L474.0,322.4 L474.5,322.3 L475.0,323.7 L475.5,321.7 L476.0,322.8 L476.5,324.4 L477.0,323.9 L477.5,321.8 L478.0,319.0 L478.5,319.0 L479.0,323.8 L479.5,323.2 L480.0,322.2 L480.5,322.1 L481.0,323.0 L481.5,321.3 L482.0,320.9 L482.5,322.1 L483.0,322.9 L483.5,322.5 L484.0,322.2 L484.5,319.5 L485.0,321.8 L485.5,322.6 L486.0,324.2 L486.5,323.7 L487.0,324.0 L487.5,323.9 L488.0,321.5 L488.5,322.3 L489.0,322.7 L489.5,322.0 L490.0,323.9 L490.5,322.6 L491.0,320.7 L491.5,322.8 L492.0,322.9 L492.5,325.8 L493.0,323.0 L493.5,322.0 L494.0,323.1 L494.5,322.8 L495.0,322.4 L495.5,324.2 L496.0,322.7 L496.5,322.9 L497.0,322.0" fill="none" stroke="#000" stroke-width="1.7" stroke-linejoin="round" />
<path d="M340.0,277.8 L340.5,280.5 L341.0,281.4 L341.5,281.3 L342.0,280.7 L342.5,282.2 L343.0,280.7 L343.5,277.4 L344.0,273.7 L344.5,279.2 L345.0,285.9 L345.5,285.5 L346.0,286.9 L346.5,287.5 L347.0,288.1 L347.5,288.1 L348.0,288.1 L348.5,288.0 L349.0,290.3 L349.5,289.1 L350.0,287.0 L350.5,285.4 L351.0,285.7 L351.5,289.5 L352.0,289.9 L352.5,291.9 L353.0,293.4 L353.5,292.5 L354.0,293.6 L354.5,293.6 L355.0,293.6 L355.5,292.9 L356.0,294.1 L356.5,290.1 L357.0,285.2 L357.5,289.5 L358.0,293.1 L358.5,297.5 L359.0,295.5 L359.5,297.3 L360.0,298.4 L360.5,297.9 L361.0,298.2 L361.5,297.9 L362.0,298.5 L362.5,297.1 L363.0,297.8 L363.5,294.3 L364.0,295.3 L364.5,298.6 L365.0,299.6 L365.5,301.2 L366.0,301.3 L366.5,300.8 L367.0,300.8 L367.5,302.6 L368.0,300.9 L368.5,301.6 L369.0,303.2 L369.5,300.6 L370.0,297.5 L370.5,299.7 L371.0,303.2 L371.5,304.7 L372.0,306.7 L372.5,306.7 L373.0,305.7 L373.5,307.1 L374.0,307.6 L374.5,308.1 L375.0,307.7 L375.5,307.7 L376.0,304.0 L376.5,301.5 L377.0,303.1 L377.5,307.7 L378.0,308.9 L378.5,310.0 L379.0,308.4 L379.5,309.4 L380.0,309.9 L380.5,310.4 L381.0,310.1 L381.5,311.6 L382.0,309.1 L382.5,309.5 L383.0,309.2 L383.5,309.7 L384.0,312.1 L384.5,311.7 L385.0,310.6 L385.5,311.6 L386.0,313.7 L386.5,312.0 L387.0,312.6 L387.5,312.8 L388.0,314.1 L388.5,313.3 L389.0,307.9 L389.5,309.2 L390.0,312.4 L390.5,314.4 L391.0,315.5 L391.5,314.6 L392.0,314.4 L392.5,316.9 L393.0,314.6 L393.5,316.6 L394.0,316.9 L394.5,317.0 L395.0,317.9 L395.5,315.3 L396.0,311.0 L396.5,308.6 L397.0,313.0 L397.5,316.8 L398.0,317.1 L398.5,319.3 L399.0,317.3 L399.5,319.7 L400.0,318.9 L400.5,319.2 L401.0,318.6 L401.5,320.2 L402.0,314.9 L402.5,310.7 L403.0,314.9 L403.5,318.4 L404.0,321.1 L404.5,319.5 L405.0,320.0 L405.5,320.1 L406.0,321.0 L406.5,317.7 L407.0,319.2 L407.5,318.4 L408.0,318.6 L408.5,319.0 L409.0,317.9 L409.5,316.7 L410.0,316.8 L410.5,319.1 L411.0,321.0 L411.5,319.6 L412.0,319.2 L412.5,320.5 L413.0,321.0 L413.5,321.9 L414.0,320.9 L414.5,321.3 L415.0,321.2 L415.5,321.3 L416.0,318.0 L416.5,314.8 L417.0,319.3 L417.5,322.2 L418.0,320.8 L418.5,320.8 L419.0,320.6 L419.5,322.0 L420.0,321.8 L420.5,321.9 L421.0,322.9 L421.5,323.0 L422.0,319.1 L422.5,315.3 L423.0,316.1 L423.5,319.8 L424.0,322.7 L424.5,321.6 L425.0,321.2 L425.5,322.4 L426.0,321.4 L426.5,321.5 L427.0,319.6 L427.5,323.5 L428.0,323.5 L428.5,321.3 L429.0,316.2 L429.5,319.2 L430.0,323.6 L430.5,322.6 L431.0,322.6 L431.5,323.2 L432.0,322.1 L432.5,322.9 L433.0,322.9 L433.5,323.2 L434.0,323.9 L434.5,324.1 L435.0,323.7 L435.5,320.9 L436.0,318.5 L436.5,317.7 L437.0,322.0 L437.5,321.0 L438.0,322.2 L438.5,323.0 L439.0,322.7 L439.5,322.0 L440.0,323.6 L440.5,324.5 L441.0,324.7 L441.5,323.1 L442.0,324.0 L442.5,325.0 L443.0,323.3 L443.5,325.7 L444.0,325.2 L444.5,325.1 L445.0,323.7 L445.5,326.5 L446.0,323.7 L446.5,324.1 L447.0,325.2 L447.5,326.2 L448.0,326.2 L448.5,325.7 L449.0,322.9 L449.5,320.9 L450.0,323.9 L450.5,326.2 L451.0,327.2 L451.5,328.5 L452.0,329.1 L452.5,328.0 L453.0,327.9 L453.5,327.2 L454.0,327.3 L454.5,326.7 L455.0,325.8 L455.5,323.2 L456.0,318.6 L456.5,319.7 L457.0,324.8 L457.5,325.7 L458.0,327.2 L458.5,327.8 L459.0,326.2 L459.5,328.3 L460.0,327.1 L460.5,327.7 L461.0,328.7 L461.5,326.6 L462.0,325.8 L462.5,325.6 L463.0,327.9 L463.5,325.3 L464.0,325.0 L464.5,327.3 L465.0,324.9 L465.5,327.3 L466.0,326.3 L466.5,326.7 L467.0,326.4 L467.5,325.0 L468.0,322.0 L468.5,320.5 L469.0,322.3 L469.5,326.9 L470.0,326.7 L470.5,326.9 L471.0,327.1 L471.5,327.5 L472.0,327.3 L472.5,327.8 L473.0,327.7 L473.5,327.3 L474.0,327.0 L474.5,326.9 L475.0,324.9 L475.5,323.3 L476.0,325.1 L476.5,326.4 L477.0,326.9 L477.5,326.5 L478.0,326.6 L478.5,328.1 L479.0,326.2 L479.5,327.0 L480.0,327.1 L480.5,326.4 L481.0,325.7 L481.5,324.2 L482.0,325.1 L482.5,323.8 L483.0,326.5 L483.5,327.3 L484.0,326.4 L484.5,326.9 L485.0,327.4 L485.5,327.5 L486.0,326.9 L486.5,327.3 L487.0,328.0 L487.5,327.5 L488.0,323.5 L488.5,323.1 L489.0,328.1 L489.5,329.6 L490.0,330.1 L490.5,330.2 L491.0,329.9 L491.5,330.1 L492.0,331.1 L492.5,330.7 L493.0,329.8 L493.5,330.0 L494.0,326.5 L494.5,322.6 L495.0,319.0 L495.5,322.6 L496.0,326.8 L496.5,328.6 L497.0,326.7" fill="none" stroke="#000" stroke-width="1.7" stroke-linejoin="round" />
<path d="M340.0,298.9 L340.5,300.9 L341.0,302.2 L341.5,301.5 L342.0,304.3 L342.5,302.9 L343.0,302.3 L343.5,303.7 L344.0,301.4 L344.5,303.6 L345.0,304.8 L345.5,302.5 L346.0,302.3 L346.5,301.9 L347.0,303.6 L347.5,303.3 L348.0,305.2 L348.5,305.6 L349.0,305.1 L349.5,305.4 L350.0,304.9 L350.5,305.4 L351.0,305.4 L351.5,306.8 L352.0,304.9 L352.5,299.9 L353.0,296.4 L353.5,301.9 L354.0,305.2 L354.5,308.6 L355.0,308.0 L355.5,308.2 L356.0,307.5 L356.5,309.3 L357.0,309.2 L357.5,309.3 L358.0,310.1 L358.5,310.9 L359.0,308.6 L359.5,307.0 L360.0,306.9 L360.5,310.2 L361.0,308.9 L361.5,309.6 L362.0,308.5 L362.5,309.0 L363.0,310.8 L363.5,311.2 L364.0,311.0 L364.5,311.4 L365.0,309.1 L365.5,305.8 L366.0,308.3 L366.5,311.8 L367.0,313.9 L367.5,313.2 L368.0,314.1 L368.5,312.6 L369.0,313.6 L369.5,313.2 L370.0,313.4 L370.5,314.0 L371.0,314.1 L371.5,313.2 L372.0,312.0 L372.5,313.3 L373.0,315.5 L373.5,315.9 L374.0,316.0 L374.5,314.8 L375.0,315.6 L375.5,315.8 L376.0,314.7 L376.5,315.7 L377.0,316.6 L377.5,315.2 L378.0,313.9 L378.5,313.2 L379.0,315.1 L379.5,317.0 L380.0,316.8 L380.5,315.8 L381.0,316.2 L381.5,316.7 L382.0,317.1 L382.5,317.0 L383.0,315.9 L383.5,317.1 L384.0,315.1 L384.5,313.6 L385.0,314.2 L385.5,317.6 L386.0,318.2 L386.5,319.1 L387.0,319.3 L387.5,319.9 L388.0,319.5 L388.5,318.8 L389.0,319.0 L389.5,319.0 L390.0,318.0 L390.5,316.4 L391.0,315.3 L391.5,316.2 L392.0,317.4 L392.5,318.7 L393.0,320.3 L393.5,319.3 L394.0,318.1 L394.5,319.3 L395.0,317.4 L395.5,320.4 L396.0,321.4 L396.5,320.4 L397.0,318.7 L397.5,316.2 L398.0,311.2 L398.5,316.5 L399.0,317.5 L399.5,321.4 L400.0,318.7 L400.5,320.3 L401.0,320.7 L401.5,321.5 L402.0,322.0 L402.5,320.1 L403.0,320.6 L403.5,319.6 L404.0,315.8 L404.5,316.5 L405.0,319.2 L405.5,319.5 L406.0,322.5 L406.5,322.6 L407.0,322.9 L407.5,323.1 L408.0,323.3 L408.5,323.2 L409.0,324.7 L409.5,323.0 L410.0,321.8 L410.5,318.6 L411.0,316.2 L411.5,321.7 L412.0,323.4 L412.5,322.8 L413.0,323.1 L413.5,323.2 L414.0,323.3 L414.5,322.6 L415.0,322.0 L415.5,322.1 L416.0,322.0 L416.5,321.3 L417.0,316.1 L417.5,317.9 L418.0,320.0 L418.5,323.1 L419.0,322.7 L419.5,324.2 L420.0,322.4 L420.5,325.8 L421.0,324.6 L421.5,324.7 L422.0,324.2 L422.5,324.3 L423.0,323.7 L423.5,319.8 L424.0,320.5 L424.5,322.0 L425.0,323.7 L425.5,322.2 L426.0,323.6 L426.5,322.7 L427.0,323.7 L427.5,323.2 L428.0,323.2 L428.5,322.3 L429.0,322.5 L429.5,320.9 L430.0,322.7 L430.5,326.0 L431.0,327.3 L431.5,324.9 L432.0,325.3 L432.5,325.3 L433.0,326.0 L433.5,325.5 L434.0,325.1 L434.5,324.8 L435.0,327.0 L435.5,327.5 L436.0,324.3 L436.5,317.9 L437.0,317.1 L437.5,322.8 L438.0,324.8 L438.5,325.8 L439.0,327.2 L439.5,324.6 L440.0,325.9 L440.5,327.0 L441.0,326.2 L441.5,325.0 L442.0,324.0 L442.5,322.7 L443.0,321.2 L443.5,318.8 L444.0,323.2 L444.5,326.9 L445.0,325.3 L445.5,325.4 L446.0,326.2 L446.5,326.0 L447.0,326.1 L447.5,326.1 L448.0,326.6 L448.5,327.9 L449.0,325.5 L449.5,324.6 L450.0,323.5 L450.5,323.2 L451.0,324.0 L451.5,325.5 L452.0,327.9 L452.5,326.6 L453.0,326.2 L453.5,327.5 L454.0,324.6 L454.5,325.9 L455.0,327.6 L455.5,324.9 L456.0,321.9 L456.5,324.5 L457.0,325.6 L457.5,324.3 L458.0,326.1 L458.5,326.5 L459.0,327.0 L459.5,328.5 L460.0,326.4 L460.5,326.8 L461.0,326.5 L461.5,327.1 L462.0,324.6 L462.5,318.3 L463.0,323.3 L463.5,325.9 L464.0,326.9 L464.5,326.6 L465.0,327.6 L465.5,328.1 L466.0,327.6 L466.5,327.4 L467.0,326.2 L467.5,325.3 L468.0,324.1 L468.5,322.2 L469.0,319.2 L469.5,321.4 L470.0,324.2 L470.5,326.1 L471.0,325.9 L471.5,327.6 L472.0,328.0 L472.5,325.4 L473.0,327.3 L473.5,325.7 L474.0,329.7 L474.5,327.1 L475.0,325.5 L475.5,322.9 L476.0,323.3 L476.5,326.9 L477.0,327.5 L477.5,327.1 L478.0,327.0 L478.5,327.8 L479.0,328.7 L479.5,328.4 L480.0,328.8 L480.5,328.2 L481.0,326.1 L481.5,323.3 L482.0,323.9 L482.5,327.4 L483.0,328.6 L483.5,327.1 L484.0,328.9 L484.5,328.0 L485.0,328.9 L485.5,329.1 L486.0,329.8 L486.5,328.9 L487.0,326.0 L487.5,319.8 L488.0,320.6 L488.5,326.2 L489.0,328.0 L489.5,328.6 L490.0,328.4 L490.5,328.5 L491.0,327.9 L491.5,328.5 L492.0,327.4 L492.5,328.2 L493.0,327.3 L493.5,324.5 L494.0,319.3 L494.5,319.3 L495.0,324.3 L495.5,326.5 L496.0,326.0 L496.5,326.6 L497.0,326.3" fill="none" stroke="#000" stroke-width="1.7" stroke-linejoin="round" />
<path d="M340.0,290.8 L340.5,293.8 L341.0,292.6 L341.5,295.0 L342.0,296.2 L342.5,295.6 L343.0,291.2 L343.5,287.5 L344.0,292.9 L344.5,296.9 L345.0,295.8 L345.5,298.6 L346.0,297.6 L346.5,299.7 L347.0,300.3 L347.5,300.3 L348.0,300.1 L348.5,300.9 L349.0,301.0 L349.5,299.5 L350.0,296.0 L350.5,293.6 L351.0,299.4 L351.5,304.7 L352.0,305.5 L352.5,305.5 L353.0,306.6 L353.5,307.5 L354.0,308.2 L354.5,308.1 L355.0,305.6 L355.5,306.5 L356.0,305.5 L356.5,302.0 L357.0,305.7 L357.5,307.9 L358.0,309.0 L358.5,307.7 L359.0,307.7 L359.5,310.7 L360.0,309.1 L360.5,311.3 L361.0,310.3 L361.5,311.4 L362.0,311.1 L362.5,309.0 L363.0,307.3 L363.5,311.6 L364.0,314.7 L364.5,314.3 L365.0,313.9 L365.5,316.4 L366.0,314.9 L366.5,316.5 L367.0,318.1 L367.5,317.1 L368.0,318.3 L368.5,318.2 L369.0,315.9 L369.5,313.7 L370.0,313.4 L370.5,317.0 L371.0,317.6 L371.5,319.5 L372.0,319.9 L372.5,320.4 L373.0,319.9 L373.5,320.0 L374.0,321.6 L374.5,320.8 L375.0,320.2 L375.5,319.7 L376.0,317.5 L376.5,317.4 L377.0,318.7 L377.5,320.5 L378.0,321.2 L378.5,322.2 L379.0,320.3 L379.5,321.8 L380.0,320.7 L380.5,321.0 L381.0,321.2 L381.5,322.7 L382.0,319.9 L382.5,317.2 L383.0,317.9 L383.5,321.6 L384.0,322.0 L384.5,323.3 L385.0,322.6 L385.5,323.9 L386.0,323.1 L386.5,323.3 L387.0,322.6 L387.5,322.6 L388.0,321.4 L388.5,317.8 L389.0,319.3 L389.5,323.2 L390.0,325.0 L390.5,325.3 L391.0,325.9 L391.5,325.0 L392.0,324.6 L392.5,324.7 L393.0,326.0 L393.5,324.7 L394.0,326.0 L394.5,324.7 L395.0,321.9 L395.5,323.8 L396.0,323.1 L396.5,325.8 L397.0,325.3 L397.5,325.6 L398.0,324.6 L398.5,325.7 L399.0,325.3 L399.5,327.1 L400.0,327.4 L400.5,328.6 L401.0,323.3 L401.5,320.4 L402.0,320.9 L402.5,327.7 L403.0,331.4 L403.5,331.0 L404.0,330.8 L404.5,330.2 L405.0,331.5 L405.5,332.5 L406.0,330.3 L406.5,329.0 L407.0,327.1 L407.5,322.6 L408.0,322.2 L408.5,324.7 L409.0,328.2 L409.5,328.8 L410.0,329.1 L410.5,329.1 L411.0,330.3 L411.5,331.0 L412.0,331.3 L412.5,330.7 L413.0,330.2 L413.5,330.4 L414.0,330.3 L414.5,330.3 L415.0,329.5 L415.5,330.6 L416.0,331.5 L416.5,331.2 L417.0,331.1 L417.5,330.8 L418.0,330.3 L418.5,330.2 L419.0,332.2 L419.5,330.0 L420.0,328.6 L420.5,325.6 L421.0,320.1 L421.5,324.6 L422.0,331.1 L422.5,331.2 L423.0,332.2 L423.5,330.7 L424.0,331.7 L424.5,331.0 L425.0,331.1 L425.5,330.7 L426.0,331.4 L426.5,328.0 L427.0,328.4 L427.5,329.8 L428.0,330.4 L428.5,333.6 L429.0,333.0 L429.5,334.0 L430.0,332.8 L430.5,331.9 L431.0,333.0 L431.5,332.2 L432.0,332.6 L432.5,332.0 L433.0,330.7 L433.5,328.0 L434.0,324.4 L434.5,327.4 L435.0,330.9 L435.5,333.5 L436.0,332.0 L436.5,334.2 L437.0,332.8 L437.5,332.1 L438.0,334.4 L438.5,331.6 L439.0,332.1 L439.5,332.8 L440.0,328.3 L440.5,327.3 L441.0,331.3 L441.5,336.3 L442.0,333.9 L442.5,335.3 L443.0,337.3 L443.5,335.7 L444.0,334.0 L444.5,334.2 L445.0,335.1 L445.5,332.5 L446.0,331.1 L446.5,328.7 L447.0,326.4 L447.5,331.8 L448.0,332.9 L448.5,334.0 L449.0,332.2 L449.5,333.1 L450.0,333.8 L450.5,332.7 L451.0,331.4 L451.5,333.0 L452.0,333.4 L452.5,334.0 L453.0,329.1 L453.5,325.2 L454.0,329.7 L454.5,333.9 L455.0,334.4 L455.5,335.0 L456.0,332.2 L456.5,334.0 L457.0,334.0 L457.5,332.8 L458.0,333.8 L458.5,333.5 L459.0,331.1 L459.5,326.6 L460.0,325.7 L460.5,331.4 L461.0,333.5 L461.5,335.0 L462.0,334.2 L462.5,334.5 L463.0,333.9 L463.5,332.7 L464.0,334.0 L464.5,332.4 L465.0,333.0 L465.5,331.8 L466.0,328.6 L466.5,330.2 L467.0,333.3 L467.5,332.8 L468.0,332.8 L468.5,332.3 L469.0,332.7 L469.5,333.5 L470.0,334.2 L470.5,334.6 L471.0,334.7 L471.5,334.5 L472.0,332.4 L472.5,333.0 L473.0,332.9 L473.5,333.2 L474.0,332.6 L474.5,333.3 L475.0,333.7 L475.5,333.2 L476.0,333.6 L476.5,333.2 L477.0,334.7 L477.5,335.0 L478.0,328.8 L478.5,327.4 L479.0,329.0 L479.5,333.3 L480.0,332.7 L480.5,333.1 L481.0,333.6 L481.5,334.9 L482.0,333.2 L482.5,333.9 L483.0,332.8 L483.5,332.3 L484.0,335.8 L484.5,331.5 L485.0,331.1 L485.5,332.9 L486.0,333.5 L486.5,333.8 L487.0,334.7 L487.5,333.2 L488.0,334.6 L488.5,334.7 L489.0,336.7 L489.5,337.3 L490.0,335.9 L490.5,335.5 L491.0,331.4 L491.5,328.6 L492.0,332.4 L492.5,334.7 L493.0,334.6 L493.5,332.1 L494.0,333.5 L494.5,333.7 L495.0,334.6 L495.5,334.4 L496.0,333.9 L496.5,332.4 L497.0,331.9" fill="none" stroke="#000" stroke-width="1.7" stroke-linejoin="round" />
<path d="M340.0,311.8 L340.5,310.4 L341.0,311.5 L341.5,312.4 L342.0,304.7 L342.5,301.9 L343.0,306.8 L343.5,313.6 L344.0,314.9 L344.5,315.6 L345.0,314.5 L345.5,314.4 L346.0,315.0 L346.5,317.1 L347.0,315.9 L347.5,316.1 L348.0,314.2 L348.5,311.0 L349.0,310.3 L349.5,315.4 L350.0,318.9 L350.5,318.5 L351.0,317.3 L351.5,317.3 L352.0,317.6 L352.5,317.2 L353.0,319.3 L353.5,319.0 L354.0,317.3 L354.5,318.4 L355.0,317.1 L355.5,314.9 L356.0,317.7 L356.5,317.8 L357.0,317.6 L357.5,319.0 L358.0,318.6 L358.5,317.4 L359.0,318.4 L359.5,318.0 L360.0,320.0 L360.5,319.2 L361.0,319.5 L361.5,317.2 L362.0,316.2 L362.5,315.1 L363.0,317.5 L363.5,321.5 L364.0,322.1 L364.5,322.6 L365.0,322.1 L365.5,321.4 L366.0,321.6 L366.5,322.6 L367.0,321.9 L367.5,323.5 L368.0,322.6 L368.5,318.2 L369.0,315.2 L369.5,320.2 L370.0,323.8 L370.5,323.0 L371.0,325.8 L371.5,322.8 L372.0,323.2 L372.5,323.5 L373.0,323.9 L373.5,324.8 L374.0,325.4 L374.5,324.1 L375.0,322.8 L375.5,323.8 L376.0,325.0 L376.5,325.2 L377.0,326.9 L377.5,326.6 L378.0,326.5 L378.5,326.4 L379.0,328.0 L379.5,326.1 L380.0,328.0 L380.5,325.1 L381.0,325.2 L381.5,321.7 L382.0,318.6 L382.5,323.3 L383.0,326.6 L383.5,326.9 L384.0,326.9 L384.5,327.3 L385.0,327.7 L385.5,326.8 L386.0,327.6 L386.5,326.7 L387.0,326.2 L387.5,323.6 L388.0,318.7 L388.5,323.8 L389.0,327.8 L389.5,327.4 L390.0,326.4 L390.5,327.9 L391.0,327.1 L391.5,326.3 L392.0,328.2 L392.5,327.8 L393.0,328.3 L393.5,323.2 L394.0,318.0 L394.5,321.1 L395.0,326.9 L395.5,328.2 L396.0,327.7 L396.5,328.7 L397.0,329.4 L397.5,330.8 L398.0,330.3 L398.5,329.3 L399.0,329.0 L399.5,328.6 L400.0,328.8 L400.5,325.2 L401.0,326.4 L401.5,329.0 L402.0,330.8 L402.5,330.6 L403.0,331.6 L403.5,331.2 L404.0,330.6 L404.5,329.9 L405.0,329.3 L405.5,331.4 L406.0,330.5 L406.5,331.0 L407.0,328.6 L407.5,327.5 L408.0,329.8 L408.5,331.3 L409.0,332.0 L409.5,331.3 L410.0,330.1 L410.5,329.3 L411.0,331.0 L411.5,330.4 L412.0,330.7 L412.5,331.3 L413.0,327.3 L413.5,327.3 L414.0,327.9 L414.5,331.9 L415.0,331.0 L415.5,331.0 L416.0,331.5 L416.5,331.7 L417.0,331.2 L417.5,333.3 L418.0,332.9 L418.5,332.4 L419.0,331.1 L419.5,328.4 L420.0,326.9 L420.5,330.8 L421.0,332.2 L421.5,333.2 L422.0,332.9 L422.5,333.0 L423.0,334.1 L423.5,331.6 L424.0,331.6 L424.5,331.3 L425.0,332.1 L425.5,330.4 L426.0,328.2 L426.5,330.0 L427.0,334.0 L427.5,332.5 L428.0,332.7 L428.5,334.1 L429.0,335.5 L429.5,334.9 L430.0,333.8 L430.5,334.1 L431.0,334.7 L431.5,333.9 L432.0,330.2 L432.5,326.9 L433.0,329.9 L433.5,331.7 L434.0,333.6 L434.5,333.9 L435.0,333.8 L435.5,333.1 L436.0,333.3 L436.5,332.5 L437.0,333.4 L437.5,334.3 L438.0,335.3 L438.5,334.6 L439.0,330.3 L439.5,328.9 L440.0,333.5 L440.5,334.7 L441.0,333.6 L441.5,333.8 L442.0,332.5 L442.5,333.3 L443.0,334.9 L443.5,333.9 L444.0,334.1 L444.5,332.9 L445.0,330.1 L445.5,327.4 L446.0,330.2 L446.5,333.6 L447.0,332.5 L447.5,332.5 L448.0,332.5 L448.5,332.2 L449.0,333.5 L449.5,334.0 L450.0,334.5 L450.5,332.6 L451.0,332.9 L451.5,330.5 L452.0,330.2 L452.5,332.0 L453.0,334.5 L453.5,335.9 L454.0,333.9 L454.5,334.1 L455.0,335.0 L455.5,334.9 L456.0,335.3 L456.5,334.7 L457.0,334.4 L457.5,330.7 L458.0,328.9 L458.5,330.3 L459.0,330.7 L459.5,333.7 L460.0,333.6 L460.5,334.3 L461.0,332.5 L461.5,333.4 L462.0,332.4 L462.5,333.4 L463.0,333.1 L463.5,332.0 L464.0,331.6 L464.5,332.8 L465.0,334.3 L465.5,333.2 L466.0,334.6 L466.5,333.7 L467.0,335.0 L467.5,333.9 L468.0,332.6 L468.5,333.8 L469.0,334.6 L469.5,331.9 L470.0,328.0 L470.5,326.6 L471.0,329.1 L471.5,332.0 L472.0,334.3 L472.5,333.9 L473.0,336.6 L473.5,335.8 L474.0,334.7 L474.5,335.3 L475.0,336.0 L475.5,336.4 L476.0,335.6 L476.5,334.8 L477.0,329.8 L477.5,327.1 L478.0,327.4 L478.5,332.0 L479.0,333.7 L479.5,333.3 L480.0,332.5 L480.5,335.6 L481.0,333.5 L481.5,333.8 L482.0,335.0 L482.5,333.7 L483.0,335.1 L483.5,333.7 L484.0,331.2 L484.5,334.5 L485.0,335.0 L485.5,334.8 L486.0,335.8 L486.5,335.7 L487.0,335.1 L487.5,335.3 L488.0,334.3 L488.5,333.1 L489.0,335.1 L489.5,333.0 L490.0,330.6 L490.5,329.8 L491.0,333.6 L491.5,337.5 L492.0,337.0 L492.5,337.6 L493.0,337.9 L493.5,337.0 L494.0,336.0 L494.5,336.9 L495.0,334.8 L495.5,335.2 L496.0,336.7 L496.5,331.8 L497.0,326.1" fill="none" stroke="#000" stroke-width="1.7" stroke-linejoin="round" />
<path d="M340.0,302.2 L340.5,303.7 L341.0,305.0 L341.5,305.8 L342.0,305.5 L342.5,306.0 L343.0,301.3 L343.5,302.6 L344.0,306.3 L344.5,308.8 L345.0,308.2 L345.5,309.7 L346.0,310.7 L346.5,311.8 L347.0,311.4 L347.5,311.9 L348.0,312.7 L348.5,312.9 L349.0,313.4 L349.5,312.4 L350.0,311.6 L350.5,310.1 L351.0,315.3 L351.5,315.5 L352.0,315.2 L352.5,315.6 L353.0,315.2 L353.5,318.7 L354.0,319.4 L354.5,320.4 L355.0,320.3 L355.5,320.7 L356.0,321.4 L356.5,316.4 L357.0,313.9 L357.5,318.4 L358.0,321.8 L358.5,322.2 L359.0,320.7 L359.5,320.9 L360.0,323.0 L360.5,323.3 L361.0,323.3 L361.5,324.0 L362.0,324.0 L362.5,322.3 L363.0,320.5 L363.5,319.1 L364.0,322.4 L364.5,323.5 L365.0,324.2 L365.5,323.8 L366.0,324.2 L366.5,324.1 L367.0,322.9 L367.5,322.6 L368.0,325.4 L368.5,324.1 L369.0,323.8 L369.5,323.2 L370.0,324.3 L370.5,327.4 L371.0,325.5 L371.5,326.3 L372.0,326.2 L372.5,325.2 L373.0,326.8 L373.5,327.2 L374.0,328.2 L374.5,328.2 L375.0,328.4 L375.5,326.5 L376.0,322.8 L376.5,326.0 L377.0,328.5 L377.5,330.3 L378.0,330.5 L378.5,331.1 L379.0,331.5 L379.5,329.5 L380.0,328.4 L380.5,328.6 L381.0,330.0 L381.5,329.1 L382.0,326.0 L382.5,325.8 L383.0,330.8 L383.5,332.0 L384.0,331.0 L384.5,331.8 L385.0,331.6 L385.5,330.0 L386.0,330.0 L386.5,330.7 L387.0,331.1 L387.5,330.8 L388.0,329.0 L388.5,328.3 L389.0,331.8 L389.5,332.8 L390.0,333.3 L390.5,334.4 L391.0,332.3 L391.5,332.7 L392.0,333.1 L392.5,333.5 L393.0,332.9 L393.5,332.3 L394.0,332.5 L394.5,329.4 L395.0,326.0 L395.5,329.9 L396.0,332.6 L396.5,335.4 L397.0,334.7 L397.5,333.8 L398.0,334.8 L398.5,334.1 L399.0,335.7 L399.5,334.7 L400.0,335.0 L400.5,331.1 L401.0,326.9 L401.5,326.7 L402.0,331.2 L402.5,334.0 L403.0,334.8 L403.5,335.3 L404.0,335.2 L404.5,335.6 L405.0,335.5 L405.5,336.6 L406.0,336.0 L406.5,335.0 L407.0,332.9 L407.5,330.3 L408.0,332.5 L408.5,335.0 L409.0,335.7 L409.5,334.2 L410.0,335.8 L410.5,336.0 L411.0,334.3 L411.5,335.3 L412.0,334.9 L412.5,332.5 L413.0,330.1 L413.5,329.8 L414.0,334.3 L414.5,337.4 L415.0,336.2 L415.5,337.0 L416.0,336.5 L416.5,335.7 L417.0,338.2 L417.5,338.4 L418.0,338.9 L418.5,338.6 L419.0,338.6 L419.5,336.7 L420.0,335.1 L420.5,329.5 L421.0,333.5 L421.5,335.5 L422.0,334.5 L422.5,335.6 L423.0,335.5 L423.5,335.8 L424.0,335.4 L424.5,336.7 L425.0,338.0 L425.5,338.2 L426.0,335.7 L426.5,332.2 L427.0,334.4 L427.5,338.0 L428.0,336.9 L428.5,335.7 L429.0,335.6 L429.5,337.8 L430.0,337.3 L430.5,336.5 L431.0,336.9 L431.5,336.6 L432.0,332.2 L432.5,331.6 L433.0,333.6 L433.5,335.0 L434.0,336.7 L434.5,337.0 L435.0,337.5 L435.5,339.1 L436.0,338.5 L436.5,338.3 L437.0,337.3 L437.5,336.8 L438.0,334.1 L438.5,330.3 L439.0,328.9 L439.5,333.8 L440.0,336.3 L440.5,336.7 L441.0,337.1 L441.5,336.4 L442.0,336.5 L442.5,337.3 L443.0,337.9 L443.5,337.3 L444.0,338.0 L444.5,335.6 L445.0,335.9 L445.5,335.8 L446.0,338.5 L446.5,337.6 L447.0,337.4 L447.5,339.0 L448.0,338.5 L448.5,337.0 L449.0,338.6 L449.5,340.1 L450.0,337.9 L450.5,337.1 L451.0,335.3 L451.5,334.3 L452.0,334.5 L452.5,339.1 L453.0,337.8 L453.5,339.8 L454.0,338.6 L454.5,339.7 L455.0,338.8 L455.5,339.3 L456.0,338.0 L456.5,338.6 L457.0,339.0 L457.5,336.3 L458.0,337.1 L458.5,337.8 L459.0,338.7 L459.5,339.2 L460.0,338.9 L460.5,339.4 L461.0,338.3 L461.5,337.3 L462.0,339.1 L462.5,340.8 L463.0,340.9 L463.5,336.8 L464.0,335.2 L464.5,330.0 L465.0,336.7 L465.5,337.0 L466.0,337.7 L466.5,339.3 L467.0,338.0 L467.5,340.9 L468.0,339.2 L468.5,339.1 L469.0,338.0 L469.5,339.3 L470.0,338.4 L470.5,338.5 L471.0,338.1 L471.5,338.3 L472.0,338.6 L472.5,339.2 L473.0,339.4 L473.5,339.2 L474.0,340.9 L474.5,338.1 L475.0,338.9 L475.5,339.8 L476.0,338.1 L476.5,335.7 L477.0,333.7 L477.5,334.0 L478.0,335.3 L478.5,338.3 L479.0,337.5 L479.5,337.3 L480.0,339.9 L480.5,338.6 L481.0,338.3 L481.5,341.1 L482.0,341.1 L482.5,341.1 L483.0,338.2 L483.5,336.7 L484.0,337.4 L484.5,338.1 L485.0,337.5 L485.5,336.9 L486.0,337.5 L486.5,337.7 L487.0,338.8 L487.5,339.3 L488.0,339.1 L488.5,339.7 L489.0,341.4 L489.5,339.6 L490.0,336.8 L490.5,334.0 L491.0,337.1 L491.5,341.5 L492.0,341.8 L492.5,341.5 L493.0,341.8 L493.5,341.2 L494.0,339.9 L494.5,338.6 L495.0,338.4 L495.5,338.1 L496.0,337.5 L496.5,334.9 L497.0,333.3" fill="none" stroke="#000" stroke-width="1.7" stroke-linejoin="round" />
<path d="M340.0,319.6 L340.5,321.9 L341.0,321.4 L341.5,321.0 L342.0,320.9 L342.5,318.7 L343.0,316.1 L343.5,319.1 L344.0,323.5 L344.5,322.6 L345.0,323.1 L345.5,324.2 L346.0,324.1 L346.5,322.7 L347.0,325.6 L347.5,323.8 L348.0,323.0 L348.5,324.8 L349.0,322.2 L349.5,320.0 L350.0,320.5 L350.5,324.7 L351.0,325.3 L351.5,327.3 L352.0,326.4 L352.5,326.9 L353.0,326.8 L353.5,327.8 L354.0,326.2 L354.5,325.8 L355.0,326.8 L355.5,326.5 L356.0,323.9 L356.5,323.2 L357.0,325.5 L357.5,328.0 L358.0,328.3 L358.5,327.7 L359.0,329.2 L359.5,329.1 L360.0,328.6 L360.5,328.2 L361.0,329.4 L361.5,329.2 L362.0,326.7 L362.5,324.5 L363.0,327.2 L363.5,329.8 L364.0,329.0 L364.5,331.3 L365.0,330.9 L365.5,331.3 L366.0,331.0 L366.5,331.6 L367.0,332.8 L367.5,333.4 L368.0,333.5 L368.5,329.0 L369.0,322.3 L369.5,326.1 L370.0,332.8 L370.5,334.7 L371.0,333.8 L371.5,332.9 L372.0,334.0 L372.5,332.9 L373.0,333.3 L373.5,332.2 L374.0,331.7 L374.5,332.4 L375.0,329.4 L375.5,326.6 L376.0,328.6 L376.5,332.4 L377.0,335.1 L377.5,334.8 L378.0,333.9 L378.5,335.1 L379.0,333.1 L379.5,333.8 L380.0,334.4 L380.5,334.1 L381.0,332.8 L381.5,332.2 L382.0,327.6 L382.5,328.2 L383.0,332.4 L383.5,334.2 L384.0,334.4 L384.5,335.2 L385.0,334.1 L385.5,336.0 L386.0,336.3 L386.5,336.9 L387.0,336.1 L387.5,336.8 L388.0,335.5 L388.5,331.3 L389.0,327.5 L389.5,330.3 L390.0,334.7 L390.5,336.6 L391.0,336.5 L391.5,336.0 L392.0,336.6 L392.5,335.6 L393.0,337.6 L393.5,338.0 L394.0,338.8 L394.5,337.1 L395.0,334.9 L395.5,333.4 L396.0,329.7 L396.5,333.6 L397.0,335.6 L397.5,335.9 L398.0,335.8 L398.5,334.8 L399.0,336.7 L399.5,336.5 L400.0,335.4 L400.5,336.9 L401.0,337.7 L401.5,336.6 L402.0,336.1 L402.5,333.8 L403.0,336.2 L403.5,336.7 L404.0,338.9 L404.5,339.4 L405.0,339.9 L405.5,339.9 L406.0,339.8 L406.5,339.4 L407.0,337.3 L407.5,339.2 L408.0,338.9 L408.5,335.9 L409.0,333.9 L409.5,333.9 L410.0,337.0 L410.5,338.8 L411.0,339.3 L411.5,339.2 L412.0,337.1 L412.5,336.9 L413.0,337.3 L413.5,338.0 L414.0,338.7 L414.5,337.6 L415.0,335.6 L415.5,336.9 L416.0,338.3 L416.5,338.9 L417.0,339.3 L417.5,339.3 L418.0,338.6 L418.5,339.1 L419.0,341.0 L419.5,339.3 L420.0,340.3 L420.5,338.6 L421.0,335.2 L421.5,330.0 L422.0,330.2 L422.5,335.7 L423.0,337.7 L423.5,336.9 L424.0,337.2 L424.5,336.8 L425.0,338.4 L425.5,338.3 L426.0,339.7 L426.5,339.6 L427.0,338.2 L427.5,339.0 L428.0,336.2 L428.5,332.1 L429.0,334.3 L429.5,340.5 L430.0,340.3 L430.5,339.2 L431.0,341.0 L431.5,340.7 L432.0,340.5 L432.5,341.0 L433.0,341.7 L433.5,341.5 L434.0,339.5 L434.5,337.6 L435.0,338.9 L435.5,339.7 L436.0,340.7 L436.5,340.6 L437.0,339.0 L437.5,340.7 L438.0,340.1 L438.5,338.6 L439.0,339.3 L439.5,339.5 L440.0,337.8 L440.5,335.6 L441.0,333.1 L441.5,337.3 L442.0,339.6 L442.5,340.3 L443.0,338.6 L443.5,339.6 L444.0,341.7 L444.5,342.3 L445.0,341.0 L445.5,340.7 L446.0,341.2 L446.5,340.5 L447.0,336.9 L447.5,331.7 L448.0,336.7 L448.5,341.1 L449.0,339.3 L449.5,340.0 L450.0,339.9 L450.5,340.9 L451.0,339.3 L451.5,340.8 L452.0,339.3 L452.5,338.6 L453.0,340.7 L453.5,337.8 L454.0,337.3 L454.5,338.3 L455.0,341.1 L455.5,340.7 L456.0,340.7 L456.5,340.7 L457.0,340.7 L457.5,340.7 L458.0,341.2 L458.5,341.2 L459.0,340.6 L459.5,341.3 L460.0,337.0 L460.5,336.5 L461.0,338.0 L461.5,339.3 L462.0,340.5 L462.5,341.2 L463.0,341.1 L463.5,340.5 L464.0,340.6 L464.5,341.1 L465.0,340.0 L465.5,339.5 L466.0,339.9 L466.5,337.8 L467.0,338.1 L467.5,340.3 L468.0,340.4 L468.5,341.6 L469.0,341.5 L469.5,342.0 L470.0,342.6 L470.5,341.6 L471.0,340.5 L471.5,341.7 L472.0,341.9 L472.5,340.0 L473.0,337.1 L473.5,334.5 L474.0,338.9 L474.5,338.4 L475.0,339.6 L475.5,339.5 L476.0,339.9 L476.5,339.8 L477.0,340.2 L477.5,339.4 L478.0,338.4 L478.5,338.7 L479.0,339.2 L479.5,338.3 L480.0,334.2 L480.5,330.8 L481.0,335.5 L481.5,338.3 L482.0,340.2 L482.5,341.7 L483.0,339.0 L483.5,341.6 L484.0,341.8 L484.5,339.7 L485.0,341.4 L485.5,340.4 L486.0,342.1 L486.5,339.3 L487.0,338.8 L487.5,338.9 L488.0,339.6 L488.5,339.1 L489.0,339.5 L489.5,339.3 L490.0,339.1 L490.5,339.2 L491.0,340.0 L491.5,337.4 L492.0,339.9 L492.5,338.0 L493.0,339.3 L493.5,335.4 L494.0,331.6 L494.5,333.2 L495.0,337.5 L495.5,340.7 L496.0,342.2 L496.5,341.3 L497.0,341.7" fill="none" stroke="#000" stroke-width="1.7" stroke-linejoin="round" />
<path d="M340.0,313.0 L340.5,316.0 L341.0,317.8 L341.5,319.4 L342.0,317.3 L342.5,319.5 L343.0,320.1 L343.5,320.3 L344.0,320.9 L344.5,320.1 L345.0,321.5 L345.5,319.1 L346.0,317.2 L346.5,317.8 L347.0,322.4 L347.5,323.5 L348.0,323.1 L348.5,325.1 L349.0,322.9 L349.5,323.2 L350.0,323.3 L350.5,324.9 L351.0,324.5 L351.5,325.9 L352.0,323.1 L352.5,322.7 L353.0,324.1 L353.5,327.1 L354.0,329.4 L354.5,329.0 L355.0,329.6 L355.5,330.1 L356.0,328.8 L356.5,329.6 L357.0,330.2 L357.5,330.8 L358.0,333.6 L358.5,329.0 L359.0,326.9 L359.5,328.1 L360.0,330.8 L360.5,331.1 L361.0,331.5 L361.5,331.6 L362.0,331.3 L362.5,330.7 L363.0,332.1 L363.5,332.6 L364.0,331.2 L364.5,331.5 L365.0,328.8 L365.5,326.6 L366.0,325.5 L366.5,327.6 L367.0,333.2 L367.5,334.0 L368.0,336.3 L368.5,336.5 L369.0,336.7 L369.5,337.1 L370.0,334.5 L370.5,336.3 L371.0,334.3 L371.5,334.8 L372.0,333.2 L372.5,330.0 L373.0,332.7 L373.5,335.6 L374.0,335.8 L374.5,337.0 L375.0,336.3 L375.5,336.3 L376.0,336.1 L376.5,336.9 L377.0,337.6 L377.5,337.4 L378.0,338.3 L378.5,336.2 L379.0,337.1 L379.5,337.9 L380.0,338.9 L380.5,339.9 L381.0,338.4 L381.5,338.9 L382.0,339.8 L382.5,338.2 L383.0,338.7 L383.5,339.2 L384.0,338.4 L384.5,337.2 L385.0,334.2 L385.5,327.9 L386.0,334.5 L386.5,340.0 L387.0,340.5 L387.5,340.5 L388.0,340.2 L388.5,340.3 L389.0,340.7 L389.5,341.4 L390.0,340.9 L390.5,341.4 L391.0,339.6 L391.5,337.5 L392.0,335.4 L392.5,339.7 L393.0,340.9 L393.5,342.1 L394.0,342.4 L394.5,339.9 L395.0,340.6 L395.5,340.5 L396.0,340.5 L396.5,342.0 L397.0,341.2 L397.5,339.7 L398.0,335.3 L398.5,336.3 L399.0,341.4 L399.5,340.9 L400.0,341.0 L400.5,341.7 L401.0,341.7 L401.5,340.7 L402.0,341.2 L402.5,341.6 L403.0,341.3 L403.5,341.2 L404.0,338.9 L404.5,339.3 L405.0,338.3 L405.5,339.5 L406.0,342.1 L406.5,340.3 L407.0,340.4 L407.5,339.9 L408.0,341.0 L408.5,342.3 L409.0,341.5 L409.5,341.8 L410.0,342.0 L410.5,336.2 L411.0,333.6 L411.5,333.3 L412.0,337.6 L412.5,341.7 L413.0,342.1 L413.5,342.1 L414.0,342.2 L414.5,342.4 L415.0,343.3 L415.5,342.8 L416.0,341.5 L416.5,340.4 L417.0,340.6 L417.5,339.6 L418.0,336.9 L418.5,338.5 L419.0,340.9 L419.5,341.4 L420.0,341.8 L420.5,341.5 L421.0,341.0 L421.5,341.7 L422.0,342.0 L422.5,341.3 L423.0,339.8 L423.5,338.5 L424.0,333.2 L424.5,336.0 L425.0,341.7 L425.5,340.7 L426.0,342.4 L426.5,341.0 L427.0,342.3 L427.5,344.2 L428.0,342.8 L428.5,343.3 L429.0,343.8 L429.5,340.5 L430.0,334.1 L430.5,335.5 L431.0,339.1 L431.5,343.1 L432.0,341.1 L432.5,343.0 L433.0,340.2 L433.5,340.5 L434.0,340.4 L434.5,342.0 L435.0,341.8 L435.5,341.4 L436.0,339.7 L436.5,336.8 L437.0,336.3 L437.5,340.4 L438.0,342.7 L438.5,344.4 L439.0,343.7 L439.5,343.6 L440.0,341.4 L440.5,342.5 L441.0,342.9 L441.5,344.1 L442.0,341.8 L442.5,339.5 L443.0,333.8 L443.5,336.9 L444.0,340.1 L444.5,340.8 L445.0,339.5 L445.5,338.7 L446.0,340.7 L446.5,340.2 L447.0,340.9 L447.5,341.5 L448.0,343.0 L448.5,340.1 L449.0,339.1 L449.5,336.9 L450.0,339.5 L450.5,341.6 L451.0,343.1 L451.5,343.2 L452.0,343.0 L452.5,340.9 L453.0,342.2 L453.5,341.9 L454.0,342.2 L454.5,342.8 L455.0,342.4 L455.5,338.8 L456.0,343.5 L456.5,343.6 L457.0,344.4 L457.5,342.5 L458.0,344.4 L458.5,344.8 L459.0,345.4 L459.5,345.4 L460.0,345.9 L460.5,344.3 L461.0,344.7 L461.5,342.2 L462.0,337.6 L462.5,339.9 L463.0,343.6 L463.5,344.5 L464.0,341.2 L464.5,342.4 L465.0,341.9 L465.5,342.5 L466.0,342.8 L466.5,342.2 L467.0,341.2 L467.5,340.2 L468.0,336.3 L468.5,335.4 L469.0,338.8 L469.5,342.5 L470.0,341.6 L470.5,341.2 L471.0,343.3 L471.5,343.4 L472.0,343.0 L472.5,342.5 L473.0,343.0 L473.5,344.6 L474.0,342.4 L474.5,342.3 L475.0,342.3 L475.5,341.2 L476.0,344.6 L476.5,343.7 L477.0,343.4 L477.5,343.9 L478.0,344.7 L478.5,345.6 L479.0,344.0 L479.5,345.0 L480.0,344.1 L480.5,342.0 L481.0,338.7 L481.5,337.3 L482.0,338.5 L482.5,342.9 L483.0,343.9 L483.5,343.4 L484.0,343.7 L484.5,342.2 L485.0,341.4 L485.5,342.2 L486.0,342.9 L486.5,342.5 L487.0,339.0 L487.5,338.9 L488.0,341.3 L488.5,342.6 L489.0,342.1 L489.5,343.7 L490.0,343.5 L490.5,341.9 L491.0,342.0 L491.5,341.2 L492.0,342.4 L492.5,342.5 L493.0,342.6 L493.5,339.9 L494.0,338.8 L494.5,338.2 L495.0,342.1 L495.5,344.2 L496.0,344.1 L496.5,342.1 L497.0,341.8" fill="none" stroke="#000" stroke-width="1.7" stroke-linejoin="round" />
<path d="M340.0,332.9 L340.5,332.8 L341.0,329.8 L341.5,322.8 L342.0,323.7 L342.5,330.3 L343.0,332.6 L343.5,333.0 L344.0,334.5 L344.5,334.3 L345.0,332.7 L345.5,331.3 L346.0,332.8 L346.5,333.0 L347.0,332.2 L347.5,331.6 L348.0,332.0 L348.5,333.2 L349.0,332.8 L349.5,334.9 L350.0,334.3 L350.5,333.9 L351.0,335.2 L351.5,335.1 L352.0,334.7 L352.5,334.9 L353.0,335.9 L353.5,336.5 L354.0,331.9 L354.5,329.3 L355.0,334.5 L355.5,337.5 L356.0,336.9 L356.5,337.1 L357.0,337.1 L357.5,337.3 L358.0,336.7 L358.5,334.6 L359.0,336.7 L359.5,335.3 L360.0,336.7 L360.5,335.1 L361.0,334.4 L361.5,336.9 L362.0,337.2 L362.5,340.1 L363.0,338.4 L363.5,338.6 L364.0,340.2 L364.5,339.6 L365.0,339.5 L365.5,337.8 L366.0,338.6 L366.5,338.2 L367.0,338.4 L367.5,337.9 L368.0,336.9 L368.5,337.4 L369.0,339.8 L369.5,340.1 L370.0,339.9 L370.5,338.3 L371.0,338.4 L371.5,339.2 L372.0,338.4 L372.5,339.7 L373.0,339.3 L373.5,338.5 L374.0,336.1 L374.5,335.2 L375.0,339.1 L375.5,339.5 L376.0,340.0 L376.5,340.2 L377.0,341.0 L377.5,340.2 L378.0,342.0 L378.5,340.7 L379.0,340.5 L379.5,339.8 L380.0,339.4 L380.5,336.8 L381.0,330.6 L381.5,334.1 L382.0,338.3 L382.5,341.0 L383.0,342.6 L383.5,341.9 L384.0,343.3 L384.5,344.0 L385.0,343.3 L385.5,342.8 L386.0,344.9 L386.5,342.9 L387.0,340.9 L387.5,340.7 L388.0,343.6 L388.5,344.1 L389.0,345.7 L389.5,343.3 L390.0,343.4 L390.5,343.5 L391.0,343.8 L391.5,343.6 L392.0,343.6 L392.5,341.7 L393.0,339.9 L393.5,336.9 L394.0,335.6 L394.5,339.9 L395.0,341.7 L395.5,344.2 L396.0,342.7 L396.5,343.0 L397.0,342.8 L397.5,343.9 L398.0,345.2 L398.5,344.9 L399.0,344.0 L399.5,339.4 L400.0,337.9 L400.5,339.4 L401.0,341.4 L401.5,342.5 L402.0,342.3 L402.5,343.4 L403.0,343.0 L403.5,342.0 L404.0,343.6 L404.5,341.6 L405.0,343.0 L405.5,341.3 L406.0,338.0 L406.5,334.0 L407.0,336.6 L407.5,340.1 L408.0,341.2 L408.5,343.3 L409.0,344.1 L409.5,344.2 L410.0,343.4 L410.5,345.2 L411.0,343.5 L411.5,344.5 L412.0,344.8 L412.5,343.8 L413.0,341.0 L413.5,334.7 L414.0,335.6 L414.5,342.6 L415.0,343.9 L415.5,344.4 L416.0,344.2 L416.5,346.8 L417.0,344.1 L417.5,345.4 L418.0,343.6 L418.5,344.0 L419.0,342.9 L419.5,341.9 L420.0,337.5 L420.5,339.0 L421.0,341.4 L421.5,343.1 L422.0,343.7 L422.5,344.5 L423.0,342.3 L423.5,345.6 L424.0,345.3 L424.5,344.9 L425.0,346.6 L425.5,344.7 L426.0,344.2 L426.5,342.9 L427.0,341.5 L427.5,342.6 L428.0,343.6 L428.5,343.9 L429.0,342.9 L429.5,344.3 L430.0,345.5 L430.5,345.2 L431.0,344.8 L431.5,344.7 L432.0,343.4 L432.5,346.8 L433.0,340.9 L433.5,338.3 L434.0,341.1 L434.5,344.4 L435.0,344.0 L435.5,344.7 L436.0,342.3 L436.5,343.1 L437.0,341.5 L437.5,342.8 L438.0,341.7 L438.5,342.5 L439.0,340.6 L439.5,334.9 L440.0,338.3 L440.5,341.1 L441.0,342.9 L441.5,343.1 L442.0,342.1 L442.5,344.1 L443.0,344.0 L443.5,342.8 L444.0,342.7 L444.5,344.9 L445.0,342.9 L445.5,341.2 L446.0,340.1 L446.5,343.9 L447.0,344.3 L447.5,345.5 L448.0,344.4 L448.5,346.1 L449.0,345.3 L449.5,345.7 L450.0,345.4 L450.5,344.9 L451.0,345.4 L451.5,341.8 L452.0,340.3 L452.5,341.9 L453.0,342.5 L453.5,343.7 L454.0,344.5 L454.5,343.6 L455.0,342.8 L455.5,343.6 L456.0,343.3 L456.5,344.4 L457.0,343.5 L457.5,341.3 L458.0,335.8 L458.5,333.9 L459.0,340.6 L459.5,342.8 L460.0,343.7 L460.5,345.3 L461.0,343.6 L461.5,344.3 L462.0,344.9 L462.5,344.4 L463.0,343.8 L463.5,343.9 L464.0,343.8 L464.5,343.0 L465.0,344.4 L465.5,344.2 L466.0,344.3 L466.5,345.8 L467.0,343.9 L467.5,343.6 L468.0,342.4 L468.5,342.4 L469.0,342.9 L469.5,341.4 L470.0,342.9 L470.5,340.0 L471.0,338.5 L471.5,339.1 L472.0,340.4 L472.5,343.6 L473.0,342.4 L473.5,343.8 L474.0,342.7 L474.5,343.3 L475.0,344.5 L475.5,344.8 L476.0,345.6 L476.5,344.9 L477.0,343.4 L477.5,340.1 L478.0,341.5 L478.5,344.1 L479.0,346.8 L479.5,345.2 L480.0,344.5 L480.5,345.7 L481.0,344.9 L481.5,345.0 L482.0,345.8 L482.5,345.2 L483.0,345.9 L483.5,347.1 L484.0,343.1 L484.5,342.1 L485.0,344.1 L485.5,344.4 L486.0,346.0 L486.5,346.4 L487.0,345.9 L487.5,345.2 L488.0,347.2 L488.5,345.0 L489.0,346.7 L489.5,346.5 L490.0,346.5 L490.5,343.8 L491.0,341.4 L491.5,342.3 L492.0,345.5 L492.5,345.5 L493.0,345.5 L493.5,344.4 L494.0,345.0 L494.5,345.2 L495.0,346.7 L495.5,345.9 L496.0,345.6 L496.5,346.6 L497.0,342.7" fill="none" stroke="#000" stroke-width="1.7" stroke-linejoin="round" />
<path d="M340.0,327.3 L340.5,324.4 L341.0,322.3 L341.5,322.7 L342.0,327.6 L342.5,329.9 L343.0,330.4 L343.5,330.1 L344.0,331.1 L344.5,331.6 L345.0,333.5 L345.5,333.6 L346.0,332.1 L346.5,333.3 L347.0,332.4 L347.5,327.6 L348.0,327.2 L348.5,331.4 L349.0,333.6 L349.5,335.2 L350.0,335.0 L350.5,335.9 L351.0,337.4 L351.5,338.3 L352.0,337.1 L352.5,336.8 L353.0,338.2 L353.5,332.8 L354.0,332.1 L354.5,333.0 L355.0,337.2 L355.5,337.5 L356.0,337.4 L356.5,338.1 L357.0,340.4 L357.5,339.2 L358.0,340.2 L358.5,340.8 L359.0,338.3 L359.5,338.9 L360.0,338.0 L360.5,332.7 L361.0,337.3 L361.5,341.5 L362.0,342.0 L362.5,341.2 L363.0,341.9 L363.5,341.3 L364.0,342.8 L364.5,341.9 L365.0,341.2 L365.5,341.9 L366.0,340.8 L366.5,339.5 L367.0,335.8 L367.5,335.8 L368.0,339.7 L368.5,341.1 L369.0,340.7 L369.5,342.1 L370.0,342.0 L370.5,343.5 L371.0,342.7 L371.5,344.1 L372.0,343.3 L372.5,343.6 L373.0,341.0 L373.5,338.4 L374.0,341.1 L374.5,343.7 L375.0,346.9 L375.5,345.1 L376.0,344.3 L376.5,343.6 L377.0,343.7 L377.5,345.1 L378.0,342.7 L378.5,342.8 L379.0,342.5 L379.5,339.2 L380.0,336.4 L380.5,332.9 L381.0,337.6 L381.5,342.3 L382.0,343.4 L382.5,342.7 L383.0,345.0 L383.5,344.9 L384.0,346.3 L384.5,345.4 L385.0,344.1 L385.5,344.5 L386.0,345.1 L386.5,345.5 L387.0,344.9 L387.5,343.7 L388.0,347.3 L388.5,347.7 L389.0,346.6 L389.5,345.3 L390.0,346.7 L390.5,346.9 L391.0,347.0 L391.5,345.6 L392.0,346.6 L392.5,347.0 L393.0,343.5 L393.5,338.7 L394.0,342.2 L394.5,343.9 L395.0,347.1 L395.5,345.9 L396.0,346.2 L396.5,346.6 L397.0,345.6 L397.5,345.8 L398.0,348.0 L398.5,347.0 L399.0,348.8 L399.5,347.4 L400.0,342.7 L400.5,340.0 L401.0,343.3 L401.5,347.5 L402.0,346.8 L402.5,346.4 L403.0,345.9 L403.5,345.8 L404.0,347.4 L404.5,347.2 L405.0,348.6 L405.5,347.9 L406.0,346.7 L406.5,343.3 L407.0,341.5 L407.5,344.9 L408.0,349.1 L408.5,347.6 L409.0,347.0 L409.5,346.6 L410.0,346.6 L410.5,347.5 L411.0,346.1 L411.5,347.6 L412.0,346.4 L412.5,344.9 L413.0,342.7 L413.5,342.7 L414.0,343.2 L414.5,345.2 L415.0,346.1 L415.5,344.9 L416.0,345.7 L416.5,344.8 L417.0,345.6 L417.5,344.5 L418.0,344.6 L418.5,344.4 L419.0,347.1 L419.5,345.8 L420.0,338.1 L420.5,335.1 L421.0,345.3 L421.5,346.3 L422.0,346.2 L422.5,346.8 L423.0,345.9 L423.5,347.3 L424.0,347.3 L424.5,349.6 L425.0,347.3 L425.5,346.5 L426.0,343.9 L426.5,342.8 L427.0,342.0 L427.5,344.2 L428.0,344.2 L428.5,345.8 L429.0,346.5 L429.5,346.2 L430.0,346.3 L430.5,346.4 L431.0,347.3 L431.5,347.5 L432.0,345.7 L432.5,341.1 L433.0,339.4 L433.5,341.2 L434.0,345.1 L434.5,345.4 L435.0,346.2 L435.5,347.9 L436.0,347.2 L436.5,346.5 L437.0,347.5 L437.5,347.6 L438.0,347.0 L438.5,345.8 L439.0,344.5 L439.5,342.8 L440.0,341.6 L440.5,343.9 L441.0,347.8 L441.5,347.0 L442.0,347.5 L442.5,347.9 L443.0,348.8 L443.5,346.4 L444.0,348.0 L444.5,346.7 L445.0,346.5 L445.5,344.5 L446.0,343.2 L446.5,341.3 L447.0,344.7 L447.5,349.2 L448.0,349.0 L448.5,347.8 L449.0,348.8 L449.5,348.9 L450.0,347.0 L450.5,347.8 L451.0,348.2 L451.5,346.9 L452.0,344.9 L452.5,341.4 L453.0,344.5 L453.5,346.2 L454.0,346.0 L454.5,347.0 L455.0,347.5 L455.5,348.5 L456.0,349.3 L456.5,348.5 L457.0,350.8 L457.5,348.6 L458.0,348.8 L458.5,346.2 L459.0,345.5 L459.5,344.9 L460.0,347.0 L460.5,348.7 L461.0,347.6 L461.5,347.5 L462.0,347.9 L462.5,349.4 L463.0,347.9 L463.5,348.0 L464.0,348.4 L464.5,347.0 L465.0,344.7 L465.5,343.1 L466.0,344.4 L466.5,346.9 L467.0,347.8 L467.5,346.7 L468.0,346.0 L468.5,346.1 L469.0,346.7 L469.5,346.1 L470.0,347.7 L470.5,347.7 L471.0,347.7 L471.5,345.6 L472.0,344.7 L472.5,345.0 L473.0,345.9 L473.5,346.3 L474.0,347.3 L474.5,345.8 L475.0,346.4 L475.5,345.9 L476.0,345.3 L476.5,347.8 L477.0,347.1 L477.5,345.7 L478.0,343.3 L478.5,340.5 L479.0,341.8 L479.5,344.4 L480.0,348.5 L480.5,346.5 L481.0,347.3 L481.5,346.4 L482.0,346.2 L482.5,345.4 L483.0,346.1 L483.5,347.8 L484.0,346.0 L484.5,345.8 L485.0,342.0 L485.5,338.0 L486.0,337.6 L486.5,343.4 L487.0,348.2 L487.5,347.6 L488.0,346.3 L488.5,346.7 L489.0,347.1 L489.5,347.1 L490.0,346.7 L490.5,347.1 L491.0,347.2 L491.5,345.8 L492.0,344.9 L492.5,343.2 L493.0,346.6 L493.5,345.8 L494.0,345.7 L494.5,347.0 L495.0,347.0 L495.5,346.4 L496.0,346.1 L496.5,347.4 L497.0,346.0" fill="none" stroke="#000" stroke-width="1.7" stroke-linejoin="round" />
<path d="M340.0,333.1 L340.5,337.5 L341.0,340.8 L341.5,342.4 L342.0,341.2 L342.5,341.3 L343.0,342.8 L343.5,343.8 L344.0,343.6 L344.5,345.7 L345.0,342.9 L345.5,343.6 L346.0,341.4 L346.5,336.3 L347.0,337.1 L347.5,340.2 L348.0,345.4 L348.5,342.6 L349.0,345.5 L349.5,345.2 L350.0,343.8 L350.5,343.2 L351.0,344.8 L351.5,344.3 L352.0,343.2 L352.5,342.4 L353.0,340.2 L353.5,339.3 L354.0,340.3 L354.5,344.3 L355.0,342.6 L355.5,344.3 L356.0,343.9 L356.5,343.6 L357.0,345.9 L357.5,347.2 L358.0,345.9 L358.5,347.8 L359.0,345.2 L359.5,339.3 L360.0,339.7 L360.5,344.5 L361.0,345.6 L361.5,346.3 L362.0,346.2 L362.5,346.8 L363.0,346.4 L363.5,344.5 L364.0,346.1 L364.5,346.3 L365.0,347.0 L365.5,346.4 L366.0,342.8 L366.5,339.5 L367.0,342.8 L367.5,345.0 L368.0,347.1 L368.5,346.0 L369.0,346.2 L369.5,345.1 L370.0,345.3 L370.5,348.0 L371.0,348.7 L371.5,348.2 L372.0,348.1 L372.5,343.7 L373.0,340.6 L373.5,345.3 L374.0,347.7 L374.5,348.7 L375.0,347.6 L375.5,347.2 L376.0,347.9 L376.5,348.1 L377.0,348.4 L377.5,347.6 L378.0,347.7 L378.5,348.8 L379.0,343.6 L379.5,340.1 L380.0,340.3 L380.5,341.8 L381.0,347.7 L381.5,348.1 L382.0,347.9 L382.5,348.1 L383.0,348.4 L383.5,347.3 L384.0,345.4 L384.5,346.6 L385.0,348.0 L385.5,345.7 L386.0,347.0 L386.5,345.9 L387.0,347.1 L387.5,347.3 L388.0,349.2 L388.5,348.9 L389.0,350.4 L389.5,347.6 L390.0,350.9 L390.5,351.1 L391.0,348.3 L391.5,347.9 L392.0,348.2 L392.5,344.1 L393.0,339.3 L393.5,342.4 L394.0,347.9 L394.5,347.8 L395.0,348.2 L395.5,348.1 L396.0,348.2 L396.5,348.4 L397.0,348.8 L397.5,348.1 L398.0,347.9 L398.5,347.3 L399.0,346.4 L399.5,344.9 L400.0,345.7 L400.5,346.6 L401.0,347.1 L401.5,349.6 L402.0,349.3 L402.5,349.1 L403.0,348.6 L403.5,350.4 L404.0,348.0 L404.5,348.7 L405.0,346.9 L405.5,344.5 L406.0,345.4 L406.5,347.6 L407.0,348.2 L407.5,348.6 L408.0,348.0 L408.5,348.2 L409.0,348.5 L409.5,347.2 L410.0,348.9 L410.5,348.3 L411.0,348.1 L411.5,347.6 L412.0,343.8 L412.5,345.5 L413.0,347.2 L413.5,348.8 L414.0,349.2 L414.5,348.2 L415.0,348.9 L415.5,347.3 L416.0,347.1 L416.5,345.0 L417.0,347.6 L417.5,345.2 L418.0,341.2 L418.5,340.4 L419.0,346.8 L419.5,349.6 L420.0,351.7 L420.5,347.7 L421.0,348.9 L421.5,348.8 L422.0,347.8 L422.5,348.7 L423.0,348.6 L423.5,347.3 L424.0,348.8 L424.5,347.0 L425.0,344.2 L425.5,341.4 L426.0,345.1 L426.5,348.6 L427.0,349.9 L427.5,348.4 L428.0,347.4 L428.5,346.5 L429.0,346.4 L429.5,345.8 L430.0,346.4 L430.5,346.8 L431.0,340.8 L431.5,337.8 L432.0,342.3 L432.5,347.2 L433.0,346.8 L433.5,347.9 L434.0,348.4 L434.5,348.0 L435.0,348.9 L435.5,348.3 L436.0,347.5 L436.5,348.2 L437.0,348.0 L437.5,342.7 L438.0,338.4 L438.5,343.0 L439.0,346.2 L439.5,348.7 L440.0,349.5 L440.5,349.3 L441.0,351.1 L441.5,351.0 L442.0,351.4 L442.5,351.8 L443.0,350.7 L443.5,350.7 L444.0,344.1 L444.5,340.7 L445.0,343.6 L445.5,348.6 L446.0,348.5 L446.5,348.0 L447.0,348.6 L447.5,349.0 L448.0,349.1 L448.5,347.4 L449.0,348.6 L449.5,349.6 L450.0,349.5 L450.5,348.2 L451.0,346.0 L451.5,346.5 L452.0,348.4 L452.5,350.9 L453.0,350.5 L453.5,351.0 L454.0,349.8 L454.5,350.9 L455.0,348.7 L455.5,349.5 L456.0,350.0 L456.5,347.5 L457.0,345.5 L457.5,344.8 L458.0,344.9 L458.5,347.8 L459.0,347.7 L459.5,350.2 L460.0,349.4 L460.5,348.4 L461.0,349.7 L461.5,346.3 L462.0,347.2 L462.5,345.9 L463.0,346.9 L463.5,343.5 L464.0,340.7 L464.5,340.0 L465.0,346.5 L465.5,348.8 L466.0,348.9 L466.5,349.6 L467.0,349.5 L467.5,347.9 L468.0,347.8 L468.5,348.9 L469.0,348.8 L469.5,348.3 L470.0,346.0 L470.5,341.3 L471.0,340.9 L471.5,344.6 L472.0,348.4 L472.5,349.3 L473.0,348.7 L473.5,348.5 L474.0,349.5 L474.5,349.1 L475.0,348.9 L475.5,351.5 L476.0,351.1 L476.5,349.5 L477.0,343.2 L477.5,340.9 L478.0,343.9 L478.5,348.8 L479.0,349.9 L479.5,349.3 L480.0,349.2 L480.5,347.9 L481.0,347.0 L481.5,347.9 L482.0,348.1 L482.5,346.3 L483.0,341.3 L483.5,337.9 L484.0,342.3 L484.5,347.1 L485.0,347.7 L485.5,349.1 L486.0,348.7 L486.5,348.0 L487.0,348.4 L487.5,347.9 L488.0,347.7 L488.5,347.5 L489.0,346.0 L489.5,344.0 L490.0,344.3 L490.5,346.7 L491.0,347.0 L491.5,348.6 L492.0,349.6 L492.5,349.7 L493.0,350.4 L493.5,351.1 L494.0,350.2 L494.5,350.7 L495.0,350.0 L495.5,345.5 L496.0,341.6 L496.5,341.8 L497.0,345.7" fill="none" stroke="#000" stroke-width="1.7" stroke-linejoin="round" />
<path d="M340.0,338.3 L340.5,339.8 L341.0,341.8 L341.5,342.8 L342.0,341.4 L342.5,342.0 L343.0,338.1 L343.5,337.2 L344.0,338.8 L344.5,341.3 L345.0,343.5 L345.5,343.0 L346.0,344.3 L346.5,343.8 L347.0,343.1 L347.5,343.2 L348.0,343.2 L348.5,343.9 L349.0,343.3 L349.5,342.9 L350.0,336.8 L350.5,341.3 L351.0,343.1 L351.5,346.6 L352.0,344.5 L352.5,347.1 L353.0,347.8 L353.5,347.0 L354.0,346.0 L354.5,347.5 L355.0,347.5 L355.5,348.8 L356.0,348.3 L356.5,343.4 L357.0,343.6 L357.5,347.0 L358.0,349.2 L358.5,347.0 L359.0,347.7 L359.5,347.7 L360.0,348.4 L360.5,348.0 L361.0,348.0 L361.5,347.0 L362.0,347.9 L362.5,347.7 L363.0,344.5 L363.5,341.0 L364.0,344.5 L364.5,345.9 L365.0,347.3 L365.5,348.5 L366.0,347.3 L366.5,346.9 L367.0,348.1 L367.5,348.4 L368.0,350.3 L368.5,348.8 L369.0,348.3 L369.5,344.9 L370.0,342.2 L370.5,345.8 L371.0,350.6 L371.5,348.7 L372.0,350.4 L372.5,348.7 L373.0,350.7 L373.5,350.7 L374.0,351.0 L374.5,351.5 L375.0,348.0 L375.5,346.8 L376.0,341.1 L376.5,346.9 L377.0,348.6 L377.5,352.2 L378.0,351.6 L378.5,351.9 L379.0,352.2 L379.5,352.0 L380.0,352.2 L380.5,350.9 L381.0,350.4 L381.5,352.0 L382.0,348.1 L382.5,344.2 L383.0,346.1 L383.5,349.1 L384.0,353.0 L384.5,352.2 L385.0,351.7 L385.5,351.3 L386.0,352.9 L386.5,353.1 L387.0,354.1 L387.5,351.7 L388.0,351.1 L388.5,350.2 L389.0,348.6 L389.5,346.3 L390.0,348.0 L390.5,352.8 L391.0,351.7 L391.5,351.7 L392.0,350.9 L392.5,350.4 L393.0,350.1 L393.5,350.7 L394.0,351.1 L394.5,350.8 L395.0,349.1 L395.5,349.1 L396.0,348.7 L396.5,350.9 L397.0,351.5 L397.5,351.6 L398.0,350.0 L398.5,350.2 L399.0,350.2 L399.5,348.7 L400.0,347.5 L400.5,348.5 L401.0,346.8 L401.5,348.5 L402.0,345.6 L402.5,341.6 L403.0,344.4 L403.5,348.0 L404.0,348.6 L404.5,348.5 L405.0,349.9 L405.5,349.4 L406.0,350.9 L406.5,351.1 L407.0,350.7 L407.5,350.8 L408.0,349.5 L408.5,346.2 L409.0,342.8 L409.5,345.7 L410.0,347.8 L410.5,348.7 L411.0,348.5 L411.5,348.0 L412.0,350.0 L412.5,348.9 L413.0,349.1 L413.5,349.1 L414.0,349.7 L414.5,348.9 L415.0,350.2 L415.5,344.7 L416.0,340.9 L416.5,344.9 L417.0,348.2 L417.5,349.9 L418.0,349.7 L418.5,349.3 L419.0,351.4 L419.5,350.8 L420.0,352.5 L420.5,352.0 L421.0,351.1 L421.5,349.5 L422.0,347.2 L422.5,343.9 L423.0,343.7 L423.5,345.2 L424.0,349.9 L424.5,350.6 L425.0,349.5 L425.5,350.7 L426.0,351.2 L426.5,351.4 L427.0,352.2 L427.5,350.3 L428.0,351.1 L428.5,351.5 L429.0,349.0 L429.5,346.6 L430.0,347.4 L430.5,350.2 L431.0,351.0 L431.5,351.6 L432.0,351.3 L432.5,351.2 L433.0,350.1 L433.5,349.8 L434.0,349.8 L434.5,348.9 L435.0,351.4 L435.5,349.9 L436.0,348.4 L436.5,347.4 L437.0,349.9 L437.5,349.9 L438.0,349.8 L438.5,351.1 L439.0,350.8 L439.5,353.6 L440.0,351.4 L440.5,352.0 L441.0,351.4 L441.5,351.3 L442.0,351.1 L442.5,351.7 L443.0,348.2 L443.5,344.7 L444.0,346.7 L444.5,349.5 L445.0,350.4 L445.5,349.9 L446.0,348.8 L446.5,349.0 L447.0,348.7 L447.5,349.0 L448.0,348.0 L448.5,353.2 L449.0,348.1 L449.5,342.3 L450.0,343.4 L450.5,347.9 L451.0,351.5 L451.5,351.4 L452.0,351.2 L452.5,351.7 L453.0,351.7 L453.5,351.7 L454.0,352.9 L454.5,351.0 L455.0,349.8 L455.5,347.6 L456.0,347.5 L456.5,346.6 L457.0,350.2 L457.5,352.5 L458.0,351.5 L458.5,350.4 L459.0,349.6 L459.5,350.0 L460.0,351.5 L460.5,351.7 L461.0,350.4 L461.5,353.8 L462.0,350.6 L462.5,350.6 L463.0,349.6 L463.5,351.3 L464.0,351.1 L464.5,351.1 L465.0,351.2 L465.5,350.6 L466.0,349.4 L466.5,349.6 L467.0,347.5 L467.5,349.1 L468.0,347.6 L468.5,348.1 L469.0,343.0 L469.5,349.7 L470.0,352.6 L470.5,351.6 L471.0,350.8 L471.5,352.4 L472.0,351.0 L472.5,351.1 L473.0,352.4 L473.5,349.7 L474.0,350.8 L474.5,349.9 L475.0,347.5 L475.5,344.7 L476.0,348.3 L476.5,350.9 L477.0,351.5 L477.5,351.7 L478.0,349.6 L478.5,350.4 L479.0,350.0 L479.5,351.0 L480.0,350.6 L480.5,352.1 L481.0,352.3 L481.5,350.4 L482.0,347.2 L482.5,345.8 L483.0,348.1 L483.5,352.5 L484.0,351.9 L484.5,350.5 L485.0,350.5 L485.5,349.9 L486.0,349.8 L486.5,352.6 L487.0,349.0 L487.5,351.3 L488.0,348.3 L488.5,346.9 L489.0,346.8 L489.5,348.7 L490.0,350.1 L490.5,351.8 L491.0,349.7 L491.5,349.6 L492.0,351.3 L492.5,350.9 L493.0,351.2 L493.5,350.9 L494.0,351.3 L494.5,347.9 L495.0,344.1 L495.5,344.9 L496.0,347.9 L496.5,350.7 L497.0,351.8" fill="none" stroke="#000" stroke-width="1.7" stroke-linejoin="round" />
<path d="M340.0,345.0 L340.5,344.4 L341.0,345.9 L341.5,349.3 L342.0,347.8 L342.5,348.1 L343.0,347.4 L343.5,348.4 L344.0,348.9 L344.5,347.2 L345.0,347.3 L345.5,347.7 L346.0,343.6 L346.5,338.8 L347.0,341.9 L347.5,347.3 L348.0,349.2 L348.5,349.0 L349.0,350.3 L349.5,352.3 L350.0,349.8 L350.5,349.7 L351.0,351.3 L351.5,353.3 L352.0,351.3 L352.5,346.8 L353.0,343.3 L353.5,342.9 L354.0,347.6 L354.5,352.7 L355.0,351.7 L355.5,351.9 L356.0,351.5 L356.5,352.3 L357.0,352.1 L357.5,352.6 L358.0,353.1 L358.5,353.9 L359.0,351.7 L359.5,348.7 L360.0,341.5 L360.5,343.6 L361.0,349.8 L361.5,351.1 L362.0,351.0 L362.5,349.7 L363.0,350.1 L363.5,351.6 L364.0,349.0 L364.5,350.6 L365.0,349.9 L365.5,351.5 L366.0,348.6 L366.5,347.7 L367.0,344.1 L367.5,348.8 L368.0,351.7 L368.5,352.2 L369.0,351.3 L369.5,351.3 L370.0,350.4 L370.5,350.2 L371.0,351.0 L371.5,352.9 L372.0,351.1 L372.5,349.9 L373.0,350.2 L373.5,349.0 L374.0,347.2 L374.5,349.9 L375.0,351.5 L375.5,351.3 L376.0,352.0 L376.5,352.1 L377.0,351.7 L377.5,351.7 L378.0,352.1 L378.5,352.7 L379.0,352.4 L379.5,352.2 L380.0,349.6 L380.5,348.4 L381.0,350.6 L381.5,353.3 L382.0,353.2 L382.5,353.8 L383.0,353.6 L383.5,353.5 L384.0,352.8 L384.5,352.6 L385.0,351.9 L385.5,351.8 L386.0,347.5 L386.5,345.0 L387.0,345.7 L387.5,350.8 L388.0,351.5 L388.5,352.6 L389.0,351.1 L389.5,352.5 L390.0,353.8 L390.5,354.1 L391.0,351.6 L391.5,354.5 L392.0,355.0 L392.5,349.8 L393.0,347.3 L393.5,347.5 L394.0,350.5 L394.5,353.0 L395.0,353.2 L395.5,353.9 L396.0,355.1 L396.5,353.6 L397.0,353.7 L397.5,353.1 L398.0,351.4 L398.5,353.1 L399.0,351.1 L399.5,349.5 L400.0,346.0 L400.5,348.5 L401.0,351.5 L401.5,353.3 L402.0,351.2 L402.5,352.8 L403.0,351.1 L403.5,352.8 L404.0,352.2 L404.5,353.0 L405.0,353.3 L405.5,352.8 L406.0,351.6 L406.5,350.0 L407.0,347.3 L407.5,351.8 L408.0,353.2 L408.5,353.7 L409.0,351.6 L409.5,352.2 L410.0,351.5 L410.5,354.5 L411.0,352.1 L411.5,351.6 L412.0,353.2 L412.5,352.3 L413.0,348.7 L413.5,344.3 L414.0,345.2 L414.5,350.2 L415.0,354.2 L415.5,352.3 L416.0,352.3 L416.5,352.3 L417.0,351.5 L417.5,351.9 L418.0,352.9 L418.5,351.9 L419.0,352.3 L419.5,347.7 L420.0,344.9 L420.5,346.3 L421.0,350.5 L421.5,350.3 L422.0,353.1 L422.5,353.2 L423.0,354.0 L423.5,353.7 L424.0,353.1 L424.5,353.1 L425.0,352.4 L425.5,350.1 L426.0,344.5 L426.5,348.5 L427.0,351.2 L427.5,352.5 L428.0,349.8 L428.5,351.5 L429.0,351.8 L429.5,352.7 L430.0,353.3 L430.5,353.1 L431.0,352.7 L431.5,348.5 L432.0,348.7 L432.5,349.1 L433.0,351.6 L433.5,352.7 L434.0,351.6 L434.5,353.1 L435.0,353.6 L435.5,351.0 L436.0,352.8 L436.5,353.1 L437.0,351.5 L437.5,353.4 L438.0,350.9 L438.5,348.4 L439.0,347.1 L439.5,350.0 L440.0,353.5 L440.5,354.7 L441.0,352.7 L441.5,354.8 L442.0,354.0 L442.5,353.6 L443.0,351.9 L443.5,352.5 L444.0,351.1 L444.5,349.1 L445.0,344.7 L445.5,344.1 L446.0,349.9 L446.5,351.3 L447.0,352.7 L447.5,353.4 L448.0,352.8 L448.5,352.4 L449.0,353.9 L449.5,353.5 L450.0,352.1 L450.5,350.3 L451.0,348.9 L451.5,346.4 L452.0,349.3 L452.5,353.4 L453.0,349.7 L453.5,351.3 L454.0,352.7 L454.5,352.3 L455.0,353.0 L455.5,353.0 L456.0,351.0 L456.5,350.4 L457.0,352.0 L457.5,349.5 L458.0,345.0 L458.5,346.6 L459.0,349.1 L459.5,353.0 L460.0,351.8 L460.5,352.1 L461.0,352.9 L461.5,351.8 L462.0,354.4 L462.5,353.0 L463.0,352.9 L463.5,353.1 L464.0,350.3 L464.5,344.8 L465.0,343.6 L465.5,350.1 L466.0,352.9 L466.5,352.4 L467.0,351.5 L467.5,351.1 L468.0,351.1 L468.5,351.1 L469.0,352.8 L469.5,352.9 L470.0,352.5 L470.5,351.9 L471.0,347.6 L471.5,343.6 L472.0,350.1 L472.5,351.8 L473.0,352.7 L473.5,353.2 L474.0,352.8 L474.5,351.1 L475.0,350.9 L475.5,353.1 L476.0,351.7 L476.5,353.7 L477.0,354.5 L477.5,350.3 L478.0,349.5 L478.5,348.7 L479.0,351.5 L479.5,354.0 L480.0,354.0 L480.5,350.9 L481.0,352.7 L481.5,353.3 L482.0,354.6 L482.5,354.1 L483.0,351.9 L483.5,352.7 L484.0,348.5 L484.5,344.8 L485.0,348.8 L485.5,351.4 L486.0,353.2 L486.5,352.0 L487.0,351.4 L487.5,350.6 L488.0,351.3 L488.5,352.6 L489.0,352.0 L489.5,353.5 L490.0,352.9 L490.5,349.4 L491.0,345.0 L491.5,349.6 L492.0,351.9 L492.5,353.5 L493.0,352.4 L493.5,354.1 L494.0,353.0 L494.5,352.6 L495.0,352.5 L495.5,352.5 L496.0,351.4 L496.5,347.8 L497.0,344.1" fill="none" stroke="#000" stroke-width="1.7" stroke-linejoin="round" />
<path d="M340.0,346.3 L340.5,347.8 L341.0,352.5 L341.5,351.8 L342.0,352.9 L342.5,354.3 L343.0,354.6 L343.5,353.2 L344.0,353.3 L344.5,353.1 L345.0,353.5 L345.5,353.6 L346.0,351.1 L346.5,351.5 L347.0,351.3 L347.5,354.0 L348.0,354.8 L348.5,353.3 L349.0,352.5 L349.5,353.5 L350.0,352.8 L350.5,352.3 L351.0,352.7 L351.5,352.6 L352.0,352.2 L352.5,349.0 L353.0,347.6 L353.5,343.1 L354.0,347.5 L354.5,349.8 L355.0,352.3 L355.5,352.9 L356.0,351.9 L356.5,353.3 L357.0,354.7 L357.5,355.4 L358.0,353.2 L358.5,355.0 L359.0,356.3 L359.5,352.1 L360.0,348.9 L360.5,347.6 L361.0,351.0 L361.5,354.4 L362.0,354.3 L362.5,353.9 L363.0,353.9 L363.5,352.2 L364.0,353.1 L364.5,352.5 L365.0,352.1 L365.5,352.5 L366.0,350.0 L366.5,346.2 L367.0,347.5 L367.5,350.5 L368.0,352.8 L368.5,351.7 L369.0,352.9 L369.5,354.6 L370.0,354.3 L370.5,353.6 L371.0,354.4 L371.5,355.8 L372.0,355.8 L372.5,354.7 L373.0,349.3 L373.5,349.6 L374.0,352.8 L374.5,355.1 L375.0,354.6 L375.5,355.7 L376.0,355.3 L376.5,354.3 L377.0,356.0 L377.5,354.7 L378.0,354.7 L378.5,355.3 L379.0,354.1 L379.5,352.4 L380.0,351.6 L380.5,353.0 L381.0,354.0 L381.5,356.1 L382.0,354.6 L382.5,352.9 L383.0,354.2 L383.5,354.6 L384.0,352.6 L384.5,352.4 L385.0,352.7 L385.5,352.7 L386.0,351.6 L386.5,349.0 L387.0,346.4 L387.5,351.4 L388.0,356.1 L388.5,355.8 L389.0,354.8 L389.5,355.2 L390.0,354.0 L390.5,352.9 L391.0,353.6 L391.5,353.6 L392.0,352.8 L392.5,350.9 L393.0,346.5 L393.5,343.8 L394.0,347.3 L394.5,353.9 L395.0,352.6 L395.5,353.1 L396.0,352.6 L396.5,352.2 L397.0,351.0 L397.5,352.6 L398.0,353.4 L398.5,352.3 L399.0,353.1 L399.5,350.8 L400.0,350.0 L400.5,351.5 L401.0,354.7 L401.5,353.6 L402.0,354.3 L402.5,355.7 L403.0,354.1 L403.5,353.6 L404.0,353.9 L404.5,355.0 L405.0,353.4 L405.5,353.2 L406.0,351.2 L406.5,351.3 L407.0,350.7 L407.5,352.7 L408.0,353.1 L408.5,353.9 L409.0,354.0 L409.5,355.0 L410.0,353.5 L410.5,354.5 L411.0,352.4 L411.5,353.5 L412.0,353.8 L412.5,349.5 L413.0,345.9 L413.5,350.1 L414.0,351.5 L414.5,353.8 L415.0,355.7 L415.5,355.0 L416.0,355.0 L416.5,354.2 L417.0,354.3 L417.5,354.9 L418.0,354.3 L418.5,348.8 L419.0,346.1 L419.5,351.9 L420.0,354.3 L420.5,354.9 L421.0,355.6 L421.5,355.3 L422.0,355.5 L422.5,354.3 L423.0,355.5 L423.5,354.8 L424.0,353.1 L424.5,353.8 L425.0,353.1 L425.5,353.0 L426.0,353.5 L426.5,353.9 L427.0,354.8 L427.5,353.8 L428.0,354.5 L428.5,356.3 L429.0,355.9 L429.5,354.6 L430.0,354.4 L430.5,353.0 L431.0,352.7 L431.5,348.8 L432.0,345.2 L432.5,348.6 L433.0,350.0 L433.5,355.7 L434.0,355.8 L434.5,353.9 L435.0,356.3 L435.5,354.5 L436.0,355.0 L436.5,354.5 L437.0,353.1 L437.5,354.0 L438.0,353.3 L438.5,351.3 L439.0,347.9 L439.5,353.1 L440.0,355.1 L440.5,355.0 L441.0,355.6 L441.5,355.0 L442.0,353.7 L442.5,355.0 L443.0,354.8 L443.5,354.1 L444.0,354.3 L444.5,351.3 L445.0,348.4 L445.5,349.7 L446.0,354.8 L446.5,356.0 L447.0,355.3 L447.5,355.1 L448.0,355.5 L448.5,355.5 L449.0,354.7 L449.5,354.4 L450.0,354.9 L450.5,352.8 L451.0,350.7 L451.5,344.2 L452.0,348.6 L452.5,353.3 L453.0,352.3 L453.5,352.3 L454.0,351.8 L454.5,352.5 L455.0,350.8 L455.5,353.7 L456.0,352.3 L456.5,352.8 L457.0,353.0 L457.5,349.4 L458.0,348.4 L458.5,351.4 L459.0,354.9 L459.5,355.0 L460.0,355.1 L460.5,355.9 L461.0,354.3 L461.5,355.5 L462.0,356.2 L462.5,356.7 L463.0,354.2 L463.5,353.6 L464.0,347.8 L464.5,344.4 L465.0,348.8 L465.5,352.2 L466.0,352.4 L466.5,353.2 L467.0,353.2 L467.5,353.0 L468.0,353.2 L468.5,351.9 L469.0,352.4 L469.5,351.9 L470.0,353.5 L470.5,349.7 L471.0,346.9 L471.5,350.4 L472.0,352.0 L472.5,352.9 L473.0,353.1 L473.5,354.6 L474.0,354.6 L474.5,353.9 L475.0,355.4 L475.5,352.9 L476.0,354.4 L476.5,353.4 L477.0,350.3 L477.5,349.9 L478.0,352.9 L478.5,353.9 L479.0,355.2 L479.5,354.9 L480.0,355.5 L480.5,355.4 L481.0,353.9 L481.5,353.8 L482.0,353.5 L482.5,353.4 L483.0,353.6 L483.5,352.1 L484.0,351.6 L484.5,351.9 L485.0,353.6 L485.5,353.6 L486.0,355.1 L486.5,354.0 L487.0,353.9 L487.5,353.6 L488.0,354.1 L488.5,354.0 L489.0,353.8 L489.5,351.4 L490.0,345.6 L490.5,343.8 L491.0,346.2 L491.5,348.7 L492.0,352.0 L492.5,352.5 L493.0,349.9 L493.5,350.8 L494.0,352.5 L494.5,352.6 L495.0,353.1 L495.5,353.6 L496.0,352.9 L496.5,350.0 L497.0,347.8" fill="none" stroke="#000" stroke-width="1.7" stroke-linejoin="round" />
<path d="M340.0,352.0 L340.5,350.3 L341.0,350.7 L341.5,352.7 L342.0,354.7 L342.5,356.1 L343.0,356.2 L343.5,357.2 L344.0,356.4 L344.5,357.1 L345.0,356.4 L345.5,357.0 L346.0,355.1 L346.5,351.6 L347.0,347.6 L347.5,355.0 L348.0,357.4 L348.5,357.9 L349.0,358.4 L349.5,357.0 L350.0,356.6 L350.5,356.0 L351.0,354.6 L351.5,355.4 L352.0,354.4 L352.5,352.3 L353.0,352.2 L353.5,352.2 L354.0,356.5 L354.5,356.2 L355.0,355.1 L355.5,355.8 L356.0,356.1 L356.5,353.4 L357.0,354.3 L357.5,355.5 L358.0,354.3 L358.5,355.2 L359.0,351.9 L359.5,350.1 L360.0,352.1 L360.5,355.4 L361.0,355.6 L361.5,356.1 L362.0,356.3 L362.5,355.6 L363.0,356.0 L363.5,355.2 L364.0,355.5 L364.5,354.8 L365.0,351.6 L365.5,346.7 L366.0,347.0 L366.5,353.1 L367.0,355.5 L367.5,357.0 L368.0,357.4 L368.5,356.3 L369.0,355.2 L369.5,354.7 L370.0,356.0 L370.5,354.4 L371.0,354.3 L371.5,353.9 L372.0,349.9 L372.5,349.7 L373.0,352.1 L373.5,354.5 L374.0,356.6 L374.5,355.3 L375.0,355.6 L375.5,355.6 L376.0,355.6 L376.5,356.0 L377.0,358.9 L377.5,356.7 L378.0,354.5 L378.5,351.2 L379.0,349.8 L379.5,354.1 L380.0,358.2 L380.5,357.7 L381.0,355.8 L381.5,356.4 L382.0,355.0 L382.5,355.3 L383.0,357.2 L383.5,356.0 L384.0,356.3 L384.5,354.1 L385.0,348.5 L385.5,346.8 L386.0,351.8 L386.5,356.0 L387.0,354.8 L387.5,356.3 L388.0,356.1 L388.5,356.5 L389.0,358.5 L389.5,358.3 L390.0,358.1 L390.5,354.8 L391.0,350.4 L391.5,348.9 L392.0,352.2 L392.5,356.4 L393.0,356.1 L393.5,356.3 L394.0,355.8 L394.5,355.6 L395.0,356.7 L395.5,356.3 L396.0,356.9 L396.5,356.4 L397.0,354.9 L397.5,351.0 L398.0,351.7 L398.5,354.4 L399.0,357.3 L399.5,357.1 L400.0,356.2 L400.5,356.7 L401.0,355.6 L401.5,356.3 L402.0,354.6 L402.5,355.5 L403.0,354.4 L403.5,353.9 L404.0,352.1 L404.5,351.9 L405.0,354.4 L405.5,357.9 L406.0,355.8 L406.5,354.4 L407.0,354.4 L407.5,354.4 L408.0,353.5 L408.5,355.3 L409.0,353.2 L409.5,353.3 L410.0,352.1 L410.5,349.1 L411.0,346.5 L411.5,350.1 L412.0,354.0 L412.5,353.8 L413.0,352.5 L413.5,354.5 L414.0,355.2 L414.5,354.4 L415.0,355.3 L415.5,357.1 L416.0,357.1 L416.5,356.5 L417.0,353.5 L417.5,351.4 L418.0,354.2 L418.5,357.5 L419.0,355.8 L419.5,356.8 L420.0,356.6 L420.5,355.8 L421.0,355.4 L421.5,356.2 L422.0,357.1 L422.5,357.0 L423.0,354.9 L423.5,355.2 L424.0,354.7 L424.5,355.2 L425.0,354.6 L425.5,354.4 L426.0,355.4 L426.5,355.8 L427.0,356.0 L427.5,356.4 L428.0,357.8 L428.5,356.5 L429.0,355.6 L429.5,355.2 L430.0,349.9 L430.5,346.0 L431.0,349.6 L431.5,351.9 L432.0,354.5 L432.5,355.3 L433.0,355.3 L433.5,356.2 L434.0,357.2 L434.5,357.0 L435.0,357.0 L435.5,356.7 L436.0,354.6 L436.5,354.3 L437.0,353.6 L437.5,353.3 L438.0,355.3 L438.5,356.8 L439.0,354.9 L439.5,354.7 L440.0,353.6 L440.5,354.0 L441.0,356.3 L441.5,356.3 L442.0,354.6 L442.5,354.0 L443.0,353.3 L443.5,350.7 L444.0,353.2 L444.5,354.5 L445.0,356.8 L445.5,358.8 L446.0,358.4 L446.5,356.6 L447.0,356.3 L447.5,357.5 L448.0,358.0 L448.5,356.4 L449.0,356.3 L449.5,351.2 L450.0,349.7 L450.5,352.3 L451.0,357.5 L451.5,356.3 L452.0,356.3 L452.5,356.6 L453.0,356.2 L453.5,355.9 L454.0,358.5 L454.5,357.0 L455.0,357.9 L455.5,353.7 L456.0,348.1 L456.5,349.3 L457.0,354.5 L457.5,356.5 L458.0,357.8 L458.5,355.3 L459.0,356.4 L459.5,356.7 L460.0,355.3 L460.5,356.3 L461.0,355.4 L461.5,353.8 L462.0,354.9 L462.5,351.6 L463.0,353.9 L463.5,356.7 L464.0,354.8 L464.5,357.6 L465.0,356.0 L465.5,356.0 L466.0,354.4 L466.5,355.9 L467.0,357.2 L467.5,357.5 L468.0,352.1 L468.5,348.7 L469.0,351.7 L469.5,356.9 L470.0,356.6 L470.5,356.8 L471.0,355.9 L471.5,357.9 L472.0,357.1 L472.5,355.8 L473.0,357.5 L473.5,357.5 L474.0,354.0 L474.5,351.3 L475.0,348.9 L475.5,350.1 L476.0,353.4 L476.5,355.2 L477.0,353.9 L477.5,354.7 L478.0,355.3 L478.5,354.8 L479.0,356.4 L479.5,357.8 L480.0,357.0 L480.5,357.8 L481.0,354.5 L481.5,351.2 L482.0,352.2 L482.5,356.4 L483.0,355.3 L483.5,354.2 L484.0,353.1 L484.5,354.6 L485.0,356.3 L485.5,354.8 L486.0,354.0 L486.5,356.0 L487.0,355.2 L487.5,351.3 L488.0,350.7 L488.5,354.4 L489.0,357.4 L489.5,357.4 L490.0,356.3 L490.5,357.2 L491.0,354.3 L491.5,353.8 L492.0,355.9 L492.5,356.0 L493.0,353.3 L493.5,355.0 L494.0,353.0 L494.5,353.0 L495.0,354.8 L495.5,355.6 L496.0,356.3 L496.5,354.0 L497.0,354.2" fill="none" stroke="#000" stroke-width="1.7" stroke-linejoin="round" />
<path d="M336.3,368.5 L336.3,236 L338,226.7 L339.6,236 L339.6,368.5 Z" fill="#000"/>
<path d="M496.5,372 L496.5,310 L497.6,297.3 L499,310 L500.5,372 Z" fill="#000"/>
</svg></body></html>
